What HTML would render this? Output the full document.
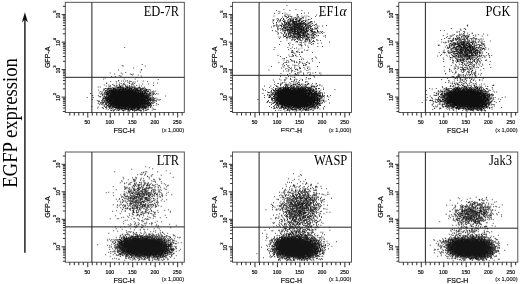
<!DOCTYPE html>
<html lang="en"><head><meta charset="utf-8"><title>EGFP expression</title>
<style>
html,body{margin:0;padding:0;background:#fff}
body{width:520px;height:284px;overflow:hidden}
svg{display:block}
text{font-family:"Liberation Sans",Arial,Helvetica,sans-serif;fill:#111}
.d{stroke:#000;stroke-width:.86;fill:none}
.f{fill:none;stroke:#444;stroke-width:.9}
.g{fill:none;stroke:#222;stroke-width:1}
.k{fill:none;stroke:#222;stroke-width:.95}
.n{font-size:5.1px;text-anchor:middle;stroke:#111;stroke-width:.22}
.y{font-size:4.8px;stroke:#111;stroke-width:.22}
.s{font-size:4.1px}
.m{font-size:5.7px;text-anchor:end;stroke:#111;stroke-width:.12}
.a{font-size:7px;text-anchor:middle;stroke:#111;stroke-width:.22}
.t{font-family:"Liberation Serif","Times New Roman",Times,serif;font-size:12.5px;fill:#000}
.big{font-family:"Liberation Serif","Times New Roman",Times,serif;font-size:18.6px;fill:#000}
</style></head><body>
<svg width="520" height="284" viewBox="0 0 520 284">
<defs><filter id="soft" x="0" y="0" width="520" height="284" filterUnits="userSpaceOnUse"><feGaussianBlur stdDeviation="0.3"/></filter></defs>
<rect width="520" height="284" fill="#fff"/>
<g filter="url(#soft)">
<text class="big" transform="translate(16.5 187.8) rotate(-90) scale(1 1.14)" textLength="129.7" lengthAdjust="spacingAndGlyphs">EGFP expression</text>
<path d="M24.9 252.8V18" stroke="#222" stroke-width="1.5" fill="none"/>
<path d="M24.9 12.2L27.9 22.4L24.9 19.6L21.9 22.4Z" fill="#111"/>
<g>
<path class="d" d="M124.3 47.55h.83M141.8 64.55h.83M121.8 65.55h.83M122.8 66.05h.83M144.8 66.05h.83M133.3 68.05h.83M141.3 69.55h.83M118.3 70.05h.83M140.8 70.05h.83M139.8 72.05h.83M125.3 72.55h.83M109.8 73.05h.83M120.8 73.05h.83M114.3 74.05h.83M122.3 74.05h.83M129.8 74.05h.83M132.8 74.05h.83M131.3 74.55h.83M132.3 75.05h.83M137.8 75.05h.83M118.8 75.55h.83M119.8 76.05h.83M120.8 76.05h.83M140.8 76.05h.83M111.3 76.55h.83M114.8 76.55h.83M136.3 77.55h.83M104.8 78.05h.83M103.3 79.05h.83M123.8 79.05h.83M134.8 79.05h.83M157.8 79.55h.83M118.3 80.55h.83M126.8 80.55h.83M118.3 81.05h.83M121.3 81.05h.83M123.3 81.05h.83M125.3 81.05h.83M129.3 81.05h.83M137.3 81.05h.83M142.8 81.05h.83M110.3 81.55h.83M115.8 81.55h.83M130.3 81.55h1.33M147.3 81.55h.83M127.3 82.05h.83M128.8 82.05h.83M132.8 82.05h.83M134.8 82.05h.83M106.3 83.05h.83M116.3 83.05h.83M119.3 83.05h.83M123.8 83.05h.83M128.8 83.05h.83M132.3 83.05h.83M153.3 83.05h.83M157.3 83.05h.83M106.3 83.55h.83M120.8 83.55h.83M123.3 83.55h.83M129.3 83.55h.83M134.3 83.55h.83M131.3 84.05h.83M132.3 84.05h1.33M142.3 84.05h.83M148.3 84.05h.83M112.3 84.55h.83M118.8 84.55h.83M123.3 84.55h.83M124.3 84.55h.83M103.8 85.05h.83M108.3 85.05h.83M113.3 85.05h.83M116.3 85.05h.83M118.8 85.05h.83M121.8 85.05h.83M124.8 85.05h.83M126.8 85.05h.83M131.3 85.05h.83M132.8 85.05h.83M138.8 85.05h.83M109.8 85.55h.83M114.3 85.55h.83M119.3 85.55h.83M125.3 85.55h.83M128.8 85.55h.83M136.3 85.55h.83M153.3 85.55h.83M105.8 86.05h.83M109.8 86.05h.83M115.8 86.05h1.83M119.8 86.05h.83M121.3 86.05h.83M122.3 86.05h1.33M129.3 86.05h.83M134.3 86.05h.83M141.3 86.05h.83M108.8 86.55h.83M118.8 86.55h.83M119.8 86.55h1.33M125.3 86.55h.83M126.3 86.55h.83M127.3 86.55h.83M128.8 86.55h.83M130.8 86.55h.83M131.8 86.55h.83M97.8 87.05h.83M99.8 87.05h.83M110.3 87.05h.83M113.8 87.05h.83M114.8 87.05h.83M115.8 87.05h.83M118.3 87.05h.83M119.8 87.05h1.33M121.8 87.05h.83M125.8 87.05h.83M126.8 87.05h1.33M129.3 87.05h1.33M131.3 87.05h.83M132.8 87.05h.83M133.8 87.05h.83M134.8 87.05h.83M138.8 87.05h1.33M144.3 87.05h.83M111.8 87.55h.83M116.8 87.55h2.33M119.3 87.55h.83M120.3 87.55h1.83M122.3 87.55h.83M123.3 87.55h.83M125.8 87.55h.83M126.8 87.55h1.83M128.8 87.55h.83M132.3 87.55h.83M134.3 87.55h.83M138.3 87.55h.83M139.3 87.55h.83M107.8 88.05h1.83M112.8 88.05h1.33M115.8 88.05h.83M117.3 88.05h2.83M120.3 88.05h.83M121.8 88.05h.83M122.8 88.05h.83M123.8 88.05h1.33M125.3 88.05h.83M126.8 88.05h.83M127.8 88.05h4.83M133.3 88.05h.83M134.3 88.05h1.33M136.3 88.05h.83M137.3 88.05h1.33M139.3 88.05h.83M140.3 88.05h.83M142.3 88.05h.83M143.3 88.05h.83M144.3 88.05h.83M104.8 88.55h1.83M107.3 88.55h.83M108.3 88.55h.83M109.3 88.55h2.33M112.8 88.55h2.33M115.3 88.55h.83M117.3 88.55h.83M119.8 88.55h.83M120.8 88.55h.83M122.3 88.55h1.83M124.8 88.55h1.33M126.3 88.55h.83M127.3 88.55h.83M128.8 88.55h1.33M130.3 88.55h1.83M133.8 88.55h1.33M135.3 88.55h.83M136.3 88.55h1.33M139.8 88.55h.83M141.3 88.55h1.33M143.3 88.55h.83M145.3 88.55h.83M103.3 89.05h1.33M107.8 89.05h.83M108.8 89.05h.83M109.8 89.05h1.33M111.3 89.05h.83M112.3 89.05h1.83M114.3 89.05h1.33M116.3 89.05h.83M117.8 89.05h.83M118.8 89.05h2.83M121.8 89.05h2.83M124.8 89.05h.83M125.8 89.05h1.33M127.3 89.05h.83M128.8 89.05h1.83M130.8 89.05h1.83M134.8 89.05h2.83M137.8 89.05h1.33M139.8 89.05h1.33M141.3 89.05h1.33M103.8 89.55h.83M107.3 89.55h1.33M110.8 89.55h.83M112.8 89.55h4.83M117.8 89.55h.83M118.8 89.55h3.83M122.8 89.55h3.33M126.3 89.55h.83M127.3 89.55h3.33M130.8 89.55h1.83M132.8 89.55h1.33M134.3 89.55h1.33M135.8 89.55h1.33M137.3 89.55h.83M139.8 89.55h.83M140.8 89.55h.83M141.8 89.55h.83M143.8 89.55h.83M145.3 89.55h2.33M149.3 89.55h.83M98.3 90.05h.83M106.3 90.05h2.33M109.3 90.05h.83M110.8 90.05h.83M111.8 90.05h2.33M114.8 90.05h1.33M116.3 90.05h1.33M117.8 90.05h3.33M121.3 90.05h2.33M123.8 90.05h6.83M130.8 90.05h1.33M132.8 90.05h1.33M134.8 90.05h3.33M139.3 90.05h1.83M142.8 90.05h.83M143.8 90.05h.83M145.3 90.05h1.83M147.8 90.05h1.33M150.3 90.05h.83M103.3 90.55h.83M105.3 90.55h1.33M108.8 90.55h7.33M116.3 90.55h4.33M121.3 90.55h2.83M124.3 90.55h1.33M125.8 90.55h5.83M131.8 90.55h1.33M133.3 90.55h2.83M136.3 90.55h4.33M140.8 90.55h.83M143.3 90.55h1.33M145.3 90.55h1.33M104.8 91.05h.83M105.8 91.05h.83M107.3 91.05h4.33M111.8 91.05h23.33M135.3 91.05h.83M136.3 91.05h2.83M139.8 91.05h.83M140.8 91.05h1.33M142.3 91.05h.83M144.3 91.05h1.33M145.8 91.05h1.33M147.3 91.05h.83M149.8 91.05h.83M153.3 91.05h.83M155.3 91.05h.83M99.8 91.55h.83M104.8 91.55h.83M106.8 91.55h1.33M108.3 91.55h1.33M109.8 91.55h.83M110.8 91.55h23.83M134.8 91.55h1.83M137.3 91.55h.83M138.3 91.55h.83M139.3 91.55h1.33M141.3 91.55h2.33M143.8 91.55h.83M144.8 91.55h.83M146.8 91.55h2.33M152.3 91.55h.83M101.3 92.05h.83M102.3 92.05h.83M106.8 92.05h.83M108.3 92.05h28.83M137.3 92.05h3.83M142.3 92.05h.83M143.8 92.05h1.33M145.3 92.05h.83M146.8 92.05h.83M151.3 92.05h.83M153.8 92.05h.83M104.3 92.55h1.33M105.8 92.55h1.33M107.3 92.55h.83M108.3 92.55h1.33M109.8 92.55h.83M110.8 92.55h26.33M137.3 92.55h1.83M139.8 92.55h1.83M141.8 92.55h1.33M143.8 92.55h.83M144.8 92.55h1.33M148.8 92.55h.83M149.8 92.55h.83M152.8 92.55h.83M98.8 93.05h.83M104.3 93.05h.83M106.3 93.05h.83M107.3 93.05h.83M108.3 93.05h.83M109.3 93.05h.83M110.3 93.05h12.33M122.8 93.05h15.33M138.3 93.05h4.83M143.3 93.05h1.33M144.8 93.05h.83M145.8 93.05h1.33M151.8 93.05h.83M90.3 93.55h.83M101.3 93.55h.83M104.8 93.55h.83M105.8 93.55h.83M106.8 93.55h2.83M109.8 93.55h35.33M145.3 93.55h1.83M147.3 93.55h.83M148.8 93.55h2.33M152.8 93.55h.83M153.8 93.55h.83M156.3 93.55h.83M100.3 94.05h.83M102.3 94.05h1.33M103.8 94.05h.83M106.3 94.05h1.33M107.8 94.05h2.33M110.3 94.05h33.33M144.3 94.05h.83M145.3 94.05h.83M146.3 94.05h1.33M148.3 94.05h1.33M150.3 94.05h.83M152.8 94.05h.83M157.8 94.05h.83M101.8 94.55h.83M104.8 94.55h.83M105.8 94.55h2.33M108.3 94.55h.83M109.8 94.55h.83M110.8 94.55h28.33M139.3 94.55h4.83M144.3 94.55h.83M145.8 94.55h.83M146.8 94.55h.83M148.3 94.55h1.33M152.8 94.55h.83M154.8 94.55h.83M102.3 95.05h.83M104.3 95.05h.83M106.8 95.05h38.83M146.3 95.05h.83M148.3 95.05h.83M149.3 95.05h.83M150.8 95.05h.83M151.8 95.05h1.33M92.3 95.55h.83M97.8 95.55h.83M102.3 95.55h.83M106.3 95.55h.83M108.3 95.55h35.83M144.3 95.55h3.83M148.3 95.55h.83M149.3 95.55h1.33M103.8 96.05h.83M105.8 96.05h.83M106.8 96.05h4.83M111.8 96.05h27.33M139.3 96.05h7.33M146.8 96.05h.83M148.3 96.05h.83M149.8 96.05h.83M165.3 96.05h.83M98.8 96.55h.83M100.3 96.55h.83M104.3 96.55h.83M105.8 96.55h.83M107.8 96.55h37.33M145.3 96.55h3.33M148.8 96.55h.83M151.8 96.55h.83M99.8 97.05h.83M102.8 97.05h1.33M104.3 97.05h1.83M106.3 97.05h.83M107.3 97.05h37.33M144.8 97.05h4.33M86.8 97.55h.83M92.8 97.55h.83M104.8 97.55h1.33M106.3 97.55h2.83M109.3 97.55h34.33M143.8 97.55h3.33M147.3 97.55h.83M148.3 97.55h.83M149.3 97.55h.83M150.3 97.55h.83M151.8 97.55h.83M153.3 97.55h.83M102.8 98.05h.83M104.8 98.05h3.83M109.3 98.05h39.83M150.3 98.05h.83M151.3 98.05h.83M153.3 98.05h.83M155.3 98.05h.83M102.8 98.55h1.33M104.3 98.55h.83M105.3 98.55h35.33M140.8 98.55h3.33M144.3 98.55h4.33M149.3 98.55h.83M150.3 98.55h.83M152.3 98.55h.83M153.8 98.55h.83M102.3 99.05h1.33M104.3 99.05h1.33M105.8 99.05h1.33M107.8 99.05h2.33M110.3 99.05h26.33M136.8 99.05h12.33M149.3 99.05h.83M150.3 99.05h1.33M152.8 99.05h.83M155.8 99.05h.83M157.3 99.05h.83M91.8 99.55h.83M102.3 99.55h.83M105.3 99.55h1.33M106.8 99.55h5.33M112.3 99.55h32.83M145.3 99.55h.83M146.8 99.55h1.33M148.3 99.55h2.83M151.3 99.55h.83M152.3 99.55h.83M153.3 99.55h1.33M159.8 99.55h.83M103.3 100.05h.83M105.8 100.05h1.83M107.8 100.05h.83M108.8 100.05h39.33M148.3 100.05h1.83M153.3 100.05h.83M157.8 100.05h.83M159.3 100.05h.83M96.8 100.55h.83M101.3 100.55h.83M102.3 100.55h.83M104.3 100.55h1.33M105.8 100.55h2.83M108.8 100.55h37.33M146.3 100.55h2.83M149.8 100.55h1.33M151.3 100.55h.83M152.3 100.55h1.33M154.3 100.55h1.33M155.8 100.55h.83M97.8 101.05h.83M98.8 101.05h.83M103.8 101.05h1.33M106.8 101.05h1.33M108.3 101.05h36.83M145.3 101.05h2.33M147.8 101.05h.83M148.8 101.05h.83M149.8 101.05h1.33M151.8 101.05h.83M153.8 101.05h.83M98.8 101.55h.83M102.3 101.55h.83M104.8 101.55h.83M106.3 101.55h1.33M107.8 101.55h31.83M139.8 101.55h3.83M143.8 101.55h3.33M147.3 101.55h1.83M152.8 101.55h.83M155.8 101.55h.83M98.3 102.05h.83M101.3 102.05h.83M103.3 102.05h1.83M105.8 102.05h.83M107.3 102.05h.83M108.3 102.05h1.33M109.8 102.05h37.33M147.3 102.05h.83M148.3 102.05h.83M149.8 102.05h.83M152.3 102.05h.83M100.3 102.55h.83M101.8 102.55h.83M103.3 102.55h.83M105.3 102.55h1.33M107.3 102.55h2.33M109.8 102.55h1.83M111.8 102.55h34.33M146.8 102.55h1.33M148.3 102.55h1.83M151.3 102.55h.83M154.3 102.55h.83M100.8 103.05h.83M101.8 103.05h2.33M105.8 103.05h.83M106.8 103.05h1.33M108.8 103.05h40.83M149.8 103.05h.83M150.8 103.05h1.33M152.8 103.05h1.33M97.8 103.55h.83M99.8 103.55h.83M105.3 103.55h1.33M107.8 103.55h.83M108.8 103.55h40.83M149.8 103.55h1.33M152.3 103.55h.83M156.3 103.55h.83M102.3 104.05h.83M105.3 104.05h.83M106.3 104.05h.83M109.3 104.05h30.83M140.3 104.05h3.83M144.3 104.05h2.33M147.3 104.05h.83M148.3 104.05h1.83M150.3 104.05h.83M99.3 104.55h.83M101.3 104.55h.83M104.8 104.55h.83M106.3 104.55h.83M107.8 104.55h1.33M109.8 104.55h2.33M112.3 104.55h29.33M141.8 104.55h1.83M143.8 104.55h2.83M146.8 104.55h1.83M149.3 104.55h1.83M157.8 104.55h.83M102.8 105.05h.83M104.3 105.05h.83M106.3 105.05h.83M108.8 105.05h.83M109.8 105.05h1.33M111.3 105.05h2.33M113.8 105.05h2.83M116.8 105.05h19.83M136.8 105.05h2.83M139.8 105.05h3.33M143.3 105.05h.83M144.8 105.05h.83M146.3 105.05h2.33M149.3 105.05h1.33M151.3 105.05h.83M155.8 105.05h.83M106.8 105.55h1.33M108.3 105.55h.83M109.8 105.55h1.33M111.3 105.55h1.33M112.8 105.55h1.83M114.8 105.55h15.83M130.8 105.55h10.83M141.8 105.55h3.33M146.3 105.55h1.33M147.8 105.55h2.33M150.8 105.55h.83M153.3 105.55h.83M104.3 106.05h.83M107.8 106.05h1.33M109.3 106.05h.83M110.3 106.05h.83M111.3 106.05h9.33M120.8 106.05h14.33M135.3 106.05h5.33M141.3 106.05h1.33M142.8 106.05h3.33M146.8 106.05h.83M148.3 106.05h.83M150.3 106.05h.83M151.3 106.05h.83M91.3 106.55h.83M103.8 106.55h.83M106.3 106.55h.83M108.8 106.55h1.33M110.3 106.55h.83M112.3 106.55h2.33M115.3 106.55h1.83M117.3 106.55h5.33M122.8 106.55h15.83M138.8 106.55h2.33M141.3 106.55h2.33M143.8 106.55h2.33M146.3 106.55h.83M147.8 106.55h.83M149.8 106.55h.83M97.8 107.05h.83M105.3 107.05h1.33M107.8 107.05h2.33M110.3 107.05h1.33M111.8 107.05h1.83M113.8 107.05h6.83M120.8 107.05h2.83M123.8 107.05h2.33M126.3 107.05h3.83M130.3 107.05h10.33M140.8 107.05h2.33M143.3 107.05h.83M144.8 107.05h2.33M147.3 107.05h.83M150.3 107.05h.83M101.8 107.55h.83M105.3 107.55h1.33M109.3 107.55h.83M112.3 107.55h.83M113.8 107.55h3.33M117.3 107.55h3.83M121.3 107.55h1.83M123.3 107.55h3.33M127.3 107.55h1.33M128.8 107.55h1.33M130.3 107.55h6.33M136.8 107.55h3.83M140.8 107.55h.83M141.8 107.55h1.33M143.3 107.55h2.83M146.3 107.55h.83M147.8 107.55h.83M149.8 107.55h.83M97.3 108.05h.83M102.8 108.05h.83M106.3 108.05h.83M110.3 108.05h.83M111.3 108.05h.83M112.8 108.05h.83M115.8 108.05h1.83M118.3 108.05h1.83M120.3 108.05h3.33M123.8 108.05h.83M124.8 108.05h1.33M126.3 108.05h4.33M130.8 108.05h3.83M135.3 108.05h.83M136.8 108.05h2.83M139.8 108.05h.83M141.3 108.05h2.83M145.3 108.05h.83M151.8 108.05h.83M102.8 108.55h.83M109.3 108.55h.83M110.8 108.55h.83M115.3 108.55h.83M116.8 108.55h.83M117.8 108.55h1.83M120.3 108.55h6.83M127.8 108.55h1.33M129.8 108.55h.83M130.8 108.55h1.83M132.8 108.55h.83M133.8 108.55h1.83M135.8 108.55h.83M136.8 108.55h.83M137.8 108.55h1.83M140.8 108.55h.83M142.8 108.55h.83M144.3 108.55h1.83M105.8 109.05h.83M111.8 109.05h.83M112.8 109.05h.83M116.8 109.05h1.33M118.8 109.05h1.83M120.8 109.05h.83M121.8 109.05h1.33M123.8 109.05h.83M124.8 109.05h.83M126.3 109.05h1.83M128.3 109.05h1.83M131.3 109.05h2.33M134.3 109.05h.83M136.8 109.05h.83M137.8 109.05h1.33M139.3 109.05h1.33M143.3 109.05h.83M146.3 109.05h1.33M147.8 109.05h.83M153.3 109.05h.83M107.8 109.55h.83M114.3 109.55h1.33M118.8 109.55h.83M120.8 109.55h.83M125.3 109.55h.83M126.3 109.55h1.33M127.8 109.55h1.33M129.8 109.55h3.33M133.8 109.55h.83M135.8 109.55h.83M136.8 109.55h1.33M138.3 109.55h.83M141.8 109.55h.83M142.8 109.55h.83M147.3 109.55h1.33M153.8 109.55h.83M154.8 109.55h.83M110.3 110.05h.83M116.3 110.05h1.33M117.8 110.05h.83M118.8 110.05h.83M121.8 110.05h.83M122.8 110.05h.83M123.8 110.05h1.83M127.8 110.05h1.33M130.3 110.05h.83M132.3 110.05h1.83M134.3 110.05h.83M135.3 110.05h.83M137.3 110.05h.83M138.3 110.05h1.33M139.8 110.05h.83M143.3 110.05h.83M145.3 110.05h.83M151.8 110.05h.83M110.8 110.55h1.33M112.8 110.55h.83M113.8 110.55h.83M118.3 110.55h.83M122.3 110.55h.83M123.3 110.55h.83M128.8 110.55h.83M132.3 110.55h.83M134.8 110.55h.83M135.8 110.55h1.33M138.8 110.55h.83M140.3 110.55h1.33M144.8 110.55h.83M146.3 110.55h.83M112.8 111.05h.83M123.3 111.05h.83M127.3 111.05h.83M128.3 111.05h.83M129.3 111.05h.83M133.8 111.05h1.33M140.3 111.05h1.33M143.3 111.05h.83"/>
<rect class="f" x="65.30" y="2.30" width="119.00" height="110.20"/>
<path class="g" d="M91.90 2.30V112.50M65.30 77.30H184.30"/>
<path class="k" d="M69.80 112.50v3.0M74.29 112.50v3.0M78.78 112.50v3.0M83.28 112.50v3.0M87.78 112.50v5.0M92.27 112.50v3.0M96.77 112.50v3.0M101.26 112.50v3.0M105.75 112.50v3.0M110.25 112.50v5.0M114.75 112.50v3.0M119.24 112.50v3.0M123.73 112.50v3.0M128.23 112.50v3.0M132.72 112.50v5.0M137.22 112.50v3.0M141.72 112.50v3.0M146.21 112.50v3.0M150.70 112.50v3.0M155.20 112.50v5.0M159.69 112.50v3.0M164.19 112.50v3.0M168.69 112.50v3.0M173.18 112.50v3.0M177.68 112.50v5.0M182.17 112.50v3.0M65.30 111.48h-2.4M65.30 108.04h-2.4M65.30 105.38h-2.4M65.30 103.20h-2.4M65.30 101.36h-2.4M65.30 99.77h-2.4M65.30 98.36h-2.4M65.30 97.10h-3.7M65.30 88.82h-2.4M65.30 83.98h-2.4M65.30 80.54h-2.4M65.30 77.88h-2.4M65.30 75.70h-2.4M65.30 73.86h-2.4M65.30 72.27h-2.4M65.30 70.86h-2.4M65.30 69.60h-3.7M65.30 61.32h-2.4M65.30 56.48h-2.4M65.30 53.04h-2.4M65.30 50.38h-2.4M65.30 48.20h-2.4M65.30 46.36h-2.4M65.30 44.77h-2.4M65.30 43.36h-2.4M65.30 42.10h-3.7M65.30 33.82h-2.4M65.30 28.98h-2.4M65.30 25.54h-2.4M65.30 22.88h-2.4M65.30 20.70h-2.4M65.30 18.86h-2.4M65.30 17.27h-2.4M65.30 15.86h-2.4M65.30 14.60h-3.7M65.30 6.32h-2.4"/>
<text class="n" x="87.38" y="124.10">50</text>
<text class="n" x="109.85" y="124.10">100</text>
<text class="n" x="132.32" y="124.10">150</text>
<text class="n" x="154.80" y="124.10">200</text>
<text class="n" x="177.28" y="124.10">250</text>
<text class="a" x="124.20" y="132.90">FSC-H</text>
<text class="m" x="184.20" y="131.70">(x 1,000)</text>
<text class="y" transform="translate(59.70 100.70) rotate(-90)">10<tspan class="s" dx=".2" dy="-3.7">2</tspan></text>
<text class="y" transform="translate(59.70 73.20) rotate(-90)">10<tspan class="s" dx=".2" dy="-3.7">3</tspan></text>
<text class="y" transform="translate(59.70 45.70) rotate(-90)">10<tspan class="s" dx=".2" dy="-3.7">4</tspan></text>
<text class="y" transform="translate(59.70 18.20) rotate(-90)">10<tspan class="s" dx=".2" dy="-3.7">5</tspan></text>
<text class="a" transform="translate(49.60 57.40) rotate(-90)">GFP-A</text>
<text class="t" transform="translate(143.70 15.95) scale(1 1.14)">ED-7R</text>
</g>
<g>
<path class="d" d="M286.5 5.55h.83M283.5 9.55h.83M295.5 9.55h.83M276 10.55h.83M289.5 10.55h.83M301.5 10.55h.83M278.5 11.55h.83M279.5 12.05h.83M284.5 13.05h.83M304 13.05h.83M308 13.05h.83M274 13.55h.83M278.5 13.55h.83M282 13.55h.83M301 13.55h.83M286.5 14.05h.83M297 14.55h.83M284.5 15.05h1.33M287.5 15.05h.83M289.5 15.05h.83M296.5 15.05h.83M297.5 15.05h.83M316 15.05h.83M273.5 16.05h.83M284 16.05h.83M288 16.05h.83M301.5 16.05h.83M304.5 16.05h.83M306.5 16.05h.83M285 16.55h.83M286 16.55h.83M288.5 16.55h.83M290 16.55h.83M291.5 16.55h.83M298 16.55h.83M308.5 16.55h.83M315 16.55h.83M319.5 16.55h.83M282 17.05h.83M288 17.05h.83M291 17.05h.83M296.5 17.05h1.33M303 17.05h.83M287 17.55h1.33M294.5 17.55h1.33M298.5 17.55h.83M302 17.55h.83M286 18.05h.83M291.5 18.05h.83M293.5 18.05h.83M297.5 18.05h.83M301.5 18.05h.83M303 18.05h.83M305.5 18.05h.83M277.5 18.55h.83M281 18.55h.83M283 18.55h.83M289.5 18.55h.83M291.5 18.55h.83M296 18.55h.83M300 18.55h.83M301 18.55h.83M311 18.55h.83M276.5 19.05h.83M283 19.05h.83M289.5 19.05h1.33M293 19.05h1.33M295 19.05h.83M296 19.05h1.83M299 19.05h1.33M273.5 19.55h.83M278 19.55h.83M280 19.55h.83M283 19.55h.83M288 19.55h.83M290 19.55h.83M292.5 19.55h1.33M295 19.55h1.33M299.5 19.55h1.33M308 19.55h.83M309.5 19.55h.83M272.5 20.05h.83M280 20.05h.83M284 20.05h.83M287.5 20.05h.83M289.5 20.05h.83M290.5 20.05h2.33M296 20.05h.83M298.5 20.05h1.83M301.5 20.05h.83M305.5 20.05h.83M307.5 20.05h.83M273 20.55h.83M277.5 20.55h.83M279.5 20.55h1.33M282 20.55h.83M290 20.55h.83M291.5 20.55h1.33M293 20.55h.83M297.5 20.55h2.83M303 20.55h.83M304.5 20.55h.83M305.5 20.55h.83M277 21.05h.83M284 21.05h.83M285 21.05h.83M287 21.05h.83M288.5 21.05h.83M290 21.05h1.33M292.5 21.05h.83M295 21.05h.83M296 21.05h1.33M299.5 21.05h.83M302 21.05h.83M279.5 21.55h.83M283 21.55h1.83M289.5 21.55h1.33M291.5 21.55h1.33M293 21.55h4.33M298 21.55h1.83M301 21.55h1.83M305 21.55h1.33M310 21.55h.83M311 21.55h1.33M272.5 22.05h.83M278.5 22.05h.83M287 22.05h.83M288 22.05h1.83M292 22.05h1.83M294 22.05h.83M296 22.05h1.33M298.5 22.05h.83M301 22.05h.83M303 22.05h.83M307.5 22.05h.83M314 22.05h.83M276 22.55h.83M284 22.55h1.33M285.5 22.55h.83M286.5 22.55h.83M288 22.55h.83M289.5 22.55h.83M292.5 22.55h1.33M294.5 22.55h.83M295.5 22.55h1.33M299.5 22.55h.83M300.5 22.55h.83M303.5 22.55h1.33M308.5 22.55h.83M309.5 22.55h1.33M276 23.05h.83M281 23.05h.83M286 23.05h1.33M288 23.05h.83M289.5 23.05h1.33M291.5 23.05h1.33M293 23.05h2.33M295.5 23.05h.83M297 23.05h.83M298 23.05h.83M299 23.05h3.83M303.5 23.05h.83M305.5 23.05h.83M309 23.05h.83M310.5 23.05h.83M311.5 23.05h.83M273 23.55h.83M282 23.55h.83M284 23.55h.83M286 23.55h1.33M288 23.55h1.83M293 23.55h.83M294 23.55h1.33M295.5 23.55h1.33M297 23.55h.83M298 23.55h1.83M300 23.55h1.33M301.5 23.55h1.33M303 23.55h1.33M304.5 23.55h1.33M307.5 23.55h1.33M312 23.55h.83M285 24.05h1.33M287.5 24.05h.83M288.5 24.05h.83M289.5 24.05h.83M291 24.05h4.33M296 24.05h1.33M297.5 24.05h1.33M300 24.05h1.33M301.5 24.05h2.33M304.5 24.05h.83M306.5 24.05h.83M307.5 24.05h1.33M316 24.05h.83M276.5 24.55h.83M282 24.55h.83M284.5 24.55h.83M285.5 24.55h.83M286.5 24.55h.83M287.5 24.55h.83M289 24.55h1.83M291.5 24.55h1.33M294 24.55h2.83M297 24.55h1.83M299 24.55h.83M300 24.55h1.83M304 24.55h.83M305 24.55h.83M306.5 24.55h.83M310.5 24.55h.83M315 24.55h.83M276 25.05h.83M279.5 25.05h.83M281 25.05h.83M283 25.05h1.33M284.5 25.05h2.33M288 25.05h1.33M290.5 25.05h.83M293 25.05h2.33M295.5 25.05h.83M296.5 25.05h1.83M299 25.05h1.33M301.5 25.05h1.33M303 25.05h.83M305 25.05h1.33M306.5 25.05h1.33M309 25.05h.83M313.5 25.05h.83M316 25.05h.83M273.5 25.55h.83M274.5 25.55h.83M280 25.55h.83M281 25.55h.83M283.5 25.55h1.33M288 25.55h1.33M289.5 25.55h1.33M291.5 25.55h.83M292.5 25.55h.83M293.5 25.55h.83M294.5 25.55h.83M295.5 25.55h1.33M297 25.55h1.33M298.5 25.55h1.83M300.5 25.55h.83M302.5 25.55h.83M305 25.55h1.33M306.5 25.55h.83M308.5 25.55h.83M309.5 25.55h1.33M312 25.55h.83M314 25.55h.83M326 25.55h.83M276 26.05h.83M277 26.05h.83M278 26.05h1.33M281.5 26.05h.83M283 26.05h.83M285.5 26.05h.83M286.5 26.05h1.33M290 26.05h.83M292.5 26.05h1.33M294.5 26.05h1.33M296 26.05h.83M297 26.05h4.33M301.5 26.05h1.33M305 26.05h.83M306.5 26.05h.83M308 26.05h.83M309 26.05h.83M317 26.05h.83M318.5 26.05h.83M322 26.05h.83M273.5 26.55h.83M281.5 26.55h.83M283.5 26.55h1.33M286.5 26.55h.83M287.5 26.55h.83M289.5 26.55h.83M291.5 26.55h.83M292.5 26.55h1.33M294 26.55h2.33M296.5 26.55h.83M298 26.55h.83M299 26.55h.83M300 26.55h.83M301 26.55h.83M302 26.55h1.33M304.5 26.55h1.33M307.5 26.55h.83M310 26.55h.83M311 26.55h.83M271 27.05h.83M281 27.05h.83M285 27.05h.83M287 27.05h2.83M290.5 27.05h1.83M292.5 27.05h1.33M294 27.05h.83M295.5 27.05h1.33M297 27.05h2.33M301 27.05h1.33M303.5 27.05h1.33M306.5 27.05h1.83M308.5 27.05h.83M310 27.05h1.33M315.5 27.05h.83M277.5 27.55h.83M283 27.55h.83M284 27.55h.83M285 27.55h1.33M286.5 27.55h.83M289 27.55h3.83M294 27.55h.83M295 27.55h2.33M297.5 27.55h2.83M300.5 27.55h.83M301.5 27.55h.83M303 27.55h1.33M306 27.55h.83M308 27.55h.83M309.5 27.55h.83M317 27.55h.83M277 28.05h.83M283 28.05h1.83M286 28.05h1.83M288.5 28.05h.83M290.5 28.05h.83M291.5 28.05h.83M293 28.05h3.33M297 28.05h2.33M299.5 28.05h1.83M302 28.05h2.83M305 28.05h1.83M307 28.05h1.83M314 28.05h1.33M317.5 28.05h.83M279.5 28.55h.83M280.5 28.55h.83M282 28.55h.83M285 28.55h1.33M289.5 28.55h.83M290.5 28.55h.83M291.5 28.55h1.83M293.5 28.55h1.33M295.5 28.55h.83M296.5 28.55h1.83M298.5 28.55h.83M299.5 28.55h.83M300.5 28.55h1.83M303 28.55h.83M306 28.55h1.33M308 28.55h.83M310 28.55h1.33M312 28.55h.83M315.5 28.55h1.33M277 29.05h.83M278 29.05h.83M282 29.05h1.33M284 29.05h.83M285 29.05h.83M287.5 29.05h1.33M289.5 29.05h1.83M291.5 29.05h4.33M296 29.05h.83M298 29.05h4.33M302.5 29.05h.83M303.5 29.05h2.33M310 29.05h.83M311 29.05h.83M315 29.05h.83M316 29.05h.83M281.5 29.55h.83M286.5 29.55h2.83M289.5 29.55h1.33M291 29.55h1.33M292.5 29.55h.83M293.5 29.55h1.33M295 29.55h1.33M296.5 29.55h1.33M298.5 29.55h4.33M303 29.55h.83M305.5 29.55h1.83M309 29.55h.83M312 29.55h.83M313.5 29.55h.83M277.5 30.05h.83M280 30.05h.83M282 30.05h.83M283 30.05h.83M285.5 30.05h1.33M287 30.05h.83M288.5 30.05h.83M292 30.05h1.33M294 30.05h2.33M296.5 30.05h1.33M298 30.05h1.83M301 30.05h1.33M302.5 30.05h1.83M304.5 30.05h2.33M307.5 30.05h1.33M311 30.05h.83M312 30.05h.83M317 30.05h.83M272 30.55h.83M284 30.55h.83M285 30.55h1.33M287 30.55h1.33M289 30.55h.83M290 30.55h2.33M293.5 30.55h2.33M297 30.55h1.33M299.5 30.55h.83M300.5 30.55h1.33M302 30.55h2.83M306 30.55h1.33M307.5 30.55h.83M310 30.55h1.83M317 30.55h.83M275 31.05h.83M282.5 31.05h.83M283.5 31.05h.83M285 31.05h.83M287 31.05h.83M288 31.05h.83M289 31.05h.83M290.5 31.05h3.33M294.5 31.05h.83M296.5 31.05h.83M297.5 31.05h1.33M299 31.05h1.33M300.5 31.05h.83M303 31.05h1.33M306 31.05h.83M307.5 31.05h1.33M311 31.05h.83M312 31.05h.83M317 31.05h.83M276.5 31.55h.83M289.5 31.55h.83M290.5 31.55h.83M292 31.55h1.33M293.5 31.55h3.33M297 31.55h.83M298 31.55h.83M300 31.55h2.83M304 31.55h.83M305 31.55h1.33M306.5 31.55h1.33M311 31.55h.83M312 31.55h1.33M314 31.55h1.33M317 31.55h1.33M320.5 31.55h.83M322 31.55h.83M284.5 32.05h.83M287 32.05h.83M288 32.05h.83M289 32.05h.83M291.5 32.05h1.83M293.5 32.05h1.33M295 32.05h1.83M297 32.05h.83M298.5 32.05h1.33M300 32.05h.83M301 32.05h.83M303 32.05h1.33M304.5 32.05h2.33M307 32.05h.83M309.5 32.05h.83M310.5 32.05h.83M311.5 32.05h.83M313 32.05h.83M317.5 32.05h1.33M319.5 32.05h.83M277.5 32.55h.83M280.5 32.55h.83M284 32.55h1.33M289 32.55h.83M290 32.55h1.33M291.5 32.55h.83M294 32.55h1.33M297 32.55h2.83M300 32.55h1.33M301.5 32.55h1.83M303.5 32.55h.83M304.5 32.55h1.83M313.5 32.55h1.33M315 32.55h.83M321 32.55h.83M323.5 32.55h.83M284 33.05h.83M288.5 33.05h.83M289.5 33.05h.83M291.5 33.05h.83M293.5 33.05h.83M295 33.05h.83M298 33.05h2.33M302.5 33.05h1.83M304.5 33.05h1.83M311.5 33.05h1.33M313 33.05h.83M314.5 33.05h.83M316 33.05h.83M317.5 33.05h.83M278 33.55h.83M281.5 33.55h.83M284.5 33.55h.83M286.5 33.55h.83M288 33.55h1.33M290 33.55h.83M292 33.55h.83M293 33.55h2.83M296 33.55h3.33M300.5 33.55h.83M301.5 33.55h.83M302.5 33.55h1.83M305.5 33.55h.83M307 33.55h1.33M312 33.55h1.33M319.5 33.55h.83M322 33.55h.83M277.5 34.05h.83M286 34.05h.83M288 34.05h.83M289 34.05h.83M291 34.05h.83M294 34.05h.83M295 34.05h.83M296 34.05h1.83M298.5 34.05h2.33M301.5 34.05h2.33M304 34.05h1.33M308 34.05h.83M309.5 34.05h.83M313.5 34.05h.83M283 34.55h.83M286 34.55h.83M288 34.55h.83M290 34.55h.83M293 34.55h1.33M295.5 34.55h.83M297 34.55h.83M298 34.55h1.33M299.5 34.55h1.33M303 34.55h1.33M305.5 34.55h.83M307 34.55h.83M308 34.55h.83M311.5 34.55h.83M314 34.55h.83M315 34.55h.83M285 35.05h1.33M292.5 35.05h1.33M294 35.05h1.83M296.5 35.05h.83M298 35.05h.83M299 35.05h.83M302 35.05h1.83M304 35.05h.83M305.5 35.05h1.33M308.5 35.05h.83M309.5 35.05h.83M310.5 35.05h1.33M312 35.05h.83M313 35.05h.83M314.5 35.05h.83M283 35.55h.83M286.5 35.55h.83M288 35.55h.83M290 35.55h.83M291 35.55h.83M292.5 35.55h.83M296.5 35.55h.83M297.5 35.55h.83M299 35.55h3.83M303.5 35.55h.83M304.5 35.55h.83M305.5 35.55h1.83M313 35.55h.83M316.5 35.55h.83M318 35.55h.83M325 35.55h.83M285.5 36.05h.83M289.5 36.05h.83M290.5 36.05h.83M293.5 36.05h1.33M297 36.05h.83M298 36.05h1.33M300 36.05h.83M302 36.05h.83M303 36.05h2.33M305.5 36.05h.83M307 36.05h.83M311 36.05h.83M312 36.05h.83M313 36.05h.83M316.5 36.05h.83M323.5 36.05h.83M284 36.55h1.83M287.5 36.55h.83M289 36.55h.83M290 36.55h1.33M292 36.55h.83M293.5 36.55h2.83M298 36.55h.83M299 36.55h.83M300 36.55h.83M302.5 36.55h.83M304 36.55h.83M306 36.55h1.33M278.5 37.05h.83M280 37.05h.83M283 37.05h.83M287.5 37.05h.83M288.5 37.05h.83M292.5 37.05h.83M296 37.05h2.83M299 37.05h.83M300 37.05h.83M305 37.05h.83M306.5 37.05h.83M307.5 37.05h2.83M313.5 37.05h1.33M325 37.05h.83M286 37.55h1.33M289.5 37.55h.83M291.5 37.55h.83M292.5 37.55h.83M293.5 37.55h.83M294.5 37.55h1.33M296.5 37.55h.83M298 37.55h1.33M299.5 37.55h.83M300.5 37.55h1.83M302.5 37.55h.83M303.5 37.55h.83M307.5 37.55h1.33M311 37.55h.83M312 37.55h.83M314.5 37.55h.83M286 38.05h.83M287 38.05h.83M292 38.05h.83M293.5 38.05h.83M294.5 38.05h.83M296.5 38.05h.83M302.5 38.05h.83M303.5 38.05h.83M304.5 38.05h.83M306.5 38.05h1.33M309.5 38.05h.83M312 38.05h.83M313.5 38.05h.83M279 38.55h.83M289.5 38.55h.83M296.5 38.55h1.83M298.5 38.55h.83M299.5 38.55h.83M302 38.55h.83M305.5 38.55h.83M306.5 38.55h.83M308 38.55h.83M313 38.55h.83M292 39.05h.83M300 39.05h.83M306.5 39.05h.83M311 39.05h.83M291.5 39.55h.83M293.5 39.55h.83M294.5 39.55h1.33M297 39.55h.83M298.5 39.55h1.33M302.5 39.55h.83M305 39.55h.83M306 39.55h.83M307 39.55h.83M308.5 39.55h1.33M316.5 39.55h.83M286.5 40.05h.83M300 40.05h.83M305 40.05h.83M306.5 40.05h1.33M310.5 40.05h.83M316.5 40.05h.83M291.5 40.55h.83M294 40.55h.83M298.5 40.55h.83M300.5 40.55h.83M301.5 40.55h.83M309 40.55h.83M313 40.55h.83M317.5 40.55h.83M320 40.55h.83M304 41.05h.83M305 41.05h.83M307.5 41.05h.83M309 41.05h1.33M280.5 41.55h.83M296 41.55h.83M297 41.55h.83M305.5 41.55h.83M309.5 41.55h.83M312 41.55h.83M313 41.55h.83M314 41.55h.83M295.5 42.05h.83M297 42.05h.83M301 42.05h.83M305.5 42.05h.83M329 42.05h.83M299.5 42.55h.83M300.5 42.55h.83M303.5 42.55h.83M311 42.55h.83M289.5 43.05h.83M308.5 43.05h.83M309.5 43.05h1.33M321 43.05h.83M288 43.55h.83M313 43.55h.83M317.5 43.55h.83M301 44.05h.83M304.5 44.05h.83M312.5 44.05h.83M279 44.55h.83M292.5 44.55h.83M298.5 44.55h.83M300 44.55h.83M311 44.55h.83M289 45.05h.83M299.5 45.05h.83M305 45.05h.83M301 45.55h1.33M301 46.05h.83M307.5 46.05h.83M317.5 46.55h.83M322 46.55h.83M292 47.05h.83M274.5 47.55h.83M287.5 47.55h.83M308 47.55h.83M296 48.05h.83M301.5 48.05h.83M290.5 48.55h.83M294 48.55h.83M298.5 49.05h.83M273.5 49.55h.83M288 49.55h.83M304 50.05h.83M307.5 50.05h.83M292 50.55h.83M306.5 50.55h.83M291 51.05h.83M292 51.05h.83M297.5 51.05h.83M296 51.55h.83M293 52.05h.83M296.5 52.05h.83M297.5 52.05h.83M301 52.05h.83M302 52.05h.83M291 52.55h.83M292 52.55h.83M299 52.55h.83M301.5 52.55h.83M312 52.55h.83M293.5 53.05h.83M294.5 53.55h.83M292 54.55h.83M299 54.55h.83M288.5 55.05h.83M295.5 55.05h.83M277.5 55.55h.83M293 55.55h.83M295 55.55h.83M292 56.05h.83M293 56.05h.83M280 56.55h.83M289.5 56.55h.83M291.5 56.55h.83M296.5 56.55h.83M300 56.55h.83M315 57.05h.83M286 57.55h.83M301.5 58.05h.83M316 58.05h.83M282.5 58.55h.83M284 58.55h.83M312 58.55h.83M303 59.05h.83M311.5 59.05h.83M290 59.55h1.33M299 59.55h.83M301 59.55h.83M283.5 60.05h.83M287.5 60.55h.83M291.5 60.55h.83M286 61.05h.83M291.5 61.05h.83M292.5 61.05h.83M294 61.05h.83M312 61.05h.83M294 61.55h.83M299 61.55h.83M288 62.05h1.33M296 62.05h.83M299.5 62.05h.83M300.5 62.05h.83M307 62.05h.83M278.5 62.55h.83M284.5 62.55h.83M285.5 62.55h.83M286.5 62.55h.83M294 62.55h.83M296.5 62.55h.83M306 62.55h.83M319 62.55h.83M299 63.05h.83M302 63.05h.83M308.5 63.05h.83M283 63.55h.83M302.5 63.55h.83M304.5 63.55h.83M309 63.55h.83M298 64.05h.83M282.5 64.55h.83M286 64.55h.83M305.5 64.55h1.33M292.5 65.05h.83M294.5 65.05h.83M303 65.05h.83M305.5 65.05h.83M284 65.55h.83M288.5 65.55h.83M294.5 65.55h.83M296.5 65.55h.83M303 65.55h.83M304.5 65.55h.83M282.5 66.05h.83M287 66.05h.83M298.5 66.05h.83M271 66.55h.83M317 66.55h.83M283.5 67.05h.83M288 67.05h.83M294.5 67.05h.83M307 67.05h.83M308.5 67.05h.83M289 67.55h.83M299 67.55h.83M303.5 67.55h.83M281 68.05h.83M291 68.05h.83M294 68.05h.83M300 68.05h.83M286.5 68.55h.83M290 68.55h.83M299 68.55h.83M300 68.55h.83M307 68.55h.83M285 69.05h.83M296.5 69.05h.83M304.5 69.05h.83M309.5 69.05h.83M288.5 69.55h.83M295 69.55h1.33M297 69.55h.83M268.5 70.05h.83M288.5 70.05h.83M291 70.05h.83M308.5 70.05h.83M292 70.55h.83M297.5 70.55h.83M306.5 70.55h.83M283 71.05h.83M286.5 71.05h.83M288 71.05h.83M291.5 71.05h.83M300.5 71.05h.83M294.5 71.55h.83M291 72.05h.83M299.5 72.05h.83M300.5 72.05h.83M297.5 72.55h.83M308.5 72.55h.83M315 72.55h.83M297 73.05h.83M298.5 73.05h.83M303 73.05h.83M307 73.05h.83M310 73.05h.83M312.5 73.05h.83M319 73.05h.83M320.5 73.05h.83M280.5 73.55h.83M289.5 73.55h.83M295 73.55h.83M294.5 74.05h.83M303 74.05h.83M287 74.55h.83M295.5 74.55h.83M296.5 74.55h.83M309.5 74.55h.83M298 75.05h.83M303.5 75.05h.83M309.5 75.05h.83M320.5 75.05h.83M283.5 75.55h.83M294 75.55h.83M301.5 75.55h.83M310.5 75.55h.83M313.5 75.55h.83M313.5 76.05h.83M280 76.55h.83M288 76.55h.83M290.5 76.55h.83M292.5 77.05h.83M294.5 77.05h.83M314 77.05h.83M285.5 77.55h.83M294 77.55h.83M306 77.55h.83M286.5 78.05h.83M290 78.55h.83M308.5 78.55h.83M310 78.55h.83M279 79.05h.83M285.5 79.05h.83M290 79.05h.83M295.5 79.05h.83M300.5 79.05h.83M305.5 79.05h.83M308.5 79.05h.83M284.5 79.55h.83M290.5 79.55h.83M294 79.55h.83M296.5 79.55h.83M302 79.55h.83M273 80.05h.83M280.5 80.05h.83M284.5 80.05h.83M284.5 80.55h.83M294 80.55h.83M299 80.55h.83M302 80.55h.83M293.5 81.05h.83M296 81.05h.83M291 81.55h.83M292.5 81.55h.83M305.5 81.55h.83M306.5 81.55h.83M274 82.05h.83M284 82.05h.83M295.5 82.05h.83M298 82.05h1.33M282.5 82.55h.83M289.5 82.55h.83M297.5 82.55h.83M305 82.55h.83M280.5 83.05h.83M282 83.05h.83M285.5 83.05h.83M293 83.05h.83M294.5 83.05h.83M299 83.05h.83M307.5 83.05h.83M277.5 83.55h1.33M290.5 83.55h.83M297 83.55h.83M308 83.55h.83M312 83.55h.83M316 83.55h.83M280.5 84.05h1.33M285.5 84.05h.83M288.5 84.05h.83M295.5 84.05h1.33M297.5 84.05h.83M301 84.05h.83M302.5 84.05h.83M307.5 84.05h.83M308.5 84.05h.83M315.5 84.05h.83M274 84.55h.83M280 84.55h.83M285.5 84.55h.83M286.5 84.55h.83M292.5 84.55h1.83M294.5 84.55h1.33M298 84.55h.83M299 84.55h.83M300.5 84.55h.83M305 84.55h.83M307 84.55h.83M319.5 84.55h.83M284 85.05h.83M285.5 85.05h1.33M287 85.05h.83M288 85.05h.83M289.5 85.05h.83M290.5 85.05h.83M295 85.05h.83M298.5 85.05h1.33M302.5 85.05h.83M304 85.05h.83M305.5 85.05h.83M306.5 85.05h.83M311 85.05h.83M275.5 85.55h.83M280 85.55h.83M286 85.55h.83M291 85.55h.83M293.5 85.55h.83M296.5 85.55h.83M300 85.55h.83M317 85.55h.83M319.5 85.55h.83M264 86.05h.83M270.5 86.05h.83M276.5 86.05h.83M285 86.05h.83M287 86.05h.83M290.5 86.05h2.33M293.5 86.05h.83M297.5 86.05h.83M302 86.05h.83M305 86.05h.83M306 86.05h.83M310.5 86.05h.83M312 86.05h.83M313 86.05h1.33M316.5 86.05h.83M321.5 86.05h.83M276 86.55h.83M277.5 86.55h.83M283 86.55h.83M285 86.55h1.33M287 86.55h.83M290 86.55h1.33M293.5 86.55h.83M296 86.55h.83M297.5 86.55h.83M298.5 86.55h.83M299.5 86.55h.83M301 86.55h.83M303.5 86.55h.83M305 86.55h.83M311 86.55h.83M312.5 86.55h.83M314 86.55h1.33M316 86.55h.83M280.5 87.05h.83M286 87.05h.83M288.5 87.05h.83M292.5 87.05h2.33M296.5 87.05h1.83M302 87.05h.83M303.5 87.05h.83M304.5 87.05h.83M306.5 87.05h.83M308.5 87.05h.83M311 87.05h1.33M313.5 87.05h.83M269 87.55h.83M273 87.55h.83M277.5 87.55h.83M280.5 87.55h.83M282 87.55h.83M283 87.55h.83M284 87.55h.83M285 87.55h.83M286.5 87.55h1.33M288 87.55h2.33M291 87.55h1.33M292.5 87.55h1.83M295.5 87.55h.83M296.5 87.55h.83M298 87.55h.83M299.5 87.55h1.33M301 87.55h1.33M302.5 87.55h.83M303.5 87.55h.83M304.5 87.55h.83M305.5 87.55h2.83M309 87.55h.83M310 87.55h.83M314.5 87.55h.83M278.5 88.05h1.83M280.5 88.05h.83M281.5 88.05h.83M283.5 88.05h.83M284.5 88.05h4.33M290 88.05h1.33M291.5 88.05h.83M293 88.05h1.83M295.5 88.05h.83M296.5 88.05h.83M297.5 88.05h1.83M300 88.05h.83M301.5 88.05h.83M302.5 88.05h.83M304.5 88.05h.83M307 88.05h1.33M308.5 88.05h1.33M311 88.05h.83M323 88.05h.83M271.5 88.55h.83M275 88.55h.83M276.5 88.55h.83M278.5 88.55h.83M279.5 88.55h1.83M283 88.55h1.83M285 88.55h1.33M286.5 88.55h2.83M290 88.55h1.33M291.5 88.55h1.83M293.5 88.55h2.83M296.5 88.55h1.33M298 88.55h3.33M301.5 88.55h3.33M305 88.55h1.33M308 88.55h.83M309 88.55h.83M310 88.55h1.33M312.5 88.55h.83M315 88.55h.83M316 88.55h.83M318 88.55h1.83M262 89.05h.83M275 89.05h.83M276.5 89.05h.83M277.5 89.05h.83M279 89.05h1.33M280.5 89.05h1.33M282 89.05h6.83M289 89.05h1.83M291 89.05h1.83M293 89.05h1.83M295.5 89.05h1.83M298 89.05h1.33M299.5 89.05h1.33M301 89.05h1.83M303 89.05h2.83M306.5 89.05h1.83M308.5 89.05h.83M309.5 89.05h.83M310.5 89.05h.83M312.5 89.05h.83M315.5 89.05h1.33M272.5 89.55h.83M275 89.55h.83M278 89.55h.83M279.5 89.55h1.33M281.5 89.55h2.33M284 89.55h7.33M292.5 89.55h3.83M296.5 89.55h8.33M305 89.55h1.83M307.5 89.55h1.83M309.5 89.55h1.33M311 89.55h.83M313 89.55h1.33M315.5 89.55h.83M323 89.55h.83M334.5 89.55h.83M263 90.05h.83M273 90.05h1.33M275 90.05h.83M276.5 90.05h2.33M279.5 90.05h.83M280.5 90.05h1.83M282.5 90.05h3.33M286 90.05h7.33M293.5 90.05h3.33M297 90.05h1.83M299 90.05h1.83M301 90.05h6.33M307.5 90.05h1.83M309.5 90.05h1.33M311 90.05h2.33M313.5 90.05h.83M320.5 90.05h.83M265 90.55h.83M271 90.55h.83M273 90.55h.83M274 90.55h.83M276 90.55h.83M277 90.55h2.83M280 90.55h1.83M282 90.55h22.83M305 90.55h1.83M307 90.55h.83M308 90.55h3.33M312 90.55h.83M313 90.55h1.33M314.5 90.55h.83M316.5 90.55h.83M271 91.05h.83M273.5 91.05h.83M274.5 91.05h2.33M277.5 91.05h.83M278.5 91.05h10.83M289.5 91.05h18.33M308.5 91.05h3.33M312.5 91.05h.83M315.5 91.05h.83M318.5 91.05h.83M319.5 91.05h.83M270.5 91.55h.83M274.5 91.55h.83M277 91.55h30.83M308.5 91.55h2.83M312 91.55h.83M313 91.55h1.33M314.5 91.55h.83M315.5 91.55h1.83M319 91.55h.83M267 92.05h.83M275.5 92.05h32.33M308 92.05h.83M309 92.05h2.33M311.5 92.05h1.83M314.5 92.05h2.33M268 92.55h1.83M271.5 92.55h.83M273.5 92.55h.83M275 92.55h1.33M276.5 92.55h1.33M278 92.55h1.33M279.5 92.55h4.83M284.5 92.55h19.83M304.5 92.55h2.33M307.5 92.55h1.83M309.5 92.55h2.83M314 92.55h1.83M316.5 92.55h.83M318.5 92.55h.83M319.5 92.55h.83M320.5 92.55h.83M270.5 93.05h.83M271.5 93.05h1.33M273 93.05h1.83M275 93.05h1.33M276.5 93.05h29.83M306.5 93.05h5.83M312.5 93.05h2.33M315 93.05h.83M316 93.05h.83M317.5 93.05h1.33M320 93.05h.83M321.5 93.05h1.33M324 93.05h.83M262.5 93.55h.83M272 93.55h.83M275 93.55h1.83M277 93.55h9.83M287 93.55h25.83M313 93.55h1.83M315 93.55h2.33M317.5 93.55h.83M318.5 93.55h1.33M272.5 94.05h.83M274.5 94.05h.83M275.5 94.05h2.83M278.5 94.05h31.83M310.5 94.05h2.33M313 94.05h3.33M316.5 94.05h.83M317.5 94.05h2.33M320 94.05h.83M322 94.05h.83M267.5 94.55h.83M271 94.55h.83M272.5 94.55h.83M273.5 94.55h1.33M275 94.55h.83M276 94.55h1.33M277.5 94.55h29.83M308 94.55h2.33M310.5 94.55h6.33M317 94.55h.83M322 94.55h.83M267 95.05h.83M269 95.05h.83M270 95.05h1.33M272.5 95.05h.83M274 95.05h4.83M279 95.05h31.33M310.5 95.05h.83M311.5 95.05h.83M312.5 95.05h.83M313.5 95.05h2.33M316 95.05h3.33M319.5 95.05h1.33M264 95.55h.83M269 95.55h.83M271.5 95.55h.83M274 95.55h1.33M276.5 95.55h33.33M310.5 95.55h3.33M314 95.55h1.33M315.5 95.55h1.33M317 95.55h1.83M319 95.55h1.33M320.5 95.55h.83M322 95.55h1.33M324 95.55h.83M327 95.55h.83M330 95.55h.83M268.5 96.05h1.33M275 96.05h.83M276.5 96.05h32.83M309.5 96.05h4.83M315 96.05h2.33M317.5 96.05h1.33M319 96.05h.83M320 96.05h1.33M322.5 96.05h.83M270 96.55h.83M273 96.55h2.33M276.5 96.55h.83M277.5 96.55h32.83M310.5 96.55h3.33M314 96.55h1.83M316 96.55h1.33M318.5 96.55h1.33M320.5 96.55h1.33M322.5 96.55h1.33M327 96.55h.83M269 97.05h.83M270.5 97.05h.83M273.5 97.05h1.83M275.5 97.05h33.33M309 97.05h3.83M313 97.05h2.33M315.5 97.05h2.33M318.5 97.05h2.33M321 97.05h.83M322 97.05h.83M324 97.05h.83M328.5 97.05h.83M264 97.55h.83M268.5 97.55h1.83M272.5 97.55h.83M275 97.55h1.83M277 97.55h39.33M316.5 97.55h1.83M320.5 97.55h.83M271 98.05h1.33M274 98.05h1.33M276 98.05h2.33M278.5 98.05h36.33M315 98.05h.83M316.5 98.05h2.33M321 98.05h1.33M271.5 98.55h1.33M273 98.55h2.33M275.5 98.55h.83M277 98.55h2.83M280 98.55h35.83M316 98.55h.83M317 98.55h1.83M319 98.55h1.83M271 99.05h.83M272 99.05h.83M275 99.05h41.33M316.5 99.05h1.33M318 99.05h1.33M319.5 99.05h.83M321.5 99.05h.83M323.5 99.05h.83M257.5 99.55h.83M271.5 99.55h1.33M274 99.55h.83M275.5 99.55h2.83M278.5 99.55h1.33M280 99.55h33.83M314 99.55h1.83M316 99.55h2.33M319 99.55h1.33M328 99.55h.83M271 100.05h.83M274.5 100.05h1.83M276.5 100.05h1.33M278 100.05h33.83M312 100.05h5.83M318 100.05h1.33M319.5 100.05h.83M322.5 100.05h.83M268 100.55h.83M272.5 100.55h.83M273.5 100.55h.83M275.5 100.55h43.33M319 100.55h.83M320.5 100.55h.83M321.5 100.55h.83M323 100.55h1.33M268 101.05h.83M272 101.05h.83M275 101.05h.83M276 101.05h2.83M279.5 101.05h.83M280.5 101.05h35.83M317 101.05h1.33M319 101.05h.83M325.5 101.05h.83M267 101.55h.83M274.5 101.55h1.33M277.5 101.55h37.83M316.5 101.55h1.83M319 101.55h1.33M323 101.55h.83M267 102.05h.83M273.5 102.05h.83M274.5 102.05h1.33M276.5 102.05h1.33M278 102.05h36.83M316 102.05h.83M317 102.05h.83M318 102.05h1.33M320 102.05h.83M321.5 102.05h.83M324 102.05h.83M266.5 102.55h.83M269 102.55h.83M270.5 102.55h.83M274 102.55h1.33M276 102.55h1.83M279 102.55h33.33M312.5 102.55h4.83M317.5 102.55h1.33M322 102.55h.83M271.5 103.05h.83M273 103.05h1.33M276 103.05h.83M277 103.05h1.33M278.5 103.05h2.83M281.5 103.05h34.83M316.5 103.05h.83M317.5 103.05h.83M318.5 103.05h1.33M329 103.05h.83M272.5 103.55h.83M276 103.55h.83M277 103.55h1.33M279 103.55h29.33M308.5 103.55h4.33M313 103.55h1.33M315 103.55h1.33M316.5 103.55h1.83M318.5 103.55h1.83M320.5 103.55h.83M321.5 103.55h.83M275.5 104.05h.83M276.5 104.05h3.33M280 104.05h.83M281 104.05h31.33M312.5 104.05h1.33M314.5 104.05h.83M315.5 104.05h2.83M318.5 104.05h.83M319.5 104.05h.83M271 104.55h.83M275 104.55h.83M277.5 104.55h.83M279.5 104.55h1.33M281 104.55h2.83M284 104.55h1.33M285.5 104.55h23.83M309.5 104.55h3.33M313 104.55h2.33M316 104.55h.83M317 104.55h.83M318.5 104.55h.83M275.5 105.05h.83M276.5 105.05h.83M278 105.05h1.33M279.5 105.05h.83M280.5 105.05h1.33M282 105.05h.83M283 105.05h22.33M305.5 105.05h4.83M310.5 105.05h3.83M315 105.05h.83M316.5 105.05h1.33M319 105.05h.83M320 105.05h.83M274 105.55h.83M277 105.55h.83M278 105.55h.83M281.5 105.55h1.83M283.5 105.55h3.83M287.5 105.55h1.33M289 105.55h10.33M299.5 105.55h3.33M303 105.55h7.83M311.5 105.55h2.33M314 105.55h.83M316 105.55h.83M318.5 105.55h.83M319.5 105.55h1.33M276.5 106.05h.83M281 106.05h1.83M283.5 106.05h7.33M291 106.05h.83M292 106.05h2.83M295 106.05h5.33M300.5 106.05h6.83M308 106.05h.83M309 106.05h.83M310 106.05h1.83M312 106.05h.83M313.5 106.05h1.83M315.5 106.05h.83M316.5 106.05h.83M269 106.55h.83M273 106.55h.83M278 106.55h.83M280.5 106.55h2.83M284.5 106.55h.83M285.5 106.55h.83M286.5 106.55h2.83M289.5 106.55h1.33M291 106.55h.83M293 106.55h10.83M304 106.55h1.83M306 106.55h2.33M308.5 106.55h.83M310 106.55h.83M311 106.55h.83M312 106.55h1.83M314.5 106.55h1.33M317 106.55h.83M324 106.55h.83M274 107.05h.83M276 107.05h.83M278 107.05h.83M279 107.05h.83M281.5 107.05h1.33M283.5 107.05h.83M285.5 107.05h2.33M288 107.05h2.33M291 107.05h.83M292 107.05h.83M293 107.05h.83M294 107.05h7.33M302 107.05h3.33M305.5 107.05h.83M306.5 107.05h1.83M308.5 107.05h3.33M312.5 107.05h1.83M314.5 107.05h1.83M317 107.05h.83M318 107.05h.83M271 107.55h.83M276 107.55h1.33M280.5 107.55h2.33M283 107.55h1.33M285 107.55h1.33M288 107.55h.83M289 107.55h.83M290 107.55h1.33M292 107.55h2.33M294.5 107.55h.83M295.5 107.55h1.33M297 107.55h4.33M302 107.55h.83M304 107.55h1.33M306 107.55h.83M308.5 107.55h1.83M310.5 107.55h.83M311.5 107.55h.83M313.5 107.55h1.33M318 107.55h.83M273.5 108.05h.83M274.5 108.05h.83M277 108.05h.83M280.5 108.05h1.33M283.5 108.05h1.33M285.5 108.05h.83M287 108.05h.83M288.5 108.05h.83M290.5 108.05h.83M291.5 108.05h1.33M295.5 108.05h.83M297 108.05h1.83M299 108.05h1.33M300.5 108.05h1.33M302.5 108.05h.83M303.5 108.05h1.33M305 108.05h.83M307.5 108.05h1.83M310.5 108.05h.83M312 108.05h.83M315.5 108.05h.83M317.5 108.05h.83M323 108.05h.83M273.5 108.55h.83M274.5 108.55h.83M279 108.55h.83M280.5 108.55h.83M283.5 108.55h.83M285 108.55h.83M286 108.55h.83M288 108.55h.83M289.5 108.55h.83M290.5 108.55h.83M291.5 108.55h.83M294.5 108.55h.83M295.5 108.55h1.33M297.5 108.55h.83M298.5 108.55h.83M300.5 108.55h1.33M303 108.55h1.33M306 108.55h1.33M308 108.55h1.33M313.5 108.55h.83M314.5 108.55h.83M317 108.55h.83M283.5 109.05h1.33M287.5 109.05h.83M290.5 109.05h.83M291.5 109.05h.83M292.5 109.05h1.33M294 109.05h.83M295.5 109.05h.83M298.5 109.05h.83M300 109.05h.83M301.5 109.05h.83M303 109.05h.83M305.5 109.05h.83M306.5 109.05h1.33M308 109.05h1.33M311 109.05h.83M314.5 109.05h.83M319.5 109.05h.83M323 109.05h.83M283.5 109.55h.83M287 109.55h.83M288.5 109.55h.83M289.5 109.55h.83M291 109.55h.83M292 109.55h1.83M294 109.55h.83M295 109.55h1.33M296.5 109.55h.83M299 109.55h.83M300 109.55h.83M304 109.55h2.83M310 109.55h.83M311.5 109.55h.83M278.5 110.05h.83M287 110.05h1.33M295.5 110.05h.83M298.5 110.05h.83M299.5 110.05h1.33M302 110.05h1.33M303.5 110.05h.83M306 110.05h.83M307 110.05h.83M309.5 110.05h.83M313 110.05h.83M275 110.55h.83M280.5 110.55h.83M286.5 110.55h.83M287.5 110.55h.83M289.5 110.55h.83M292.5 110.55h.83M296.5 110.55h.83M305 110.55h.83M306.5 110.55h.83M308 110.55h.83M312.5 110.55h.83M284.5 111.05h.83M289 111.05h.83M294.5 111.05h.83M296 111.05h.83M301 111.05h.83"/>
<rect class="f" x="232.50" y="2.30" width="119.00" height="110.20"/>
<path class="g" d="M259.10 2.30V112.50M232.50 75.30H351.50"/>
<path class="k" d="M237.00 112.50v3.0M241.49 112.50v3.0M245.99 112.50v3.0M250.48 112.50v3.0M254.97 112.50v5.0M259.47 112.50v3.0M263.96 112.50v3.0M268.46 112.50v3.0M272.95 112.50v3.0M277.45 112.50v5.0M281.94 112.50v3.0M286.44 112.50v3.0M290.94 112.50v3.0M295.43 112.50v3.0M299.93 112.50v5.0M304.42 112.50v3.0M308.92 112.50v3.0M313.41 112.50v3.0M317.90 112.50v3.0M322.40 112.50v5.0M326.89 112.50v3.0M331.39 112.50v3.0M335.88 112.50v3.0M340.38 112.50v3.0M344.88 112.50v5.0M349.37 112.50v3.0M232.50 111.48h-2.4M232.50 108.04h-2.4M232.50 105.38h-2.4M232.50 103.20h-2.4M232.50 101.36h-2.4M232.50 99.77h-2.4M232.50 98.36h-2.4M232.50 97.10h-3.7M232.50 88.82h-2.4M232.50 83.98h-2.4M232.50 80.54h-2.4M232.50 77.88h-2.4M232.50 75.70h-2.4M232.50 73.86h-2.4M232.50 72.27h-2.4M232.50 70.86h-2.4M232.50 69.60h-3.7M232.50 61.32h-2.4M232.50 56.48h-2.4M232.50 53.04h-2.4M232.50 50.38h-2.4M232.50 48.20h-2.4M232.50 46.36h-2.4M232.50 44.77h-2.4M232.50 43.36h-2.4M232.50 42.10h-3.7M232.50 33.82h-2.4M232.50 28.98h-2.4M232.50 25.54h-2.4M232.50 22.88h-2.4M232.50 20.70h-2.4M232.50 18.86h-2.4M232.50 17.27h-2.4M232.50 15.86h-2.4M232.50 14.60h-3.7M232.50 6.32h-2.4"/>
<text class="n" x="254.57" y="124.10">50</text>
<text class="n" x="277.05" y="124.10">100</text>
<text class="n" x="299.53" y="124.10">150</text>
<text class="n" x="322.00" y="124.10">200</text>
<text class="n" x="344.48" y="124.10">250</text>
<text class="a" x="291.40" y="132.90">FSC-H</text>
<text class="m" x="351.40" y="131.70">(x 1,000)</text>
<text class="y" transform="translate(226.90 100.70) rotate(-90)">10<tspan class="s" dx=".2" dy="-3.7">2</tspan></text>
<text class="y" transform="translate(226.90 73.20) rotate(-90)">10<tspan class="s" dx=".2" dy="-3.7">3</tspan></text>
<text class="y" transform="translate(226.90 45.70) rotate(-90)">10<tspan class="s" dx=".2" dy="-3.7">4</tspan></text>
<text class="y" transform="translate(226.90 18.20) rotate(-90)">10<tspan class="s" dx=".2" dy="-3.7">5</tspan></text>
<text class="a" transform="translate(216.80 57.40) rotate(-90)">GFP-A</text>
<text class="t" transform="translate(318.80 15.95) scale(1 1.14)">EF1<tspan font-style="italic" font-size="13.5">α</tspan></text>
<rect x="279.5" y="131.7" width="16.6" height="4" fill="#fff"/>
</g>
<g>
<path class="d" d="M467.3 25.05h.83M466.8 25.55h.83M467.3 26.05h.83M450.8 28.55h.83M463.8 28.55h.83M459.8 29.05h.83M464.8 29.05h.83M465.3 29.55h.83M460.3 30.05h1.33M440.3 30.55h.83M443.8 30.55h.83M458.8 31.55h.83M463.3 31.55h.83M464.3 31.55h.83M456.3 32.05h.83M457.3 32.05h.83M464.3 32.55h.83M459.3 33.05h.83M467.3 33.05h.83M471.8 33.05h.83M463.3 33.55h.83M471.8 33.55h.83M446.8 34.05h.83M461.3 34.05h.83M463.3 34.05h1.33M483.3 34.05h.83M453.8 34.55h.83M459.3 34.55h.83M468.8 34.55h.83M477.8 34.55h.83M452.3 35.05h1.33M459.8 35.05h1.33M462.3 35.05h.83M467.3 35.05h.83M475.3 35.05h.83M487.3 35.05h.83M442.8 35.55h.83M456.8 35.55h.83M458.8 35.55h.83M462.8 35.55h.83M463.8 35.55h1.33M466.3 35.55h.83M472.8 35.55h.83M449.8 36.05h2.33M456.3 36.05h.83M461.8 36.05h.83M463.8 36.05h.83M465.3 36.05h.83M467.3 36.05h1.33M468.8 36.05h.83M475.3 36.05h.83M481.8 36.05h.83M446.8 36.55h.83M456.3 36.55h.83M461.3 36.55h.83M465.3 36.55h.83M467.8 36.55h.83M458.3 37.05h.83M462.8 37.05h1.33M464.8 37.05h1.33M466.3 37.05h.83M467.3 37.05h.83M468.3 37.05h.83M446.3 37.55h.83M457.3 37.55h.83M458.8 37.55h1.33M461.3 37.55h.83M467.3 37.55h.83M473.3 37.55h.83M449.8 38.05h.83M453.3 38.05h.83M456.3 38.05h.83M464.3 38.05h.83M465.8 38.05h.83M472.8 38.05h.83M473.8 38.05h.83M444.3 38.55h.83M448.3 38.55h.83M449.3 38.55h.83M452.8 38.55h.83M454.8 38.55h1.33M457.3 38.55h.83M458.3 38.55h.83M459.3 38.55h.83M463.8 38.55h.83M466.3 38.55h.83M467.3 38.55h.83M469.8 38.55h.83M470.8 38.55h.83M471.8 38.55h.83M474.8 38.55h.83M476.3 38.55h.83M453.3 39.05h.83M457.3 39.05h.83M459.8 39.05h1.33M461.3 39.05h1.33M462.8 39.05h.83M463.8 39.05h.83M466.8 39.05h.83M474.8 39.05h.83M476.3 39.05h.83M479.8 39.05h.83M481.3 39.05h.83M482.8 39.05h.83M441.3 39.55h.83M452.3 39.55h.83M455.3 39.55h1.33M456.8 39.55h.83M458.8 39.55h.83M462.3 39.55h1.33M464.3 39.55h1.33M466.8 39.55h.83M471.3 39.55h.83M477.8 39.55h.83M453.3 40.05h.83M455.3 40.05h1.83M458.3 40.05h.83M459.3 40.05h1.83M467.3 40.05h1.33M468.8 40.05h.83M472.8 40.05h.83M474.8 40.05h1.33M479.3 40.05h.83M447.8 40.55h.83M449.8 40.55h.83M451.3 40.55h1.33M452.8 40.55h.83M460.8 40.55h.83M464.3 40.55h1.33M468.8 40.55h.83M449.8 41.05h.83M452.3 41.05h.83M458.3 41.05h1.33M459.8 41.05h.83M463.3 41.05h1.33M466.8 41.05h.83M470.8 41.05h.83M471.8 41.05h.83M473.3 41.05h.83M478.8 41.05h.83M481.3 41.05h1.33M489.8 41.05h.83M448.3 41.55h.83M450.8 41.55h1.33M456.8 41.55h.83M460.8 41.55h.83M461.8 41.55h.83M463.3 41.55h1.33M465.3 41.55h.83M466.8 41.55h.83M468.3 41.55h.83M469.3 41.55h.83M471.8 41.55h.83M473.3 41.55h1.33M475.3 41.55h.83M477.8 41.55h.83M483.8 41.55h.83M441.3 42.05h.83M444.8 42.05h.83M447.8 42.05h.83M456.8 42.05h1.83M458.8 42.05h.83M460.3 42.05h.83M461.3 42.05h2.83M464.8 42.05h.83M465.8 42.05h.83M479.8 42.05h.83M443.3 42.55h.83M445.8 42.55h.83M453.3 42.55h.83M454.3 42.55h.83M457.3 42.55h.83M460.3 42.55h.83M461.3 42.55h1.33M462.8 42.55h2.33M466.8 42.55h.83M467.8 42.55h1.33M469.8 42.55h.83M470.8 42.55h1.83M473.3 42.55h.83M475.3 42.55h.83M477.8 42.55h.83M481.3 42.55h.83M444.8 43.05h.83M450.8 43.05h.83M452.3 43.05h.83M454.8 43.05h1.83M458.8 43.05h1.33M460.3 43.05h1.33M464.3 43.05h.83M466.3 43.05h.83M467.3 43.05h.83M469.3 43.05h.83M472.3 43.05h.83M474.3 43.05h.83M475.8 43.05h.83M481.8 43.05h.83M449.8 43.55h1.33M453.3 43.55h.83M454.3 43.55h1.83M456.8 43.55h.83M457.8 43.55h1.33M459.3 43.55h.83M461.3 43.55h.83M462.3 43.55h2.33M464.8 43.55h.83M466.3 43.55h1.83M468.3 43.55h.83M469.3 43.55h.83M471.8 43.55h1.33M481.3 43.55h.83M482.8 43.55h.83M448.8 44.05h.83M451.8 44.05h.83M452.8 44.05h1.83M455.3 44.05h.83M456.8 44.05h1.83M460.3 44.05h1.83M462.3 44.05h.83M463.3 44.05h.83M464.3 44.05h.83M465.8 44.05h1.33M467.8 44.05h.83M469.3 44.05h.83M472.3 44.05h1.33M474.3 44.05h.83M476.3 44.05h.83M481.8 44.05h.83M484.3 44.05h.83M451.3 44.55h.83M452.3 44.55h.83M454.3 44.55h1.83M456.3 44.55h.83M457.3 44.55h.83M458.3 44.55h.83M459.3 44.55h.83M460.8 44.55h3.33M464.3 44.55h1.33M465.8 44.55h.83M468.3 44.55h.83M469.3 44.55h.83M470.3 44.55h.83M472.3 44.55h.83M477.8 44.55h.83M478.8 44.55h.83M482.8 44.55h1.33M437.8 45.05h.83M439.3 45.05h.83M448.8 45.05h.83M449.8 45.05h.83M451.3 45.05h1.33M453.8 45.05h.83M454.8 45.05h.83M457.8 45.05h.83M458.8 45.05h.83M459.8 45.05h.83M461.8 45.05h2.83M465.8 45.05h.83M467.3 45.05h.83M468.3 45.05h.83M469.3 45.05h.83M470.8 45.05h.83M473.8 45.05h1.33M476.8 45.05h.83M479.8 45.05h.83M480.8 45.05h.83M438.3 45.55h.83M446.3 45.55h.83M449.3 45.55h.83M450.8 45.55h.83M452.8 45.55h.83M453.8 45.55h.83M457.8 45.55h2.33M460.3 45.55h.83M462.8 45.55h2.83M465.8 45.55h1.33M467.3 45.55h.83M468.8 45.55h2.83M475.3 45.55h1.33M479.3 45.55h.83M480.3 45.55h1.33M484.3 45.55h.83M451.3 46.05h.83M452.8 46.05h.83M456.8 46.05h.83M458.8 46.05h1.33M460.3 46.05h1.33M462.3 46.05h1.33M464.3 46.05h.83M465.3 46.05h1.33M466.8 46.05h.83M468.8 46.05h1.33M470.8 46.05h1.33M472.8 46.05h.83M473.8 46.05h1.33M475.8 46.05h.83M479.3 46.05h.83M482.3 46.05h.83M449.3 46.55h.83M453.8 46.55h.83M455.8 46.55h.83M456.8 46.55h2.83M459.8 46.55h1.83M463.3 46.55h1.83M465.3 46.55h.83M467.8 46.55h3.33M471.8 46.55h1.33M473.8 46.55h.83M478.8 46.55h.83M484.3 46.55h.83M444.8 47.05h.83M447.3 47.05h.83M448.8 47.05h1.33M450.3 47.05h.83M453.8 47.05h1.33M456.3 47.05h1.33M458.3 47.05h.83M459.3 47.05h2.83M462.8 47.05h1.33M464.3 47.05h.83M465.8 47.05h.83M466.8 47.05h4.33M471.3 47.05h1.83M473.3 47.05h.83M474.3 47.05h.83M447.3 47.55h.83M448.8 47.55h.83M452.8 47.55h1.33M454.3 47.55h.83M455.3 47.55h.83M456.3 47.55h.83M459.3 47.55h.83M460.8 47.55h3.33M464.3 47.55h2.33M466.8 47.55h1.33M468.8 47.55h2.33M471.8 47.55h1.33M473.8 47.55h.83M475.8 47.55h1.83M478.3 47.55h.83M479.3 47.55h.83M480.3 47.55h.83M481.3 47.55h.83M485.3 47.55h.83M448.3 48.05h.83M452.3 48.05h.83M454.8 48.05h.83M455.8 48.05h.83M457.3 48.05h.83M458.3 48.05h.83M460.3 48.05h1.83M462.8 48.05h.83M463.8 48.05h1.33M465.3 48.05h1.83M468.3 48.05h1.33M470.3 48.05h2.33M473.3 48.05h1.33M475.3 48.05h.83M477.8 48.05h.83M482.8 48.05h.83M446.8 48.55h.83M448.3 48.55h.83M450.8 48.55h.83M451.8 48.55h.83M452.8 48.55h.83M455.3 48.55h1.33M459.8 48.55h.83M461.3 48.55h1.33M463.3 48.55h.83M464.3 48.55h1.33M465.8 48.55h1.83M469.3 48.55h1.83M471.8 48.55h.83M472.8 48.55h1.83M474.8 48.55h.83M477.8 48.55h.83M480.8 48.55h.83M482.3 48.55h2.33M450.3 49.05h.83M451.8 49.05h.83M453.8 49.05h1.33M455.3 49.05h.83M456.3 49.05h1.33M457.8 49.05h3.33M461.3 49.05h1.83M463.3 49.05h.83M464.3 49.05h1.83M466.8 49.05h1.33M468.3 49.05h1.33M471.8 49.05h1.33M475.3 49.05h1.33M479.3 49.05h1.33M482.3 49.05h.83M483.8 49.05h.83M485.3 49.05h.83M488.3 49.05h.83M450.8 49.55h.83M455.3 49.55h1.33M456.8 49.55h1.33M458.3 49.55h.83M459.8 49.55h2.83M463.3 49.55h.83M464.8 49.55h1.83M466.8 49.55h2.33M469.8 49.55h1.83M471.8 49.55h1.83M473.8 49.55h1.33M475.8 49.55h.83M477.3 49.55h.83M480.3 49.55h.83M481.8 49.55h.83M443.8 50.05h.83M450.8 50.05h.83M453.3 50.05h.83M455.8 50.05h.83M459.3 50.05h.83M460.8 50.05h.83M462.8 50.05h1.83M464.8 50.05h1.83M466.8 50.05h1.33M468.3 50.05h1.33M469.8 50.05h1.83M472.3 50.05h2.33M475.3 50.05h.83M479.8 50.05h.83M484.3 50.05h.83M448.3 50.55h.83M450.8 50.55h.83M455.8 50.55h.83M456.8 50.55h.83M459.3 50.55h2.33M461.8 50.55h1.83M464.8 50.55h1.83M466.8 50.55h2.33M469.3 50.55h.83M470.3 50.55h1.83M472.8 50.55h.83M475.3 50.55h2.83M478.3 50.55h.83M480.8 50.55h.83M442.8 51.05h.83M447.3 51.05h.83M451.8 51.05h.83M454.8 51.05h.83M455.8 51.05h1.33M457.3 51.05h.83M458.3 51.05h.83M459.8 51.05h1.33M461.3 51.05h.83M462.3 51.05h1.33M463.8 51.05h.83M465.3 51.05h.83M466.3 51.05h.83M467.8 51.05h.83M468.8 51.05h.83M469.8 51.05h2.83M474.3 51.05h2.33M476.8 51.05h.83M479.3 51.05h1.33M452.3 51.55h.83M453.3 51.55h2.33M456.3 51.55h.83M457.3 51.55h1.33M459.8 51.55h.83M460.8 51.55h1.83M463.8 51.55h1.83M465.8 51.55h1.83M468.8 51.55h1.33M470.3 51.55h1.33M472.8 51.55h.83M473.8 51.55h2.33M477.3 51.55h.83M478.8 51.55h.83M443.8 52.05h.83M447.8 52.05h.83M448.8 52.05h.83M450.3 52.05h.83M451.3 52.05h.83M452.8 52.05h.83M454.3 52.05h.83M456.8 52.05h.83M458.3 52.05h3.83M464.3 52.05h1.83M467.8 52.05h.83M468.8 52.05h.83M469.8 52.05h.83M470.8 52.05h1.33M473.3 52.05h.83M477.8 52.05h.83M478.8 52.05h1.33M481.3 52.05h.83M482.3 52.05h.83M438.8 52.55h.83M442.8 52.55h.83M443.8 52.55h.83M444.8 52.55h.83M448.3 52.55h.83M450.8 52.55h.83M452.3 52.55h.83M457.8 52.55h.83M459.3 52.55h.83M460.3 52.55h1.33M461.8 52.55h1.33M463.8 52.55h1.83M465.8 52.55h.83M467.3 52.55h1.33M469.3 52.55h2.83M472.3 52.55h1.83M474.3 52.55h1.33M476.3 52.55h1.83M478.8 52.55h.83M479.8 52.55h.83M486.3 52.55h.83M443.8 53.05h.83M447.8 53.05h.83M448.8 53.05h1.33M450.3 53.05h.83M453.3 53.05h.83M454.3 53.05h.83M455.8 53.05h.83M457.3 53.05h1.83M459.3 53.05h1.33M460.8 53.05h2.83M464.8 53.05h.83M465.8 53.05h2.83M468.8 53.05h1.33M471.3 53.05h.83M473.3 53.05h.83M474.3 53.05h2.33M476.8 53.05h1.33M479.3 53.05h1.33M453.3 53.55h1.33M455.3 53.55h2.83M459.3 53.55h.83M460.3 53.55h1.33M461.8 53.55h.83M464.3 53.55h.83M465.3 53.55h1.33M467.3 53.55h.83M469.3 53.55h1.33M470.8 53.55h2.33M474.3 53.55h1.83M476.8 53.55h.83M479.3 53.55h1.33M481.8 53.55h.83M488.3 53.55h.83M452.8 54.05h.83M455.3 54.05h.83M458.8 54.05h.83M459.8 54.05h1.33M461.3 54.05h1.33M463.3 54.05h.83M465.3 54.05h2.33M467.8 54.05h1.33M475.3 54.05h1.83M441.3 54.55h.83M451.3 54.55h.83M454.3 54.55h.83M457.3 54.55h1.33M462.3 54.55h2.33M464.8 54.55h.83M465.8 54.55h2.33M470.8 54.55h1.83M473.3 54.55h.83M474.8 54.55h.83M477.3 54.55h.83M487.8 54.55h.83M445.8 55.05h.83M455.8 55.05h.83M458.3 55.05h.83M459.3 55.05h.83M460.3 55.05h1.33M462.8 55.05h.83M464.3 55.05h.83M466.3 55.05h1.83M469.3 55.05h.83M471.3 55.05h2.33M475.3 55.05h.83M476.3 55.05h.83M478.8 55.05h1.33M481.3 55.05h.83M440.3 55.55h.83M451.8 55.55h1.33M454.8 55.55h.83M455.8 55.55h1.33M458.3 55.55h.83M460.3 55.55h1.33M461.8 55.55h.83M462.8 55.55h.83M463.8 55.55h.83M464.8 55.55h2.33M467.3 55.55h1.33M468.8 55.55h1.33M470.3 55.55h1.33M471.8 55.55h1.33M473.3 55.55h.83M474.3 55.55h.83M475.3 55.55h.83M476.3 55.55h.83M478.8 55.55h1.33M480.8 55.55h.83M482.8 55.55h.83M485.8 55.55h.83M488.8 55.55h.83M491.3 55.55h.83M437.3 56.05h.83M446.8 56.05h.83M449.3 56.05h.83M452.8 56.05h.83M453.8 56.05h.83M455.8 56.05h.83M457.3 56.05h.83M458.3 56.05h.83M459.3 56.05h1.83M463.8 56.05h2.33M466.8 56.05h2.33M469.8 56.05h.83M470.8 56.05h1.33M472.3 56.05h1.33M474.3 56.05h.83M476.8 56.05h.83M480.8 56.05h.83M483.8 56.05h.83M488.8 56.05h.83M452.8 56.55h1.83M455.3 56.55h.83M458.3 56.55h.83M460.3 56.55h.83M461.3 56.55h1.33M463.3 56.55h.83M464.8 56.55h.83M465.8 56.55h.83M466.8 56.55h.83M467.8 56.55h.83M468.8 56.55h1.83M477.3 56.55h1.33M478.8 56.55h.83M479.8 56.55h.83M453.8 57.05h.83M456.3 57.05h.83M457.3 57.05h1.83M460.3 57.05h1.33M462.3 57.05h.83M463.8 57.05h1.33M465.3 57.05h.83M466.3 57.05h1.33M467.8 57.05h.83M468.8 57.05h1.33M470.8 57.05h1.83M473.3 57.05h.83M475.3 57.05h.83M476.8 57.05h.83M483.8 57.05h.83M484.8 57.05h.83M449.8 57.55h1.83M452.3 57.55h.83M454.8 57.55h.83M458.3 57.55h.83M459.3 57.55h.83M461.3 57.55h.83M462.3 57.55h.83M468.3 57.55h1.83M471.8 57.55h.83M474.3 57.55h.83M476.8 57.55h.83M481.8 57.55h.83M489.3 57.55h.83M442.8 58.05h.83M449.8 58.05h.83M459.8 58.05h.83M463.8 58.05h.83M465.3 58.05h1.33M466.8 58.05h1.33M469.3 58.05h1.83M471.8 58.05h.83M472.8 58.05h.83M476.3 58.05h.83M479.3 58.05h.83M455.3 58.55h.83M456.3 58.55h.83M462.3 58.55h1.33M466.8 58.55h.83M467.8 58.55h.83M468.8 58.55h1.33M471.3 58.55h.83M475.8 58.55h.83M478.3 58.55h.83M452.3 59.05h.83M457.3 59.05h1.33M460.3 59.05h.83M461.3 59.05h.83M462.8 59.05h.83M463.8 59.05h.83M466.3 59.05h1.33M468.3 59.05h.83M469.8 59.05h.83M472.3 59.05h.83M475.3 59.05h.83M480.3 59.05h.83M443.3 59.55h.83M449.8 59.55h.83M456.3 59.55h.83M457.3 59.55h.83M458.8 59.55h.83M459.8 59.55h.83M461.8 59.55h.83M463.3 59.55h.83M464.3 59.55h.83M466.3 59.55h1.83M469.8 59.55h1.33M471.8 59.55h.83M473.8 59.55h1.33M476.8 59.55h.83M477.8 59.55h.83M457.8 60.05h.83M459.8 60.05h1.83M462.3 60.05h1.33M464.8 60.05h.83M470.3 60.05h.83M473.8 60.05h.83M476.8 60.05h.83M477.8 60.05h1.33M485.8 60.05h1.33M452.3 60.55h1.33M456.8 60.55h1.33M459.8 60.55h1.83M462.3 60.55h.83M463.3 60.55h.83M472.8 60.55h.83M473.8 60.55h.83M481.3 60.55h.83M485.3 60.55h.83M452.8 61.05h.83M455.3 61.05h.83M456.8 61.05h.83M458.8 61.05h.83M462.8 61.05h1.33M466.3 61.05h.83M468.3 61.05h.83M476.3 61.05h1.33M479.3 61.05h.83M443.3 61.55h.83M456.8 61.55h1.33M458.3 61.55h.83M460.3 61.55h.83M464.3 61.55h.83M465.8 61.55h.83M469.8 61.55h.83M472.3 61.55h.83M473.8 61.55h1.33M477.3 61.55h.83M479.3 61.55h.83M489.8 61.55h.83M461.3 62.05h.83M462.8 62.05h.83M468.3 62.05h1.33M472.3 62.05h.83M479.8 62.05h.83M452.3 62.55h.83M456.3 62.55h.83M461.3 62.55h1.83M466.8 62.55h.83M468.8 62.55h.83M469.8 62.55h.83M470.8 62.55h1.33M475.3 62.55h.83M476.8 62.55h.83M452.8 63.05h.83M458.8 63.05h.83M462.3 63.05h.83M470.3 63.05h.83M476.3 63.05h.83M479.8 63.05h.83M462.3 63.55h.83M464.3 63.55h.83M466.8 63.55h.83M471.8 63.55h.83M475.8 63.55h.83M465.8 64.05h.83M467.8 64.05h.83M469.8 64.05h1.33M478.3 64.05h.83M482.3 64.05h.83M455.3 64.55h.83M459.3 64.55h.83M461.3 64.55h1.33M464.3 64.55h.83M469.3 64.55h.83M470.8 64.55h.83M472.8 64.55h.83M474.3 64.55h.83M489.3 64.55h.83M464.8 65.05h.83M476.3 65.05h.83M479.3 65.05h.83M482.3 65.05h.83M450.8 65.55h.83M462.8 65.55h.83M465.3 65.55h.83M466.3 65.55h.83M467.8 65.55h1.33M471.8 65.55h.83M473.8 65.55h.83M455.3 66.05h.83M456.3 66.05h.83M462.3 66.05h.83M473.3 66.05h.83M443.8 66.55h.83M469.3 66.55h1.33M473.3 66.55h.83M480.8 66.55h.83M453.8 67.05h.83M457.3 67.05h.83M458.3 67.05h.83M459.8 67.05h.83M465.8 67.05h.83M467.3 67.05h.83M469.3 67.05h.83M471.3 67.05h1.33M473.3 67.05h1.33M477.3 67.05h.83M460.8 67.55h.83M461.8 67.55h1.33M464.3 67.55h.83M465.3 67.55h.83M475.8 67.55h.83M478.3 67.55h.83M490.3 67.55h.83M454.8 68.05h.83M466.8 68.05h.83M469.3 68.05h.83M473.8 68.05h.83M454.8 68.55h.83M458.3 68.55h.83M462.3 68.55h1.33M467.3 68.55h.83M470.3 68.55h.83M471.8 68.55h.83M483.3 68.55h.83M449.3 69.05h.83M453.8 69.05h.83M456.8 69.05h.83M463.3 69.05h.83M465.8 69.05h.83M467.3 69.05h.83M469.8 69.05h1.83M449.3 69.55h.83M460.3 69.55h.83M461.8 69.55h.83M462.8 69.55h1.33M464.3 69.55h.83M465.3 69.55h.83M468.3 69.55h.83M449.3 70.05h.83M460.8 70.05h1.33M462.8 70.05h.83M464.8 70.05h.83M469.3 70.05h.83M472.3 70.05h.83M475.3 70.05h.83M480.3 70.05h.83M463.3 70.55h.83M471.8 70.55h1.33M444.3 71.05h.83M451.3 71.05h.83M455.3 71.05h.83M464.3 71.05h.83M468.3 71.05h.83M449.3 71.55h.83M460.8 71.55h.83M463.3 71.55h.83M467.3 71.55h.83M470.8 71.55h1.33M475.3 71.55h.83M455.8 72.05h.83M467.8 72.05h.83M468.8 72.05h.83M452.3 72.55h.83M455.3 72.55h.83M461.8 72.55h.83M462.8 72.55h.83M468.3 72.55h1.33M471.3 72.55h.83M473.8 72.55h.83M475.3 72.55h.83M455.3 73.05h.83M466.3 73.05h.83M472.8 73.05h.83M445.3 73.55h.83M471.3 73.55h.83M474.3 73.55h.83M475.3 73.55h.83M480.8 73.55h.83M445.3 74.05h.83M453.8 74.05h.83M458.3 74.05h.83M468.3 74.05h.83M478.3 74.05h.83M457.8 74.55h.83M459.3 74.55h.83M462.8 74.55h.83M465.8 74.55h.83M469.8 74.55h1.33M472.3 74.55h.83M474.3 74.55h.83M460.3 75.05h1.33M462.8 75.05h.83M467.3 75.05h.83M469.3 75.05h1.33M474.3 75.05h.83M475.3 75.05h.83M480.3 75.05h.83M457.8 75.55h.83M458.8 75.55h.83M464.8 75.55h.83M475.3 75.55h.83M457.8 76.05h.83M462.8 76.05h.83M465.3 76.05h.83M468.8 76.05h.83M471.8 76.05h.83M475.3 76.05h.83M452.3 76.55h.83M453.3 76.55h.83M456.3 76.55h1.33M458.3 76.55h.83M459.3 76.55h.83M451.3 77.05h.83M460.8 77.05h.83M462.8 77.05h.83M464.8 77.05h.83M474.8 77.05h.83M475.8 77.05h.83M453.3 77.55h.83M456.3 77.55h.83M457.3 77.55h.83M459.8 77.55h.83M464.3 77.55h.83M469.8 77.55h.83M470.8 77.55h.83M475.3 77.55h.83M478.8 77.55h.83M454.8 78.05h.83M459.3 78.05h1.33M465.3 78.05h.83M466.3 78.05h.83M467.3 78.05h.83M471.8 78.05h.83M447.3 78.55h.83M455.3 78.55h.83M456.8 78.55h.83M460.3 78.55h.83M469.3 78.55h.83M482.8 78.55h.83M453.8 79.05h.83M456.8 79.05h.83M463.8 79.05h.83M465.3 79.05h.83M470.8 79.05h1.33M473.8 79.05h.83M441.3 79.55h.83M460.3 79.55h.83M462.3 79.55h.83M465.3 79.55h.83M471.3 79.55h.83M479.3 79.55h.83M459.8 80.05h.83M461.3 80.05h.83M473.3 80.05h.83M481.8 80.05h.83M448.3 80.55h.83M457.3 80.55h.83M462.3 80.55h.83M466.3 80.55h.83M469.8 80.55h.83M472.8 80.55h.83M479.3 80.55h.83M448.8 81.05h.83M454.3 81.05h.83M459.8 81.05h.83M464.3 81.05h.83M475.3 81.05h.83M463.3 81.55h.83M470.3 81.55h.83M452.3 82.05h.83M459.8 82.05h.83M465.8 82.05h.83M445.3 82.55h.83M448.3 82.55h.83M459.3 82.55h.83M461.3 82.55h.83M464.8 82.55h.83M469.8 82.55h.83M471.3 82.55h.83M450.3 83.05h.83M454.3 83.05h.83M455.8 83.05h.83M457.8 83.05h.83M461.8 83.05h.83M475.8 83.05h.83M452.3 83.55h.83M454.3 83.55h.83M456.8 83.55h.83M463.3 83.55h1.33M465.8 83.55h.83M468.8 83.55h.83M472.8 83.55h.83M474.8 83.55h.83M451.8 84.05h.83M456.8 84.05h.83M481.3 84.05h.83M483.8 84.05h.83M455.3 84.55h.83M457.3 84.55h.83M458.3 84.55h.83M461.3 84.55h.83M466.8 84.55h.83M475.8 84.55h.83M454.8 85.05h.83M457.8 85.05h.83M458.8 85.05h.83M462.3 85.05h.83M463.3 85.05h.83M468.8 85.05h.83M471.3 85.05h.83M473.3 85.05h.83M474.3 85.05h.83M479.3 85.05h.83M493.3 85.05h.83M450.3 85.55h.83M453.3 85.55h.83M459.8 85.55h.83M462.3 85.55h.83M467.3 85.55h.83M469.8 85.55h.83M474.3 85.55h.83M492.3 85.55h.83M493.3 85.55h.83M449.8 86.05h.83M461.8 86.05h.83M463.3 86.05h.83M464.8 86.05h.83M467.3 86.05h1.33M474.3 86.05h.83M476.3 86.05h.83M480.8 86.05h.83M485.3 86.05h.83M441.8 86.55h.83M450.3 86.55h.83M451.8 86.55h.83M452.8 86.55h.83M458.3 86.55h.83M463.8 86.55h1.33M465.3 86.55h1.33M470.8 86.55h.83M474.3 86.55h.83M475.8 86.55h.83M487.3 86.55h.83M454.3 87.05h1.33M457.3 87.05h1.33M463.8 87.05h.83M464.8 87.05h.83M466.3 87.05h.83M470.8 87.05h.83M474.8 87.05h.83M476.3 87.05h.83M477.3 87.05h.83M478.3 87.05h1.33M479.8 87.05h.83M480.8 87.05h.83M442.3 87.55h.83M446.3 87.55h.83M455.3 87.55h1.33M456.8 87.55h1.33M458.8 87.55h.83M461.3 87.55h.83M462.3 87.55h.83M463.8 87.55h.83M465.8 87.55h1.33M468.3 87.55h.83M469.3 87.55h1.83M471.8 87.55h.83M474.8 87.55h1.33M476.8 87.55h1.33M480.3 87.55h.83M481.8 87.55h.83M491.8 87.55h.83M444.8 88.05h.83M452.8 88.05h.83M455.8 88.05h.83M456.8 88.05h.83M457.8 88.05h.83M458.8 88.05h.83M459.8 88.05h.83M461.3 88.05h.83M462.8 88.05h.83M463.8 88.05h.83M465.3 88.05h1.33M467.3 88.05h.83M468.8 88.05h.83M472.8 88.05h2.83M476.3 88.05h.83M479.3 88.05h.83M481.3 88.05h.83M429.3 88.55h.83M435.8 88.55h.83M444.3 88.55h.83M446.3 88.55h.83M447.8 88.55h.83M449.3 88.55h.83M450.3 88.55h.83M451.3 88.55h.83M453.8 88.55h1.83M455.8 88.55h2.33M458.3 88.55h1.83M460.3 88.55h1.33M462.8 88.55h.83M463.8 88.55h.83M465.3 88.55h1.33M466.8 88.55h.83M469.3 88.55h1.33M470.8 88.55h1.33M476.3 88.55h1.83M478.8 88.55h1.33M480.8 88.55h.83M483.3 88.55h.83M485.8 88.55h1.33M431.8 89.05h.83M442.8 89.05h.83M445.8 89.05h1.83M447.8 89.05h.83M452.8 89.05h.83M453.8 89.05h.83M455.3 89.05h2.33M458.3 89.05h2.33M460.8 89.05h.83M462.3 89.05h1.83M464.3 89.05h1.33M465.8 89.05h1.83M467.8 89.05h1.33M469.3 89.05h4.33M473.8 89.05h.83M474.8 89.05h1.33M476.3 89.05h.83M477.3 89.05h1.33M478.8 89.05h1.33M486.8 89.05h1.33M492.3 89.05h.83M445.8 89.55h1.83M447.8 89.55h.83M451.8 89.55h.83M452.8 89.55h1.83M454.8 89.55h4.33M459.3 89.55h1.83M462.3 89.55h1.83M464.3 89.55h.83M465.3 89.55h1.83M467.3 89.55h2.33M469.8 89.55h.83M470.8 89.55h1.83M472.8 89.55h.83M473.8 89.55h1.33M475.3 89.55h.83M476.3 89.55h.83M477.3 89.55h.83M478.3 89.55h1.33M480.8 89.55h.83M482.8 89.55h.83M483.8 89.55h.83M440.3 90.05h.83M443.8 90.05h.83M445.3 90.05h1.33M449.3 90.05h.83M451.8 90.05h4.83M457.3 90.05h2.33M460.3 90.05h1.33M461.8 90.05h.83M462.8 90.05h1.83M464.8 90.05h.83M465.8 90.05h.83M466.8 90.05h1.33M468.8 90.05h2.33M471.3 90.05h1.33M472.8 90.05h.83M474.3 90.05h.83M478.3 90.05h.83M480.3 90.05h1.33M481.8 90.05h.83M484.3 90.05h.83M488.8 90.05h.83M425.8 90.55h.83M437.8 90.55h.83M447.3 90.55h2.33M450.8 90.55h.83M453.3 90.55h.83M454.3 90.55h2.33M456.8 90.55h3.33M460.3 90.55h.83M461.3 90.55h3.83M465.3 90.55h1.33M466.8 90.55h5.83M472.8 90.55h1.83M474.8 90.55h1.83M476.8 90.55h1.33M478.3 90.55h.83M479.3 90.55h1.83M481.3 90.55h1.33M482.8 90.55h.83M485.3 90.55h.83M489.8 90.55h.83M440.3 91.05h1.33M442.3 91.05h.83M444.3 91.05h.83M445.3 91.05h.83M446.3 91.05h.83M447.3 91.05h.83M449.3 91.05h2.83M452.3 91.05h10.83M463.3 91.05h11.33M474.8 91.05h2.33M477.8 91.05h.83M478.8 91.05h3.83M484.3 91.05h1.33M487.8 91.05h1.33M492.8 91.05h.83M438.3 91.55h.83M441.3 91.55h.83M442.3 91.55h.83M444.3 91.55h.83M448.3 91.55h1.33M449.8 91.55h1.33M451.3 91.55h.83M452.3 91.55h5.33M457.8 91.55h18.83M476.8 91.55h2.33M480.3 91.55h.83M481.3 91.55h.83M482.8 91.55h.83M484.3 91.55h.83M485.3 91.55h1.33M486.8 91.55h.83M437.8 92.05h.83M439.3 92.05h1.33M441.8 92.05h.83M443.3 92.05h1.33M445.8 92.05h.83M446.8 92.05h.83M447.8 92.05h.83M448.8 92.05h4.83M453.8 92.05h22.83M476.8 92.05h1.33M478.3 92.05h.83M479.3 92.05h3.83M483.3 92.05h.83M484.8 92.05h1.33M486.3 92.05h.83M488.3 92.05h.83M494.3 92.05h.83M496.3 92.05h.83M433.8 92.55h.83M441.8 92.55h.83M446.3 92.55h1.33M448.3 92.55h32.83M481.3 92.55h1.83M486.8 92.55h.83M435.8 93.05h1.33M444.3 93.05h.83M445.3 93.05h1.33M446.8 93.05h2.33M449.3 93.05h32.33M482.3 93.05h2.83M485.3 93.05h1.33M436.3 93.55h.83M438.3 93.55h.83M441.3 93.55h.83M442.3 93.55h.83M443.8 93.55h1.33M445.8 93.55h.83M446.8 93.55h3.33M450.3 93.55h31.33M481.8 93.55h.83M482.8 93.55h1.33M484.3 93.55h1.83M486.3 93.55h1.33M488.8 93.55h.83M437.8 94.05h.83M440.8 94.05h.83M441.8 94.05h1.33M443.8 94.05h.83M444.8 94.05h24.33M469.3 94.05h11.33M480.8 94.05h2.33M483.3 94.05h1.33M484.8 94.05h.83M485.8 94.05h.83M486.8 94.05h.83M488.3 94.05h.83M490.8 94.05h.83M491.8 94.05h.83M426.3 94.55h.83M437.8 94.55h.83M440.3 94.55h1.83M444.3 94.55h1.33M445.8 94.55h39.33M485.3 94.55h.83M487.3 94.55h1.33M488.8 94.55h1.33M491.3 94.55h.83M492.8 94.55h.83M433.8 95.05h.83M435.8 95.05h.83M437.8 95.05h.83M440.3 95.05h1.33M441.8 95.05h.83M442.8 95.05h.83M443.8 95.05h.83M444.8 95.05h4.33M449.3 95.05h3.33M452.8 95.05h26.83M479.8 95.05h5.33M485.8 95.05h2.33M488.3 95.05h.83M489.8 95.05h1.33M491.3 95.05h.83M492.3 95.05h.83M433.8 95.55h.83M435.3 95.55h.83M436.3 95.55h.83M442.3 95.55h.83M443.3 95.55h.83M444.3 95.55h.83M445.3 95.55h.83M446.3 95.55h.83M447.3 95.55h33.33M481.3 95.55h5.33M486.8 95.55h1.33M488.8 95.55h1.33M492.8 95.55h.83M429.8 96.05h.83M441.3 96.05h.83M442.8 96.05h1.33M444.3 96.05h1.83M446.8 96.05h1.33M448.3 96.05h29.83M478.3 96.05h8.33M487.3 96.05h.83M488.3 96.05h.83M489.3 96.05h.83M491.8 96.05h.83M438.8 96.55h1.33M442.3 96.55h.83M443.3 96.55h1.83M446.3 96.55h.83M447.3 96.55h34.83M482.3 96.55h3.83M486.8 96.55h.83M488.3 96.55h1.83M440.3 97.05h.83M441.3 97.05h.83M442.8 97.05h.83M443.8 97.05h2.83M446.8 97.05h.83M447.8 97.05h.83M448.8 97.05h38.33M487.3 97.05h1.83M490.8 97.05h.83M504.8 97.05h.83M426.8 97.55h.83M431.3 97.55h.83M438.3 97.55h.83M440.8 97.55h.83M441.8 97.55h.83M443.3 97.55h.83M444.3 97.55h.83M446.3 97.55h36.33M482.8 97.55h3.33M486.3 97.55h1.33M487.8 97.55h.83M488.8 97.55h.83M492.8 97.55h.83M494.8 97.55h.83M501.8 97.55h.83M437.8 98.05h1.33M440.3 98.05h1.33M442.3 98.05h.83M443.3 98.05h1.33M445.3 98.05h3.33M448.8 98.05h2.33M451.3 98.05h32.33M483.8 98.05h4.33M488.8 98.05h.83M489.8 98.05h1.33M491.3 98.05h.83M431.8 98.55h.83M438.3 98.55h.83M444.3 98.55h.83M445.3 98.55h3.33M448.8 98.55h33.83M482.8 98.55h2.33M485.3 98.55h1.33M486.8 98.55h1.83M489.8 98.55h.83M491.3 98.55h.83M492.8 98.55h.83M435.3 99.05h.83M441.8 99.05h1.33M443.3 99.05h3.33M446.8 99.05h2.33M449.3 99.05h40.33M498.3 99.05h.83M436.3 99.55h1.33M437.8 99.55h1.33M439.3 99.55h1.33M442.3 99.55h.83M443.3 99.55h.83M445.3 99.55h1.83M447.3 99.55h36.83M484.3 99.55h.83M485.3 99.55h3.33M488.8 99.55h.83M490.3 99.55h.83M493.3 99.55h.83M500.3 99.55h.83M426.3 100.05h.83M430.3 100.05h.83M432.3 100.05h.83M434.8 100.05h.83M438.8 100.05h.83M442.3 100.05h.83M443.3 100.05h.83M444.3 100.05h1.83M446.8 100.05h38.33M485.3 100.05h3.83M491.8 100.05h.83M429.3 100.55h.83M430.3 100.55h1.33M431.8 100.55h.83M437.3 100.55h.83M439.3 100.55h.83M440.3 100.55h1.33M443.8 100.55h2.33M446.3 100.55h.83M447.3 100.55h36.83M484.3 100.55h3.33M487.8 100.55h1.83M437.3 101.05h1.33M439.8 101.05h1.33M441.8 101.05h1.33M443.3 101.05h.83M444.8 101.05h38.33M483.8 101.05h2.83M486.8 101.05h2.83M490.8 101.05h1.33M492.3 101.05h.83M432.8 101.55h.83M434.8 101.55h.83M438.3 101.55h.83M440.3 101.55h1.83M443.3 101.55h1.33M445.3 101.55h3.83M449.3 101.55h37.33M487.8 101.55h.83M490.8 101.55h.83M494.3 101.55h.83M499.3 101.55h.83M432.8 102.05h.83M435.3 102.05h.83M436.8 102.05h.83M438.8 102.05h.83M440.3 102.05h.83M442.3 102.05h1.33M443.8 102.05h.83M446.3 102.05h39.33M485.8 102.05h1.33M487.3 102.05h.83M488.8 102.05h2.83M421.8 102.55h.83M435.8 102.55h.83M444.3 102.55h1.33M445.8 102.55h.83M446.8 102.55h39.33M487.3 102.55h1.33M488.8 102.55h.83M490.3 102.55h.83M495.8 102.55h.83M438.8 103.05h1.33M444.8 103.05h1.33M447.3 103.05h.83M448.3 103.05h3.33M451.8 103.05h29.33M481.3 103.05h2.33M484.3 103.05h5.33M490.3 103.05h.83M432.8 103.55h.83M444.3 103.55h.83M445.8 103.55h3.83M449.8 103.55h.83M450.8 103.55h.83M451.8 103.55h33.83M485.8 103.55h1.83M487.8 103.55h.83M488.8 103.55h.83M440.3 104.05h.83M441.8 104.05h1.83M444.3 104.05h.83M446.3 104.05h1.83M448.3 104.05h2.83M451.8 104.05h29.83M481.8 104.05h2.33M484.3 104.05h.83M485.3 104.05h1.83M487.3 104.05h1.33M488.8 104.05h.83M490.8 104.05h.83M431.8 104.55h.83M438.8 104.55h.83M441.8 104.55h.83M442.8 104.55h.83M444.3 104.55h.83M446.3 104.55h1.33M449.8 104.55h1.33M451.3 104.55h9.33M460.8 104.55h19.83M480.8 104.55h6.33M487.8 104.55h1.83M491.8 104.55h.83M493.3 104.55h1.33M431.8 105.05h.83M437.3 105.05h.83M445.3 105.05h.83M446.8 105.05h.83M448.3 105.05h33.33M481.8 105.05h2.33M484.8 105.05h1.33M486.3 105.05h.83M489.3 105.05h.83M490.8 105.05h.83M441.8 105.55h.83M446.3 105.55h.83M447.3 105.55h1.83M449.8 105.55h.83M450.8 105.55h1.83M453.3 105.55h5.33M458.8 105.55h7.33M466.3 105.55h13.33M479.8 105.55h3.33M483.8 105.55h2.33M486.3 105.55h.83M487.8 105.55h.83M435.3 106.05h.83M441.8 106.05h.83M444.8 106.05h1.83M448.3 106.05h1.83M450.3 106.05h.83M451.3 106.05h.83M452.3 106.05h2.83M455.3 106.05h1.33M456.8 106.05h5.33M462.3 106.05h1.83M464.3 106.05h15.83M480.3 106.05h1.33M481.8 106.05h.83M483.3 106.05h.83M484.8 106.05h1.33M486.3 106.05h.83M488.3 106.05h.83M493.8 106.05h.83M433.3 106.55h.83M436.8 106.55h.83M442.3 106.55h.83M443.3 106.55h.83M444.8 106.55h1.33M446.3 106.55h.83M447.3 106.55h.83M448.3 106.55h.83M449.8 106.55h.83M451.3 106.55h.83M452.3 106.55h2.33M456.8 106.55h1.33M458.3 106.55h.83M459.3 106.55h3.83M463.3 106.55h21.83M485.8 106.55h1.33M487.3 106.55h.83M435.8 107.05h.83M447.3 107.05h1.33M449.3 107.05h.83M451.3 107.05h.83M452.3 107.05h.83M453.3 107.05h1.83M456.3 107.05h2.33M458.8 107.05h2.33M461.8 107.05h.83M462.8 107.05h2.33M466.8 107.05h1.83M468.8 107.05h2.83M471.8 107.05h3.83M475.8 107.05h1.83M477.8 107.05h1.33M479.3 107.05h.83M480.3 107.05h2.33M482.8 107.05h.83M486.3 107.05h1.33M487.8 107.05h.83M491.8 107.05h.83M442.8 107.55h.83M446.8 107.55h.83M451.8 107.55h.83M452.8 107.55h1.33M455.3 107.55h3.33M458.8 107.55h.83M459.8 107.55h.83M461.3 107.55h.83M462.8 107.55h.83M463.8 107.55h.83M464.8 107.55h.83M466.3 107.55h1.83M468.3 107.55h.83M469.3 107.55h3.33M472.8 107.55h1.83M474.8 107.55h.83M476.3 107.55h2.33M478.8 107.55h1.83M481.3 107.55h2.33M483.8 107.55h.83M484.8 107.55h.83M485.8 107.55h1.33M489.3 107.55h.83M490.8 107.55h.83M501.3 107.55h.83M433.8 108.05h.83M439.3 108.05h.83M440.3 108.05h.83M445.8 108.05h.83M448.3 108.05h.83M449.3 108.05h.83M450.8 108.05h.83M452.3 108.05h.83M454.8 108.05h1.33M456.3 108.05h1.33M458.3 108.05h1.33M459.8 108.05h.83M461.8 108.05h1.33M463.3 108.05h1.33M465.3 108.05h.83M466.3 108.05h.83M467.3 108.05h.83M468.3 108.05h.83M469.3 108.05h2.33M472.8 108.05h2.33M475.3 108.05h.83M476.3 108.05h.83M477.3 108.05h2.83M480.3 108.05h1.33M483.8 108.05h.83M485.3 108.05h.83M487.3 108.05h.83M489.3 108.05h.83M434.3 108.55h.83M440.3 108.55h.83M450.8 108.55h.83M455.8 108.55h1.83M457.8 108.55h2.83M461.3 108.55h1.33M462.8 108.55h1.33M464.8 108.55h1.33M466.8 108.55h.83M467.8 108.55h1.83M470.3 108.55h.83M471.3 108.55h.83M472.3 108.55h.83M473.3 108.55h1.33M474.8 108.55h1.83M476.8 108.55h.83M477.8 108.55h.83M479.3 108.55h1.83M481.3 108.55h.83M482.8 108.55h1.33M489.3 108.55h.83M439.3 109.05h.83M446.8 109.05h.83M448.8 109.05h.83M452.3 109.05h.83M453.3 109.05h.83M456.3 109.05h.83M457.8 109.05h.83M459.3 109.05h.83M462.8 109.05h.83M463.8 109.05h.83M464.8 109.05h.83M465.8 109.05h.83M468.3 109.05h3.33M471.8 109.05h2.83M475.8 109.05h2.33M479.3 109.05h.83M480.3 109.05h1.83M482.3 109.05h.83M483.8 109.05h.83M491.8 109.05h.83M432.3 109.55h.83M458.3 109.55h.83M466.3 109.55h.83M467.3 109.55h.83M468.3 109.55h.83M469.3 109.55h.83M470.3 109.55h2.33M473.3 109.55h.83M474.8 109.55h.83M476.3 109.55h1.33M478.8 109.55h.83M479.8 109.55h.83M480.8 109.55h1.33M449.3 110.05h.83M452.8 110.05h.83M465.3 110.05h.83M466.3 110.05h.83M467.8 110.05h.83M470.8 110.05h1.33M472.3 110.05h.83M476.8 110.05h.83M477.8 110.05h1.33M480.8 110.05h.83M481.8 110.05h.83M483.8 110.05h.83M453.3 110.55h.83M462.3 110.55h.83M469.8 110.55h.83M471.8 110.55h.83M472.8 110.55h.83M476.8 110.55h.83M477.8 110.55h.83M479.8 110.55h.83M481.3 110.55h.83M483.8 110.55h.83M485.3 110.55h.83M455.8 111.05h.83M465.8 111.05h.83M466.8 111.05h.83M473.3 111.05h.83M481.3 111.05h.83M484.8 111.05h.83"/>
<rect class="f" x="398.80" y="2.30" width="119.00" height="110.20"/>
<path class="g" d="M425.40 2.30V112.50M398.80 77.40H517.80"/>
<path class="k" d="M403.30 112.50v3.0M407.79 112.50v3.0M412.29 112.50v3.0M416.78 112.50v3.0M421.28 112.50v5.0M425.77 112.50v3.0M430.26 112.50v3.0M434.76 112.50v3.0M439.25 112.50v3.0M443.75 112.50v5.0M448.25 112.50v3.0M452.74 112.50v3.0M457.24 112.50v3.0M461.73 112.50v3.0M466.23 112.50v5.0M470.72 112.50v3.0M475.22 112.50v3.0M479.71 112.50v3.0M484.21 112.50v3.0M488.70 112.50v5.0M493.19 112.50v3.0M497.69 112.50v3.0M502.19 112.50v3.0M506.68 112.50v3.0M511.18 112.50v5.0M515.67 112.50v3.0M398.80 111.48h-2.4M398.80 108.04h-2.4M398.80 105.38h-2.4M398.80 103.20h-2.4M398.80 101.36h-2.4M398.80 99.77h-2.4M398.80 98.36h-2.4M398.80 97.10h-3.7M398.80 88.82h-2.4M398.80 83.98h-2.4M398.80 80.54h-2.4M398.80 77.88h-2.4M398.80 75.70h-2.4M398.80 73.86h-2.4M398.80 72.27h-2.4M398.80 70.86h-2.4M398.80 69.60h-3.7M398.80 61.32h-2.4M398.80 56.48h-2.4M398.80 53.04h-2.4M398.80 50.38h-2.4M398.80 48.20h-2.4M398.80 46.36h-2.4M398.80 44.77h-2.4M398.80 43.36h-2.4M398.80 42.10h-3.7M398.80 33.82h-2.4M398.80 28.98h-2.4M398.80 25.54h-2.4M398.80 22.88h-2.4M398.80 20.70h-2.4M398.80 18.86h-2.4M398.80 17.27h-2.4M398.80 15.86h-2.4M398.80 14.60h-3.7M398.80 6.32h-2.4"/>
<text class="n" x="420.88" y="124.10">50</text>
<text class="n" x="443.35" y="124.10">100</text>
<text class="n" x="465.83" y="124.10">150</text>
<text class="n" x="488.30" y="124.10">200</text>
<text class="n" x="510.78" y="124.10">250</text>
<text class="a" x="457.70" y="132.90">FSC-H</text>
<text class="m" x="517.70" y="131.70">(x 1,000)</text>
<text class="y" transform="translate(393.20 100.70) rotate(-90)">10<tspan class="s" dx=".2" dy="-3.7">2</tspan></text>
<text class="y" transform="translate(393.20 73.20) rotate(-90)">10<tspan class="s" dx=".2" dy="-3.7">3</tspan></text>
<text class="y" transform="translate(393.20 45.70) rotate(-90)">10<tspan class="s" dx=".2" dy="-3.7">4</tspan></text>
<text class="y" transform="translate(393.20 18.20) rotate(-90)">10<tspan class="s" dx=".2" dy="-3.7">5</tspan></text>
<text class="a" transform="translate(383.10 57.40) rotate(-90)">GFP-A</text>
<text class="t" transform="translate(485.60 15.95) scale(1 1.14)">PGK</text>
</g>
<g>
<path class="d" d="M145.3 166.75h.83M148.8 167.75h.83M152.3 168.75h.83M131.3 169.25h.83M165.8 170.75h.83M114.3 171.75h.83M144.8 171.75h.83M146.3 171.75h.83M157.3 171.75h.83M143.3 172.25h.83M141.3 172.75h.83M142.8 172.75h.83M145.3 173.25h.83M169.8 173.25h.83M139.8 174.25h.83M141.8 174.25h.83M144.8 174.25h.83M137.3 174.75h.83M140.8 174.75h.83M152.3 174.75h.83M144.3 175.25h.83M150.8 175.25h.83M160.8 175.25h.83M147.3 176.25h.83M151.3 176.25h.83M147.3 176.75h.83M122.8 177.25h.83M135.3 177.25h.83M148.8 177.25h.83M172.8 177.25h.83M132.3 177.75h.83M136.3 177.75h.83M140.8 178.25h.83M143.3 178.25h.83M158.8 178.25h.83M123.3 178.75h.83M135.8 178.75h.83M148.8 178.75h.83M132.8 179.25h.83M134.8 179.25h.83M140.3 179.25h.83M153.3 179.25h.83M159.8 179.25h.83M127.8 179.75h.83M133.3 179.75h1.33M154.3 179.75h.83M159.3 179.75h.83M134.3 180.25h.83M140.3 180.25h.83M142.8 180.25h.83M121.3 180.75h.83M133.3 180.75h.83M135.3 180.75h.83M144.3 180.75h.83M151.3 180.75h.83M134.3 181.25h.83M152.8 181.25h.83M154.3 181.25h1.33M121.8 181.75h.83M133.8 181.75h.83M143.3 181.75h.83M160.8 181.75h.83M131.3 182.25h.83M139.3 182.25h.83M140.8 182.25h.83M155.3 182.25h.83M119.8 182.75h.83M126.3 182.75h.83M130.3 182.75h.83M135.8 182.75h.83M139.3 182.75h.83M143.8 182.75h.83M144.8 182.75h.83M147.8 182.75h.83M124.3 183.25h.83M128.8 183.25h.83M134.3 183.25h.83M140.8 183.25h.83M144.3 183.25h.83M147.8 183.25h.83M150.8 183.25h.83M161.3 183.25h.83M124.3 183.75h.83M134.3 183.75h.83M135.8 183.75h.83M145.3 183.75h.83M146.8 183.75h.83M163.8 183.75h.83M128.8 184.25h.83M130.3 184.25h.83M134.3 184.25h.83M147.3 184.25h.83M149.8 184.25h.83M156.8 184.25h.83M128.3 184.75h.83M134.8 184.75h.83M137.3 184.75h.83M138.3 184.75h.83M139.3 184.75h.83M140.3 184.75h.83M141.3 184.75h.83M143.8 184.75h1.33M147.3 184.75h.83M148.8 184.75h.83M152.3 184.75h.83M155.3 184.75h.83M165.3 184.75h.83M133.3 185.25h.83M134.8 185.25h1.33M137.8 185.25h1.83M142.8 185.25h1.33M146.3 185.25h.83M148.8 185.25h.83M151.8 185.25h.83M153.8 185.25h.83M167.8 185.25h.83M132.8 185.75h1.33M138.3 185.75h.83M146.3 185.75h1.83M148.3 185.75h.83M153.3 185.75h.83M157.8 185.75h.83M158.8 185.75h1.33M167.3 185.75h.83M124.3 186.25h.83M134.3 186.25h.83M136.3 186.25h.83M141.3 186.25h.83M142.8 186.25h.83M149.3 186.25h.83M112.8 186.75h.83M131.8 186.75h.83M133.8 186.75h.83M138.3 186.75h.83M141.3 186.75h.83M155.3 186.75h.83M166.3 186.75h.83M124.8 187.25h.83M125.8 187.25h.83M126.8 187.25h.83M137.8 187.25h.83M138.8 187.25h.83M142.8 187.25h.83M145.8 187.25h1.33M149.3 187.25h.83M154.3 187.25h.83M157.8 187.25h.83M160.3 187.25h.83M124.3 187.75h.83M129.3 187.75h.83M131.8 187.75h.83M138.8 187.75h.83M140.3 187.75h.83M141.8 187.75h.83M147.8 187.75h.83M148.8 187.75h.83M149.8 187.75h.83M151.3 187.75h1.33M157.8 187.75h.83M127.8 188.25h.83M133.3 188.25h.83M134.3 188.25h.83M137.3 188.25h1.33M139.3 188.25h1.33M141.8 188.25h.83M145.3 188.25h.83M146.8 188.25h.83M147.8 188.25h.83M148.8 188.25h.83M150.8 188.25h.83M163.8 188.25h.83M124.8 188.75h1.33M126.3 188.75h.83M128.8 188.75h.83M132.8 188.75h.83M136.8 188.75h.83M137.8 188.75h.83M144.3 188.75h.83M146.3 188.75h.83M148.3 188.75h.83M124.3 189.25h.83M130.8 189.25h.83M134.8 189.25h.83M137.8 189.25h1.83M142.3 189.25h4.33M152.3 189.25h.83M153.8 189.25h.83M154.8 189.25h.83M159.8 189.25h.83M164.8 189.25h.83M166.3 189.25h.83M115.8 189.75h.83M128.8 189.75h1.33M133.3 189.75h1.83M136.3 189.75h.83M138.8 189.75h.83M141.8 189.75h1.33M144.3 189.75h.83M153.3 189.75h.83M157.8 189.75h.83M130.8 190.25h.83M132.8 190.25h.83M134.3 190.25h.83M137.3 190.25h.83M138.3 190.25h.83M143.8 190.25h.83M145.3 190.25h.83M147.3 190.25h1.33M151.3 190.25h.83M158.8 190.25h.83M160.8 190.25h.83M127.8 190.75h.83M130.3 190.75h.83M134.3 190.75h1.33M137.3 190.75h.83M139.8 190.75h.83M140.8 190.75h.83M141.8 190.75h.83M145.3 190.75h.83M146.3 190.75h.83M151.3 190.75h.83M152.8 190.75h.83M154.3 190.75h.83M155.3 190.75h.83M128.3 191.25h.83M129.3 191.25h.83M130.3 191.25h.83M132.8 191.25h.83M137.8 191.25h.83M141.3 191.25h.83M142.8 191.25h.83M144.3 191.25h1.33M151.3 191.25h.83M158.8 191.25h.83M123.8 191.75h.83M128.3 191.75h.83M129.3 191.75h.83M131.3 191.75h.83M135.3 191.75h.83M136.3 191.75h.83M139.3 191.75h.83M140.3 191.75h.83M141.3 191.75h.83M142.3 191.75h.83M144.8 191.75h.83M145.8 191.75h1.83M153.3 191.75h.83M154.3 191.75h.83M158.3 191.75h.83M108.3 192.25h.83M125.8 192.25h.83M129.3 192.25h.83M132.8 192.25h.83M136.3 192.25h.83M137.3 192.25h1.33M141.8 192.25h1.33M144.3 192.25h1.33M145.8 192.25h.83M146.8 192.25h.83M147.8 192.25h.83M149.8 192.25h.83M152.8 192.25h.83M158.8 192.25h.83M160.3 192.25h.83M167.8 192.25h.83M105.8 192.75h.83M112.8 192.75h.83M127.8 192.75h.83M128.8 192.75h.83M130.8 192.75h.83M131.8 192.75h.83M133.3 192.75h1.33M135.3 192.75h.83M138.3 192.75h.83M139.3 192.75h.83M142.3 192.75h.83M144.8 192.75h.83M148.3 192.75h.83M149.3 192.75h.83M150.8 192.75h.83M155.3 192.75h.83M130.8 193.25h.83M132.3 193.25h.83M137.3 193.25h.83M138.3 193.25h1.33M140.3 193.25h1.33M143.3 193.25h1.33M144.8 193.25h.83M145.8 193.25h.83M147.8 193.25h1.33M149.3 193.25h.83M153.8 193.25h.83M154.8 193.25h.83M156.8 193.25h.83M161.3 193.25h.83M166.3 193.25h.83M123.8 193.75h.83M126.8 193.75h.83M129.8 193.75h.83M131.8 193.75h1.33M133.8 193.75h.83M134.8 193.75h.83M135.8 193.75h.83M137.8 193.75h1.33M140.3 193.75h1.33M141.8 193.75h2.33M145.8 193.75h.83M147.3 193.75h.83M150.3 193.75h.83M151.3 193.75h.83M154.3 193.75h.83M123.3 194.25h.83M124.3 194.25h1.33M129.8 194.25h.83M136.3 194.25h2.33M138.8 194.25h1.33M143.3 194.25h1.83M145.8 194.25h1.33M147.3 194.25h.83M148.3 194.25h.83M151.8 194.25h.83M153.8 194.25h.83M155.8 194.25h1.33M157.3 194.25h.83M159.3 194.25h.83M161.8 194.25h.83M120.3 194.75h.83M132.8 194.75h.83M135.3 194.75h1.33M136.8 194.75h1.33M138.3 194.75h.83M139.3 194.75h.83M141.3 194.75h1.33M142.8 194.75h.83M144.8 194.75h.83M146.3 194.75h.83M148.8 194.75h2.33M151.8 194.75h.83M156.3 194.75h.83M171.3 194.75h.83M129.8 195.25h.83M133.8 195.25h.83M139.3 195.25h.83M140.3 195.25h.83M141.3 195.25h.83M142.8 195.25h.83M144.3 195.25h.83M146.3 195.25h.83M148.3 195.25h.83M152.8 195.25h.83M153.8 195.25h.83M157.3 195.25h.83M161.3 195.25h1.33M165.8 195.25h.83M113.3 195.75h.83M123.8 195.75h1.33M126.8 195.75h.83M130.3 195.75h.83M131.3 195.75h.83M132.3 195.75h1.33M133.8 195.75h.83M137.3 195.75h.83M138.8 195.75h1.33M144.3 195.75h.83M147.8 195.75h1.83M149.8 195.75h.83M162.3 195.75h.83M121.3 196.25h.83M125.3 196.25h.83M126.8 196.25h.83M133.8 196.25h.83M134.8 196.25h1.33M137.3 196.25h.83M139.8 196.25h1.33M141.8 196.25h2.33M148.8 196.25h1.33M151.3 196.25h1.33M154.3 196.25h.83M158.8 196.25h.83M122.3 196.75h.83M124.8 196.75h.83M125.8 196.75h1.83M128.3 196.75h1.33M131.3 196.75h1.33M133.3 196.75h.83M135.8 196.75h1.83M137.8 196.75h.83M139.3 196.75h1.33M140.8 196.75h.83M141.8 196.75h.83M148.3 196.75h.83M152.3 196.75h.83M156.8 196.75h.83M159.8 196.75h.83M161.8 196.75h.83M121.3 197.25h.83M128.3 197.25h.83M129.8 197.25h.83M130.8 197.25h1.33M132.3 197.25h.83M133.8 197.25h1.83M136.3 197.25h1.33M137.8 197.25h.83M138.8 197.25h.83M142.3 197.25h.83M145.3 197.25h1.83M147.3 197.25h.83M148.8 197.25h.83M159.8 197.25h.83M123.3 197.75h.83M129.8 197.75h.83M134.3 197.75h.83M135.8 197.75h1.33M138.3 197.75h.83M141.3 197.75h.83M143.3 197.75h1.33M144.8 197.75h1.33M146.3 197.75h.83M150.3 197.75h.83M124.8 198.25h.83M127.8 198.25h.83M129.3 198.25h.83M130.3 198.25h.83M131.8 198.25h.83M133.3 198.25h3.33M138.8 198.25h.83M139.8 198.25h2.33M144.3 198.25h1.33M146.3 198.25h.83M148.8 198.25h.83M152.8 198.25h.83M157.3 198.25h.83M119.3 198.75h.83M124.3 198.75h.83M125.8 198.75h.83M127.8 198.75h.83M129.8 198.75h1.33M131.3 198.75h.83M132.3 198.75h1.33M133.8 198.75h.83M137.8 198.75h.83M141.3 198.75h.83M142.3 198.75h.83M145.3 198.75h.83M146.3 198.75h1.33M147.8 198.75h1.33M150.8 198.75h.83M153.3 198.75h1.33M156.8 198.75h.83M115.8 199.25h.83M118.8 199.25h.83M126.8 199.25h.83M133.3 199.25h.83M135.8 199.25h.83M137.8 199.25h.83M139.3 199.25h.83M140.3 199.25h1.33M141.8 199.25h.83M144.8 199.25h1.33M146.3 199.25h.83M148.8 199.25h.83M161.8 199.25h.83M121.8 199.75h1.33M127.8 199.75h.83M130.3 199.75h.83M132.3 199.75h1.33M133.8 199.75h.83M136.8 199.75h.83M139.8 199.75h1.33M141.8 199.75h.83M145.8 199.75h1.33M147.3 199.75h.83M149.8 199.75h.83M154.8 199.75h.83M166.3 199.75h.83M129.3 200.25h.83M131.8 200.25h.83M134.8 200.25h.83M135.8 200.25h.83M140.3 200.25h.83M143.8 200.25h1.33M146.8 200.25h.83M147.8 200.25h1.33M153.3 200.25h.83M156.8 200.25h.83M123.3 200.75h.83M124.8 200.75h.83M128.3 200.75h.83M130.3 200.75h.83M131.3 200.75h.83M133.3 200.75h.83M135.8 200.75h2.33M138.3 200.75h1.33M139.8 200.75h.83M146.8 200.75h.83M147.8 200.75h.83M148.8 200.75h1.33M154.3 200.75h.83M160.8 200.75h.83M117.3 201.25h.83M119.8 201.25h.83M122.8 201.25h.83M126.8 201.25h.83M128.8 201.25h.83M130.3 201.25h.83M132.3 201.25h.83M134.8 201.25h1.33M138.3 201.25h.83M141.8 201.25h1.33M143.3 201.25h.83M144.8 201.25h.83M145.8 201.25h.83M150.8 201.25h.83M151.8 201.25h1.33M157.3 201.25h.83M163.8 201.25h.83M124.8 201.75h.83M130.8 201.75h.83M131.8 201.75h.83M132.8 201.75h.83M134.3 201.75h.83M135.8 201.75h1.33M139.3 201.75h.83M141.3 201.75h2.33M143.8 201.75h.83M121.8 202.25h1.33M126.3 202.25h.83M130.3 202.25h.83M131.8 202.25h.83M133.3 202.25h1.33M135.3 202.25h.83M137.3 202.25h.83M138.3 202.25h.83M139.8 202.25h1.33M141.3 202.25h.83M143.3 202.25h1.33M146.8 202.25h.83M148.8 202.25h.83M149.8 202.25h.83M150.8 202.25h.83M155.8 202.25h1.33M157.3 202.25h1.33M120.3 202.75h.83M129.8 202.75h.83M133.8 202.75h.83M135.3 202.75h2.33M138.3 202.75h.83M139.3 202.75h.83M140.8 202.75h.83M142.8 202.75h.83M129.8 203.25h.83M131.8 203.25h.83M135.3 203.25h.83M138.3 203.25h.83M140.3 203.25h.83M154.3 203.25h.83M157.3 203.25h.83M126.8 203.75h1.33M129.3 203.75h1.33M130.8 203.75h1.33M132.8 203.75h.83M137.3 203.75h.83M140.3 203.75h.83M141.3 203.75h.83M145.3 203.75h.83M148.3 203.75h.83M153.8 203.75h.83M121.3 204.25h.83M129.8 204.25h.83M130.8 204.25h.83M133.3 204.25h1.33M135.8 204.25h1.33M137.8 204.25h.83M140.3 204.25h1.33M142.8 204.25h1.33M144.8 204.25h1.33M146.8 204.25h.83M150.3 204.25h.83M151.8 204.25h1.33M155.3 204.25h.83M112.8 204.75h.83M117.3 204.75h.83M119.8 204.75h.83M123.3 204.75h.83M134.8 204.75h.83M139.8 204.75h.83M141.3 204.75h.83M142.3 204.75h.83M144.3 204.75h.83M148.8 204.75h.83M150.3 204.75h1.33M152.8 204.75h.83M157.3 204.75h.83M123.8 205.25h.83M124.8 205.25h.83M126.8 205.25h.83M128.8 205.25h.83M129.8 205.25h.83M132.3 205.25h.83M134.8 205.25h.83M137.3 205.25h1.33M139.3 205.25h.83M142.3 205.25h1.33M144.3 205.25h1.33M146.8 205.25h.83M147.8 205.25h.83M150.8 205.25h.83M155.3 205.25h.83M116.8 205.75h.83M118.8 205.75h.83M122.3 205.75h.83M124.8 205.75h.83M132.8 205.75h.83M133.8 205.75h.83M134.8 205.75h1.33M136.3 205.75h1.33M139.3 205.75h.83M141.8 205.75h1.33M143.8 205.75h1.83M148.3 205.75h.83M152.8 205.75h1.33M155.3 205.75h.83M158.3 205.75h.83M124.3 206.25h.83M128.3 206.25h.83M130.3 206.25h.83M131.8 206.25h.83M133.8 206.25h.83M140.3 206.25h.83M141.8 206.25h.83M143.8 206.25h.83M144.8 206.25h.83M146.8 206.25h1.33M148.3 206.25h.83M149.8 206.25h.83M156.3 206.25h.83M160.8 206.25h.83M125.3 206.75h.83M135.3 206.75h1.33M136.8 206.75h1.33M140.8 206.75h.83M141.8 206.75h.83M143.3 206.75h1.33M151.8 206.75h.83M155.3 206.75h1.33M116.8 207.25h.83M122.8 207.25h.83M131.8 207.25h.83M133.3 207.25h1.33M136.3 207.25h1.33M137.8 207.25h.83M139.8 207.25h.83M141.8 207.25h.83M145.3 207.25h.83M146.3 207.25h.83M147.8 207.25h.83M148.8 207.25h.83M151.3 207.25h.83M154.8 207.25h.83M120.3 207.75h.83M123.3 207.75h.83M127.3 207.75h.83M131.8 207.75h.83M136.3 207.75h1.33M138.8 207.75h.83M141.8 207.75h.83M146.8 207.75h.83M125.3 208.25h.83M127.3 208.25h.83M129.8 208.25h.83M131.8 208.25h1.33M134.8 208.25h.83M135.8 208.25h.83M136.8 208.25h.83M139.3 208.25h.83M140.8 208.25h.83M143.8 208.25h.83M146.8 208.25h.83M150.3 208.25h.83M124.8 208.75h.83M126.3 208.75h1.33M128.8 208.75h.83M130.3 208.75h.83M132.8 208.75h1.33M134.3 208.75h.83M136.8 208.75h.83M139.3 208.75h.83M143.3 208.75h.83M146.3 208.75h.83M121.8 209.25h.83M129.3 209.25h.83M133.3 209.25h.83M137.3 209.25h.83M140.3 209.25h.83M144.8 209.25h.83M149.8 209.25h.83M122.3 209.75h.83M129.8 209.75h.83M138.8 209.75h1.33M145.8 209.75h.83M147.8 209.75h.83M168.3 209.75h.83M130.3 210.25h.83M132.3 210.25h.83M133.3 210.25h.83M136.3 210.25h.83M137.8 210.25h.83M145.3 210.25h.83M146.8 210.25h.83M151.3 210.25h.83M164.3 210.25h.83M116.3 210.75h.83M124.8 210.75h.83M132.8 210.75h.83M135.8 210.75h.83M140.3 210.75h.83M150.8 210.75h.83M157.3 210.75h.83M112.3 211.25h.83M124.8 211.25h.83M133.3 211.25h.83M138.3 211.25h.83M145.3 211.25h1.33M151.3 211.25h.83M170.3 211.25h.83M121.3 211.75h.83M132.8 211.75h1.33M136.3 211.75h.83M142.3 211.75h.83M144.8 211.75h1.33M148.8 211.75h.83M152.8 211.75h.83M132.3 212.25h.83M133.3 212.25h.83M136.3 212.25h.83M137.8 212.25h.83M140.8 212.25h.83M142.3 212.25h.83M154.3 212.25h1.33M157.8 212.25h.83M169.8 212.25h.83M133.3 212.75h1.33M136.3 212.75h.83M137.3 212.75h.83M140.8 212.75h.83M144.8 212.75h.83M146.3 212.75h1.33M147.8 212.75h.83M153.8 212.75h.83M142.3 213.25h.83M143.3 213.25h.83M144.3 213.25h.83M148.3 213.25h.83M150.3 213.25h.83M119.8 213.75h.83M128.8 213.75h.83M131.8 213.75h.83M148.3 213.75h.83M151.3 213.75h.83M154.3 213.75h.83M132.3 214.25h.83M137.8 214.25h.83M140.3 214.25h.83M141.3 214.25h.83M154.8 214.25h.83M133.3 214.75h.83M136.8 214.75h1.33M140.8 214.75h.83M142.8 214.75h.83M152.8 214.75h.83M129.3 215.25h.83M137.3 215.25h.83M138.8 215.25h1.33M152.8 215.25h.83M164.8 215.25h.83M115.3 215.75h.83M135.8 215.75h.83M143.3 215.75h.83M127.3 216.25h.83M131.8 216.25h.83M147.3 216.25h.83M153.3 216.25h1.33M139.3 216.75h.83M154.8 216.75h.83M123.3 217.25h.83M128.3 217.25h.83M148.8 217.25h.83M121.3 217.75h.83M142.3 217.75h.83M150.3 217.75h.83M159.8 217.75h.83M166.3 217.75h.83M133.3 218.25h.83M134.3 218.25h.83M152.8 218.25h.83M109.8 218.75h.83M116.8 218.75h.83M118.3 218.75h.83M137.3 218.75h.83M145.3 218.75h.83M146.8 218.75h.83M130.8 219.25h.83M138.3 219.25h.83M144.3 219.25h.83M147.3 219.25h.83M148.3 219.25h.83M146.3 219.75h.83M124.8 220.25h.83M126.8 220.25h.83M138.8 220.25h.83M142.3 220.25h.83M141.3 220.75h.83M143.3 221.25h.83M156.8 221.25h.83M123.3 221.75h.83M133.8 221.75h.83M141.8 221.75h.83M161.3 221.75h.83M146.3 222.25h.83M154.8 222.25h.83M135.3 222.75h.83M137.8 222.75h.83M151.3 222.75h.83M144.8 223.25h.83M151.8 223.25h.83M123.3 223.75h.83M130.3 223.75h.83M134.8 223.75h.83M138.8 223.75h.83M143.8 223.75h.83M145.8 223.75h.83M149.3 223.75h.83M151.3 223.75h.83M134.3 224.25h.83M156.3 224.25h.83M169.3 224.25h.83M127.8 224.75h.83M130.8 224.75h.83M137.8 224.75h1.33M141.3 224.75h.83M151.3 224.75h.83M129.8 225.25h.83M136.3 225.25h.83M141.8 225.25h.83M144.8 225.25h.83M175.8 225.25h.83M142.8 225.75h.83M155.8 225.75h.83M157.8 225.75h.83M128.8 226.25h.83M133.8 226.25h.83M134.8 226.25h.83M136.3 226.25h1.33M157.8 226.25h.83M115.3 226.75h.83M124.3 226.75h.83M120.3 227.25h.83M135.8 227.25h.83M141.3 227.25h.83M142.3 227.25h.83M134.8 227.75h.83M141.3 227.75h.83M157.3 227.75h.83M170.3 227.75h.83M115.8 228.75h.83M129.8 228.75h.83M153.8 228.75h.83M158.8 228.75h.83M121.8 229.25h.83M139.8 229.25h.83M143.3 229.25h.83M147.3 229.25h.83M133.8 229.75h.83M144.3 229.75h.83M139.8 230.25h.83M113.3 230.75h.83M125.8 230.75h.83M155.3 230.75h.83M159.8 230.75h.83M117.3 231.25h.83M153.3 231.25h.83M127.8 231.75h.83M129.3 231.75h.83M130.8 231.75h.83M144.3 231.75h.83M150.3 231.75h.83M126.3 232.25h.83M129.8 232.25h.83M132.8 232.25h1.33M155.3 232.25h.83M161.8 232.25h1.33M135.8 232.75h1.33M139.8 232.75h.83M145.3 232.75h.83M159.8 232.75h.83M108.3 233.25h.83M127.3 233.25h.83M140.8 233.25h.83M143.8 233.25h.83M151.8 233.25h.83M162.8 233.25h.83M167.3 233.25h.83M132.8 233.75h.83M134.3 233.75h.83M148.8 233.75h.83M157.8 233.75h.83M160.3 233.75h.83M121.8 234.25h1.33M126.3 234.25h.83M127.8 234.25h.83M133.3 234.25h.83M135.3 234.25h.83M136.3 234.25h.83M143.3 234.25h.83M145.8 234.25h.83M148.3 234.25h.83M149.3 234.25h.83M150.3 234.25h.83M153.3 234.25h.83M164.3 234.25h.83M124.8 234.75h.83M127.3 234.75h.83M128.8 234.75h.83M135.3 234.75h.83M136.8 234.75h.83M139.3 234.75h.83M152.3 234.75h.83M156.3 234.75h.83M157.8 234.75h.83M160.8 234.75h.83M172.8 234.75h.83M120.3 235.25h.83M124.8 235.25h1.33M136.3 235.25h.83M137.3 235.25h.83M139.3 235.25h.83M148.3 235.25h.83M149.3 235.25h.83M151.3 235.25h.83M152.3 235.25h.83M153.8 235.25h.83M155.8 235.25h.83M158.3 235.25h.83M159.3 235.25h.83M160.8 235.25h.83M174.3 235.25h.83M119.8 235.75h.83M122.8 235.75h.83M128.8 235.75h.83M130.8 235.75h.83M132.8 235.75h.83M137.3 235.75h1.33M139.8 235.75h.83M140.8 235.75h.83M141.8 235.75h1.83M145.3 235.75h1.33M146.8 235.75h.83M150.8 235.75h.83M152.8 235.75h.83M154.3 235.75h.83M162.3 235.75h.83M165.8 235.75h.83M166.8 235.75h.83M173.3 235.75h.83M123.3 236.25h.83M129.8 236.25h.83M131.3 236.25h1.83M134.8 236.25h1.33M136.3 236.25h2.33M139.3 236.25h1.33M141.3 236.25h.83M144.3 236.25h.83M145.3 236.25h.83M146.3 236.25h1.33M149.3 236.25h1.33M151.8 236.25h.83M152.8 236.25h.83M155.3 236.25h1.33M158.3 236.25h.83M161.3 236.25h1.33M166.3 236.25h.83M120.3 236.75h.83M123.8 236.75h.83M125.8 236.75h1.33M131.3 236.75h1.83M133.3 236.75h.83M134.3 236.75h1.83M136.3 236.75h1.33M137.8 236.75h1.33M139.8 236.75h1.33M141.3 236.75h1.33M142.8 236.75h.83M144.3 236.75h.83M145.8 236.75h1.33M147.3 236.75h2.83M150.3 236.75h1.33M152.3 236.75h.83M154.3 236.75h1.33M156.3 236.75h1.83M159.3 236.75h.83M160.8 236.75h.83M162.3 236.75h.83M163.8 236.75h1.83M168.3 236.75h.83M169.3 236.75h.83M174.8 236.75h.83M115.8 237.25h.83M119.3 237.25h.83M121.8 237.25h.83M123.3 237.25h.83M124.3 237.25h.83M128.3 237.25h.83M129.3 237.25h1.33M130.8 237.25h.83M132.8 237.25h.83M134.3 237.25h.83M135.8 237.25h.83M136.8 237.25h1.33M140.3 237.25h.83M141.8 237.25h1.83M144.3 237.25h.83M145.3 237.25h.83M147.3 237.25h1.33M149.8 237.25h.83M151.8 237.25h.83M156.8 237.25h.83M159.3 237.25h.83M160.3 237.25h.83M163.3 237.25h.83M166.3 237.25h.83M169.8 237.25h1.33M177.3 237.25h.83M179.8 237.25h.83M121.3 237.75h.83M122.8 237.75h.83M123.8 237.75h.83M125.8 237.75h1.33M127.8 237.75h.83M129.8 237.75h4.83M134.8 237.75h1.33M136.8 237.75h.83M137.8 237.75h1.33M140.3 237.75h3.33M143.8 237.75h.83M145.3 237.75h.83M146.3 237.75h4.33M150.8 237.75h2.83M154.3 237.75h2.33M158.3 237.75h.83M161.3 237.75h.83M163.8 237.75h.83M169.8 237.75h.83M178.8 237.75h.83M121.3 238.25h.83M122.8 238.25h.83M123.8 238.25h.83M124.8 238.25h4.33M129.3 238.25h.83M130.3 238.25h1.33M132.3 238.25h4.33M136.8 238.25h1.83M138.8 238.25h2.33M141.3 238.25h2.33M144.3 238.25h3.83M149.3 238.25h.83M150.8 238.25h1.83M153.3 238.25h1.83M155.8 238.25h1.33M158.3 238.25h1.33M159.8 238.25h.83M161.3 238.25h.83M162.8 238.25h.83M164.8 238.25h.83M120.8 238.75h.83M123.3 238.75h.83M124.3 238.75h.83M125.8 238.75h1.33M127.3 238.75h.83M128.3 238.75h2.83M132.3 238.75h4.83M137.3 238.75h3.33M141.3 238.75h7.33M148.8 238.75h.83M150.8 238.75h.83M152.3 238.75h1.33M153.8 238.75h1.33M156.8 238.75h.83M157.8 238.75h1.33M160.3 238.75h1.33M162.3 238.75h.83M163.3 238.75h.83M164.8 238.75h.83M167.3 238.75h.83M168.8 238.75h.83M171.3 238.75h.83M174.3 238.75h.83M107.3 239.25h.83M109.3 239.25h.83M116.3 239.25h.83M118.8 239.25h1.33M121.8 239.25h.83M123.8 239.25h2.83M126.8 239.25h.83M128.3 239.25h.83M129.3 239.25h1.83M131.3 239.25h3.33M134.8 239.25h5.83M140.8 239.25h.83M141.8 239.25h5.33M147.3 239.25h1.83M149.3 239.25h2.33M151.8 239.25h.83M152.8 239.25h2.83M155.8 239.25h.83M156.8 239.25h3.33M160.3 239.25h.83M161.3 239.25h.83M163.8 239.25h.83M167.8 239.25h.83M170.3 239.25h.83M111.3 239.75h.83M112.8 239.75h.83M114.8 239.75h.83M117.3 239.75h1.33M118.8 239.75h2.33M122.8 239.75h.83M123.8 239.75h4.33M128.3 239.75h2.83M131.3 239.75h12.33M143.8 239.75h9.83M153.8 239.75h.83M154.8 239.75h1.83M156.8 239.75h.83M157.8 239.75h3.83M161.8 239.75h1.33M163.8 239.75h1.83M165.8 239.75h.83M171.8 239.75h.83M114.3 240.25h.83M115.8 240.25h.83M119.8 240.25h1.83M123.8 240.25h4.83M128.8 240.25h31.83M160.8 240.25h1.33M163.3 240.25h1.83M166.3 240.25h.83M167.8 240.25h2.83M172.3 240.25h1.33M107.3 240.75h.83M110.3 240.75h.83M117.3 240.75h.83M120.3 240.75h1.83M122.3 240.75h2.33M124.8 240.75h32.33M157.3 240.75h1.33M159.3 240.75h.83M160.3 240.75h1.33M161.8 240.75h.83M162.8 240.75h.83M163.8 240.75h.83M164.8 240.75h.83M166.8 240.75h.83M168.3 240.75h.83M172.8 240.75h.83M174.3 240.75h.83M118.3 241.25h1.33M120.8 241.25h1.83M122.8 241.25h37.33M160.3 241.25h2.83M163.8 241.25h1.33M169.8 241.25h.83M175.8 241.25h.83M111.8 241.75h.83M113.3 241.75h.83M114.8 241.75h.83M117.3 241.75h.83M118.3 241.75h1.33M119.8 241.75h.83M120.8 241.75h1.33M122.3 241.75h34.33M156.8 241.75h4.33M161.3 241.75h2.33M164.8 241.75h.83M165.8 241.75h1.33M167.3 241.75h1.33M171.8 241.75h.83M112.3 242.25h.83M115.3 242.25h.83M117.8 242.25h.83M118.8 242.25h1.83M120.8 242.25h2.33M123.8 242.25h37.83M161.8 242.25h2.33M164.3 242.25h1.33M167.8 242.25h.83M168.8 242.25h.83M172.8 242.25h.83M115.3 242.75h.83M118.8 242.75h3.83M123.3 242.75h37.33M160.8 242.75h1.33M162.3 242.75h1.33M163.8 242.75h3.33M170.3 242.75h1.33M171.8 242.75h.83M173.3 242.75h.83M177.8 242.75h.83M180.8 242.75h.83M114.3 243.25h.83M118.3 243.25h1.33M119.8 243.25h2.33M122.3 243.25h39.83M162.3 243.25h1.33M163.8 243.25h1.83M167.8 243.25h.83M169.8 243.25h1.33M173.3 243.25h.83M113.3 243.75h1.33M116.8 243.75h.83M118.8 243.75h1.83M120.8 243.75h42.83M163.8 243.75h.83M164.8 243.75h1.83M167.3 243.75h.83M170.8 243.75h.83M174.8 243.75h1.33M176.3 243.75h.83M111.3 244.25h.83M117.3 244.25h1.33M118.8 244.25h.83M119.8 244.25h3.83M123.8 244.25h39.83M163.8 244.25h1.33M165.3 244.25h.83M166.3 244.25h.83M167.8 244.25h.83M169.3 244.25h2.83M97.3 244.75h.83M115.3 244.75h1.33M117.3 244.75h.83M119.3 244.75h1.33M120.8 244.75h1.83M122.8 244.75h44.83M167.8 244.75h1.33M169.3 244.75h1.83M171.3 244.75h1.33M107.3 245.25h.83M114.8 245.25h.83M117.8 245.25h1.33M119.3 245.25h44.33M163.8 245.25h3.33M167.8 245.25h.83M168.8 245.25h1.33M170.3 245.25h.83M109.3 245.75h.83M114.3 245.75h.83M116.8 245.75h.83M118.3 245.75h.83M119.3 245.75h.83M120.8 245.75h41.83M162.8 245.75h1.83M164.8 245.75h1.83M167.8 245.75h1.83M169.8 245.75h.83M171.3 245.75h.83M110.8 246.25h.83M116.8 246.25h.83M118.3 246.25h1.33M119.8 246.25h1.33M121.3 246.25h41.33M162.8 246.25h7.33M170.3 246.25h.83M171.3 246.25h.83M173.8 246.25h.83M114.8 246.75h.83M116.3 246.75h.83M117.3 246.75h1.33M118.8 246.75h1.83M121.8 246.75h47.33M170.3 246.75h.83M171.8 246.75h.83M175.3 246.75h1.33M108.8 247.25h.83M110.8 247.25h.83M113.8 247.25h.83M114.8 247.25h.83M115.8 247.25h.83M117.8 247.25h.83M118.8 247.25h1.83M120.8 247.25h1.33M122.3 247.25h1.33M123.8 247.25h36.33M160.3 247.25h1.83M162.3 247.25h2.83M165.8 247.25h1.33M167.3 247.25h1.33M170.3 247.25h1.33M175.3 247.25h.83M115.8 247.75h.83M116.8 247.75h1.33M118.3 247.75h47.83M166.3 247.75h.83M168.3 247.75h.83M169.8 247.75h.83M114.8 248.25h1.33M116.3 248.25h1.33M119.3 248.25h2.33M121.8 248.25h2.33M124.3 248.25h1.83M126.3 248.25h37.33M163.8 248.25h3.33M167.8 248.25h1.33M169.8 248.25h.83M171.3 248.25h.83M172.8 248.25h.83M175.8 248.25h.83M112.3 248.75h.83M117.8 248.75h.83M119.3 248.75h2.33M121.8 248.75h1.83M123.8 248.75h40.33M164.3 248.75h3.83M168.3 248.75h.83M169.8 248.75h.83M170.8 248.75h.83M171.8 248.75h.83M173.3 248.75h.83M175.8 248.75h.83M109.3 249.25h.83M116.8 249.25h1.33M119.3 249.25h1.33M121.3 249.25h4.83M126.3 249.25h36.33M162.8 249.25h2.83M165.8 249.25h2.83M169.3 249.25h1.33M170.8 249.25h.83M172.3 249.25h1.33M174.3 249.25h.83M180.3 249.25h.83M115.3 249.75h.83M119.8 249.75h.83M120.8 249.75h2.83M123.8 249.75h1.33M125.3 249.75h6.83M132.3 249.75h33.33M165.8 249.75h1.33M167.3 249.75h1.33M169.8 249.75h.83M170.8 249.75h3.33M113.8 250.25h.83M118.3 250.25h.83M119.8 250.25h.83M120.8 250.25h1.83M122.8 250.25h1.33M124.3 250.25h.83M125.3 250.25h40.83M166.3 250.25h1.83M168.3 250.25h1.83M170.8 250.25h1.33M172.3 250.25h.83M116.8 250.75h1.83M119.3 250.75h.83M121.3 250.75h1.33M122.8 250.75h2.33M125.3 250.75h33.33M158.8 250.75h5.33M164.3 250.75h2.33M166.8 250.75h2.33M171.3 250.75h.83M172.8 250.75h1.33M178.8 250.75h.83M113.8 251.25h.83M117.3 251.25h.83M118.8 251.25h1.33M121.3 251.25h3.83M125.3 251.25h39.33M164.8 251.25h2.33M167.8 251.25h.83M169.3 251.25h.83M175.8 251.25h.83M110.3 251.75h.83M111.8 251.75h.83M113.3 251.75h.83M114.8 251.75h.83M116.8 251.75h.83M118.3 251.75h.83M119.8 251.75h1.33M122.3 251.75h.83M123.3 251.75h11.83M135.3 251.75h29.33M164.8 251.75h1.33M166.3 251.75h.83M167.3 251.75h.83M168.8 251.75h1.83M171.8 251.75h.83M108.3 252.25h.83M117.3 252.25h1.33M121.8 252.25h2.83M125.3 252.25h34.83M160.3 252.25h3.83M164.3 252.25h.83M165.3 252.25h.83M166.3 252.25h.83M167.3 252.25h.83M168.8 252.25h1.83M170.8 252.25h1.83M118.3 252.75h.83M120.8 252.75h1.33M122.3 252.75h1.83M124.8 252.75h1.83M126.8 252.75h.83M127.8 252.75h1.83M129.8 252.75h7.33M137.3 252.75h15.83M153.3 252.75h1.33M154.8 252.75h6.83M161.8 252.75h1.33M163.3 252.75h2.33M166.8 252.75h1.83M169.8 252.75h.83M170.8 252.75h.83M110.3 253.25h.83M114.3 253.25h1.33M119.3 253.25h.83M120.3 253.25h.83M121.3 253.25h.83M123.3 253.25h.83M124.8 253.25h1.83M127.8 253.25h2.83M130.8 253.25h12.33M143.3 253.25h17.33M160.8 253.25h2.83M163.8 253.25h2.33M166.3 253.25h.83M167.8 253.25h.83M170.8 253.25h.83M173.3 253.25h1.33M118.8 253.75h.83M119.8 253.75h.83M121.8 253.75h.83M123.8 253.75h1.33M126.3 253.75h2.33M128.8 253.75h1.33M130.8 253.75h27.83M159.3 253.75h3.83M163.8 253.75h.83M164.8 253.75h1.83M166.8 253.75h1.33M169.3 253.75h.83M173.3 253.75h.83M119.8 254.25h1.33M121.3 254.25h1.33M122.8 254.25h.83M124.8 254.25h.83M126.3 254.25h.83M127.3 254.25h.83M128.3 254.25h1.33M129.8 254.25h2.33M132.3 254.25h2.33M134.8 254.25h4.83M139.8 254.25h8.83M148.8 254.25h4.33M153.3 254.25h3.83M157.3 254.25h4.83M162.8 254.25h.83M166.8 254.25h.83M169.3 254.25h1.33M172.3 254.25h.83M105.3 254.75h.83M112.8 254.75h.83M115.8 254.75h.83M118.3 254.75h.83M119.3 254.75h.83M120.3 254.75h.83M124.3 254.75h.83M125.8 254.75h2.33M129.3 254.75h2.33M132.3 254.75h.83M134.3 254.75h1.33M135.8 254.75h3.83M140.3 254.75h2.33M142.8 254.75h7.83M150.8 254.75h11.83M162.8 254.75h1.33M164.3 254.75h.83M165.3 254.75h.83M167.8 254.75h.83M171.3 254.75h.83M116.3 255.25h.83M117.3 255.25h1.33M121.8 255.25h1.33M125.8 255.25h.83M129.8 255.25h1.83M131.8 255.25h1.33M133.3 255.25h.83M134.3 255.25h2.83M137.3 255.25h.83M138.3 255.25h3.33M141.8 255.25h.83M142.8 255.25h2.33M145.3 255.25h6.33M151.8 255.25h3.83M155.8 255.25h1.33M157.8 255.25h1.83M160.3 255.25h.83M161.3 255.25h2.83M166.8 255.25h.83M171.3 255.25h.83M122.8 255.75h.83M125.3 255.75h.83M126.3 255.75h.83M127.3 255.75h1.83M131.3 255.75h.83M132.8 255.75h.83M134.8 255.75h1.33M136.3 255.75h1.33M138.3 255.75h3.33M141.8 255.75h1.33M144.3 255.75h1.33M145.8 255.75h1.83M147.8 255.75h1.33M149.3 255.75h1.83M152.8 255.75h1.33M154.8 255.75h1.33M156.8 255.75h.83M158.8 255.75h2.83M162.8 255.75h.83M164.8 255.75h2.33M171.3 255.75h.83M175.8 255.75h.83M109.8 256.25h.83M119.8 256.25h1.33M125.3 256.25h1.33M126.8 256.25h.83M131.3 256.25h.83M132.8 256.25h.83M134.3 256.25h1.33M136.8 256.25h3.33M140.3 256.25h.83M141.8 256.25h2.33M144.3 256.25h.83M145.3 256.25h.83M146.8 256.25h1.33M148.3 256.25h2.33M150.8 256.25h.83M151.8 256.25h.83M152.8 256.25h.83M154.3 256.25h.83M155.8 256.25h1.33M157.8 256.25h1.33M159.8 256.25h1.33M162.3 256.25h.83M163.8 256.25h1.33M171.3 256.25h.83M126.3 256.75h.83M128.8 256.75h1.33M131.3 256.75h.83M132.3 256.75h.83M135.3 256.75h1.33M137.3 256.75h.83M139.3 256.75h1.33M140.8 256.75h.83M143.3 256.75h1.83M146.8 256.75h.83M147.8 256.75h.83M149.3 256.75h.83M153.3 256.75h3.33M156.8 256.75h2.83M160.3 256.75h1.33M161.8 256.75h1.33M163.3 256.75h2.33M169.3 256.75h.83M125.3 257.25h.83M131.3 257.25h.83M135.8 257.25h.83M136.8 257.25h.83M138.3 257.25h.83M139.3 257.25h.83M140.3 257.25h.83M142.8 257.25h.83M145.3 257.25h.83M146.8 257.25h1.83M150.8 257.25h.83M153.3 257.25h.83M154.3 257.25h.83M156.3 257.25h.83M157.3 257.25h.83M158.8 257.25h.83M160.3 257.25h.83M162.3 257.25h1.33M166.3 257.25h.83M170.3 257.25h.83M128.3 257.75h1.33M129.8 257.75h.83M130.8 257.75h.83M133.3 257.75h.83M134.3 257.75h.83M141.3 257.75h.83M144.8 257.75h1.33M147.8 257.75h.83M148.8 257.75h1.33M152.3 257.75h1.33M154.8 257.75h.83M156.8 257.75h1.33M160.3 257.75h.83M161.3 257.75h.83M165.3 257.75h.83M114.3 258.25h.83M125.3 258.25h.83M126.3 258.25h.83M128.3 258.25h.83M133.8 258.25h1.33M137.3 258.25h.83M139.3 258.25h.83M140.8 258.25h.83M144.3 258.25h.83M146.3 258.25h1.33M147.8 258.25h.83M151.8 258.25h.83M156.8 258.25h1.33M158.3 258.25h1.33M166.8 258.25h.83M173.8 258.25h.83M112.3 258.75h.83M116.3 258.75h.83M132.3 258.75h.83M138.3 258.75h.83M142.3 258.75h.83M143.8 258.75h.83M149.3 258.75h.83M154.3 258.75h.83M157.3 258.75h.83M163.3 258.75h.83M118.3 259.25h1.33M129.8 259.25h.83M133.3 259.25h1.33M139.3 259.25h.83M141.3 259.25h.83M144.3 259.25h.83M145.3 259.25h.83M148.8 259.25h.83M153.8 259.25h.83M164.3 259.25h.83M167.8 259.25h.83M135.3 259.75h.83M139.3 259.75h.83M142.8 259.75h.83M143.8 259.75h.83M148.3 259.75h.83M152.3 259.75h.83M155.3 259.75h1.33M156.8 259.75h.83M158.3 259.75h1.33M160.8 259.75h.83M162.8 259.75h.83M167.3 259.75h.83M124.3 260.25h.83M131.8 260.25h.83M138.3 260.25h.83M148.8 260.25h1.33M158.3 260.25h.83M162.3 260.25h.83M151.8 260.75h.83"/>
<rect class="f" x="65.30" y="152.00" width="119.00" height="110.20"/>
<path class="g" d="M91.90 152.00V262.20M65.30 226.90H184.30"/>
<path class="k" d="M69.80 262.20v3.0M74.29 262.20v3.0M78.78 262.20v3.0M83.28 262.20v3.0M87.78 262.20v5.0M92.27 262.20v3.0M96.77 262.20v3.0M101.26 262.20v3.0M105.75 262.20v3.0M110.25 262.20v5.0M114.75 262.20v3.0M119.24 262.20v3.0M123.73 262.20v3.0M128.23 262.20v3.0M132.72 262.20v5.0M137.22 262.20v3.0M141.72 262.20v3.0M146.21 262.20v3.0M150.70 262.20v3.0M155.20 262.20v5.0M159.69 262.20v3.0M164.19 262.20v3.0M168.69 262.20v3.0M173.18 262.20v3.0M177.68 262.20v5.0M182.17 262.20v3.0M65.30 261.18h-2.4M65.30 257.74h-2.4M65.30 255.08h-2.4M65.30 252.90h-2.4M65.30 251.06h-2.4M65.30 249.47h-2.4M65.30 248.06h-2.4M65.30 246.80h-3.7M65.30 238.52h-2.4M65.30 233.68h-2.4M65.30 230.24h-2.4M65.30 227.58h-2.4M65.30 225.40h-2.4M65.30 223.56h-2.4M65.30 221.97h-2.4M65.30 220.56h-2.4M65.30 219.30h-3.7M65.30 211.02h-2.4M65.30 206.18h-2.4M65.30 202.74h-2.4M65.30 200.08h-2.4M65.30 197.90h-2.4M65.30 196.06h-2.4M65.30 194.47h-2.4M65.30 193.06h-2.4M65.30 191.80h-3.7M65.30 183.52h-2.4M65.30 178.68h-2.4M65.30 175.24h-2.4M65.30 172.58h-2.4M65.30 170.40h-2.4M65.30 168.56h-2.4M65.30 166.97h-2.4M65.30 165.56h-2.4M65.30 164.30h-3.7M65.30 156.02h-2.4"/>
<text class="n" x="87.38" y="273.80">50</text>
<text class="n" x="109.85" y="273.80">100</text>
<text class="n" x="132.32" y="273.80">150</text>
<text class="n" x="154.80" y="273.80">200</text>
<text class="n" x="177.28" y="273.80">250</text>
<text class="a" x="124.20" y="282.60">FSC-H</text>
<text class="m" x="184.20" y="281.40">(x 1,000)</text>
<text class="y" transform="translate(59.70 250.40) rotate(-90)">10<tspan class="s" dx=".2" dy="-3.7">2</tspan></text>
<text class="y" transform="translate(59.70 222.90) rotate(-90)">10<tspan class="s" dx=".2" dy="-3.7">3</tspan></text>
<text class="y" transform="translate(59.70 195.40) rotate(-90)">10<tspan class="s" dx=".2" dy="-3.7">4</tspan></text>
<text class="y" transform="translate(59.70 167.90) rotate(-90)">10<tspan class="s" dx=".2" dy="-3.7">5</tspan></text>
<text class="a" transform="translate(49.60 207.10) rotate(-90)">GFP-A</text>
<text class="t" transform="translate(156.70 164.90) scale(1 1.14)">LTR</text>
</g>
<g>
<path class="d" d="M293 173.75h.83M300 174.75h.83M301 175.25h.83M298.5 176.25h.83M288 178.75h.83M294 179.25h.83M298.5 179.75h.83M305 179.75h.83M292.5 180.25h.83M303.5 181.25h.83M300 181.75h.83M287 182.25h.83M289 182.25h.83M291 182.75h.83M306 182.75h.83M306 183.25h.83M317.5 183.25h.83M297 183.75h.83M302.5 183.75h.83M306.5 183.75h.83M285.5 184.25h.83M305 184.25h.83M311 184.25h.83M293.5 184.75h.83M310.5 184.75h.83M293 185.25h.83M310.5 185.25h.83M293 185.75h.83M294 185.75h1.33M300 185.75h.83M310.5 185.75h.83M286 186.25h.83M290 186.25h.83M292.5 186.25h.83M299 186.25h.83M308 186.25h.83M315.5 186.25h1.33M320.5 186.25h.83M294 186.75h.83M296.5 186.75h.83M303.5 186.75h1.33M315 186.75h.83M316.5 186.75h.83M298.5 187.25h.83M316.5 187.25h.83M289 187.75h.83M294.5 187.75h.83M295.5 187.75h.83M302.5 187.75h.83M307 187.75h.83M312 187.75h.83M315 187.75h.83M282 188.25h.83M310 188.25h.83M321 188.25h.83M291.5 188.75h.83M300 188.75h.83M303.5 188.75h.83M305.5 188.75h.83M310.5 188.75h.83M313 188.75h.83M326 188.75h.83M285 189.25h.83M291.5 189.25h.83M299 189.25h.83M302.5 189.25h.83M304 189.25h.83M305 189.25h.83M307 189.25h.83M308 189.25h.83M289 189.75h.83M295.5 189.75h.83M305 189.75h.83M315.5 189.75h.83M284 190.25h.83M285.5 190.25h.83M295 190.25h.83M297.5 190.25h.83M304 190.25h.83M309 190.25h.83M313.5 190.25h1.33M315 190.25h.83M316 190.25h.83M291 190.75h1.33M292.5 190.75h.83M295 190.75h1.33M299 190.75h1.33M302 190.75h1.33M304 190.75h.83M305 190.75h.83M283.5 191.25h.83M288 191.25h.83M295.5 191.25h.83M299 191.25h.83M300 191.25h.83M302.5 191.25h.83M305 191.25h.83M308 191.25h.83M309.5 191.25h1.33M284 191.75h.83M293.5 191.75h.83M295.5 191.75h.83M298 191.75h.83M301 191.75h1.33M304 191.75h.83M306 191.75h1.33M279 192.25h.83M287 192.25h.83M289.5 192.25h1.33M297.5 192.25h.83M300.5 192.25h.83M302.5 192.25h1.83M304.5 192.25h.83M306 192.25h.83M307 192.25h.83M308.5 192.25h.83M313.5 192.25h.83M316 192.25h.83M327.5 192.25h.83M281.5 192.75h.83M283 192.75h.83M284.5 192.75h.83M288 192.75h.83M289 192.75h.83M294.5 192.75h.83M295.5 192.75h.83M298 192.75h.83M300.5 192.75h.83M301.5 192.75h.83M304.5 192.75h.83M305.5 192.75h.83M313.5 192.75h.83M290.5 193.25h.83M291.5 193.25h2.33M298 193.25h.83M301 193.25h.83M307 193.25h.83M314.5 193.25h.83M284 193.75h.83M298 193.75h.83M299 193.75h1.33M302 193.75h.83M304.5 193.75h1.33M307.5 193.75h.83M308.5 193.75h.83M316 193.75h.83M317.5 193.75h.83M319 193.75h.83M292 194.25h.83M295 194.25h.83M296.5 194.25h1.33M299 194.25h1.33M305 194.25h.83M307.5 194.25h1.33M313 194.25h.83M316 194.25h.83M321.5 194.25h.83M322.5 194.25h.83M327 194.25h.83M328.5 194.25h.83M280.5 194.75h.83M284.5 194.75h.83M286 194.75h.83M288.5 194.75h.83M293.5 194.75h.83M295.5 194.75h.83M297 194.75h.83M299.5 194.75h1.33M302.5 194.75h.83M303.5 194.75h.83M304.5 194.75h.83M306.5 194.75h.83M308.5 194.75h.83M314 194.75h.83M315 194.75h.83M323.5 194.75h.83M285 195.25h.83M287.5 195.25h1.33M292.5 195.25h1.33M295.5 195.25h.83M296.5 195.25h.83M299 195.25h.83M302.5 195.25h.83M304 195.25h1.33M305.5 195.25h.83M307 195.25h1.33M312 195.25h.83M313 195.25h.83M314 195.25h.83M325.5 195.25h.83M279 195.75h.83M281.5 195.75h.83M282.5 195.75h.83M285.5 195.75h.83M290 195.75h.83M292 195.75h.83M293 195.75h.83M296 195.75h.83M300 195.75h.83M301.5 195.75h.83M302.5 195.75h1.33M305.5 195.75h.83M308 195.75h.83M309.5 195.75h1.33M314.5 195.75h1.33M316 195.75h.83M285 196.25h.83M289.5 196.25h.83M293 196.25h1.83M296 196.25h.83M298.5 196.25h1.83M303.5 196.25h.83M307.5 196.25h1.83M311.5 196.25h.83M274 196.75h.83M282 196.75h.83M291 196.75h.83M292 196.75h1.33M293.5 196.75h1.33M298 196.75h2.33M301 196.75h.83M303 196.75h.83M304 196.75h.83M305.5 196.75h1.33M307.5 196.75h.83M312.5 196.75h.83M317.5 196.75h.83M282.5 197.25h1.83M290.5 197.25h.83M295.5 197.25h.83M296.5 197.25h.83M297.5 197.25h.83M299 197.25h.83M300 197.25h.83M302.5 197.25h.83M306 197.25h.83M307 197.25h1.83M309 197.25h.83M312 197.25h.83M314 197.25h.83M315.5 197.25h.83M316.5 197.25h.83M318 197.25h.83M321 197.25h.83M280.5 197.75h.83M286.5 197.75h.83M287.5 197.75h.83M288.5 197.75h.83M293.5 197.75h1.83M295.5 197.75h1.33M297 197.75h.83M300 197.75h.83M301 197.75h.83M302 197.75h.83M303 197.75h1.83M308.5 197.75h1.83M310.5 197.75h.83M311.5 197.75h1.33M313.5 197.75h.83M317.5 197.75h.83M283.5 198.25h.83M285 198.25h.83M287 198.25h.83M288.5 198.25h.83M289.5 198.25h.83M293 198.25h1.83M295.5 198.25h.83M297 198.25h.83M298.5 198.25h.83M299.5 198.25h2.83M302.5 198.25h.83M304.5 198.25h2.33M307 198.25h.83M308.5 198.25h.83M310 198.25h1.33M316 198.25h.83M320 198.25h.83M331 198.25h.83M286.5 198.75h.83M289.5 198.75h.83M290.5 198.75h.83M292 198.75h.83M295 198.75h1.83M297 198.75h.83M298.5 198.75h.83M300 198.75h.83M301 198.75h1.83M304 198.75h.83M305.5 198.75h1.83M307.5 198.75h.83M310 198.75h.83M312.5 198.75h.83M314 198.75h1.33M320 198.75h.83M276.5 199.25h.83M277.5 199.25h.83M282.5 199.25h.83M287.5 199.25h.83M289.5 199.25h.83M290.5 199.25h.83M292.5 199.25h.83M295.5 199.25h1.33M299.5 199.25h.83M305 199.25h1.83M309.5 199.25h.83M310.5 199.25h.83M311.5 199.25h.83M312.5 199.25h.83M314 199.25h1.33M316 199.25h.83M324 199.25h.83M278 199.75h.83M284 199.75h.83M287.5 199.75h.83M288.5 199.75h.83M291 199.75h.83M292.5 199.75h.83M293.5 199.75h.83M294.5 199.75h.83M295.5 199.75h.83M300 199.75h1.33M303 199.75h.83M304.5 199.75h.83M305.5 199.75h1.83M308 199.75h.83M309 199.75h.83M310.5 199.75h.83M311.5 199.75h.83M314.5 199.75h.83M318 199.75h.83M322.5 199.75h.83M323.5 199.75h.83M286 200.25h.83M287.5 200.25h.83M288.5 200.25h.83M291.5 200.25h1.33M296.5 200.25h.83M297.5 200.25h1.33M300.5 200.25h.83M301.5 200.25h.83M304.5 200.25h2.33M308.5 200.25h.83M310 200.25h1.33M311.5 200.25h.83M312.5 200.25h1.33M314.5 200.25h1.33M320.5 200.25h.83M287.5 200.75h.83M289 200.75h.83M290 200.75h.83M291.5 200.75h.83M292.5 200.75h.83M293.5 200.75h1.33M296 200.75h.83M297.5 200.75h.83M299.5 200.75h.83M300.5 200.75h1.33M302.5 200.75h1.33M304 200.75h.83M306.5 200.75h1.83M309.5 200.75h.83M312 200.75h.83M313 200.75h.83M315.5 200.75h.83M321.5 200.75h1.33M280.5 201.25h.83M283.5 201.25h.83M286 201.25h.83M287 201.25h.83M290.5 201.25h.83M291.5 201.25h.83M293 201.25h1.33M296 201.25h1.33M297.5 201.25h.83M298.5 201.25h.83M303.5 201.25h1.33M306 201.25h.83M307 201.25h1.33M309.5 201.25h.83M313.5 201.25h1.33M320.5 201.25h.83M288.5 201.75h.83M292.5 201.75h.83M294.5 201.75h1.33M296 201.75h.83M299 201.75h2.33M302.5 201.75h1.33M305.5 201.75h.83M308 201.75h.83M309.5 201.75h.83M312 201.75h.83M313 201.75h.83M316 201.75h.83M323.5 201.75h.83M283.5 202.25h1.33M288 202.25h.83M289 202.25h.83M290 202.25h.83M291 202.25h1.33M295 202.25h.83M297.5 202.25h.83M298.5 202.25h.83M301.5 202.25h1.33M303 202.25h1.33M304.5 202.25h1.83M307.5 202.25h.83M308.5 202.25h.83M310.5 202.25h.83M313.5 202.25h.83M316 202.25h.83M321 202.25h.83M273 202.75h.83M279.5 202.75h.83M286.5 202.75h.83M287.5 202.75h.83M290.5 202.75h1.33M293 202.75h.83M294 202.75h.83M295 202.75h.83M297 202.75h1.33M298.5 202.75h2.83M305.5 202.75h.83M306.5 202.75h1.83M310 202.75h2.33M313 202.75h.83M321 202.75h.83M282 203.25h1.33M290 203.25h2.33M294 203.25h.83M295.5 203.25h.83M297 203.25h.83M298.5 203.25h.83M301 203.25h2.33M303.5 203.25h1.83M306.5 203.25h1.33M308 203.25h.83M309 203.25h1.83M311 203.25h.83M312.5 203.25h1.33M317.5 203.25h.83M280.5 203.75h.83M283.5 203.75h.83M285 203.75h.83M286 203.75h.83M287.5 203.75h1.33M289.5 203.75h.83M292 203.75h.83M295 203.75h.83M296.5 203.75h1.33M298 203.75h2.33M300.5 203.75h1.33M302 203.75h3.33M306 203.75h.83M307 203.75h.83M310 203.75h.83M315 203.75h.83M317.5 203.75h.83M319 203.75h.83M271 204.25h.83M281 204.25h.83M282.5 204.25h.83M290 204.25h2.83M294 204.25h1.33M298 204.25h.83M299.5 204.25h1.83M301.5 204.25h1.83M305 204.25h1.83M307.5 204.25h.83M313 204.25h.83M317 204.25h.83M318 204.25h.83M281.5 204.75h.83M284 204.75h1.33M286.5 204.75h.83M289 204.75h1.33M290.5 204.75h.83M292 204.75h2.33M295 204.75h2.83M298 204.75h.83M299 204.75h1.33M300.5 204.75h.83M301.5 204.75h2.33M306 204.75h.83M307.5 204.75h3.83M313.5 204.75h.83M315.5 204.75h1.33M320 204.75h.83M323.5 204.75h.83M272 205.25h.83M280.5 205.25h.83M283.5 205.25h.83M284.5 205.25h.83M288 205.25h.83M292.5 205.25h.83M293.5 205.25h.83M294.5 205.25h.83M295.5 205.25h2.33M298 205.25h.83M299.5 205.25h.83M300.5 205.25h1.33M302 205.25h.83M304.5 205.25h2.33M307.5 205.25h1.33M309 205.25h.83M310.5 205.25h.83M313 205.25h.83M314 205.25h.83M315.5 205.25h1.33M318 205.25h.83M327 205.25h.83M272 205.75h.83M277.5 205.75h.83M279 205.75h.83M280.5 205.75h1.33M283 205.75h.83M284.5 205.75h1.33M286 205.75h1.33M289 205.75h.83M290.5 205.75h1.33M293 205.75h.83M294 205.75h.83M295 205.75h.83M296.5 205.75h1.33M298 205.75h1.33M301.5 205.75h1.33M304.5 205.75h.83M305.5 205.75h1.33M307.5 205.75h1.33M309 205.75h.83M314 205.75h.83M317.5 205.75h.83M318.5 205.75h.83M321 205.75h.83M273 206.25h.83M279.5 206.25h.83M280.5 206.25h.83M283 206.25h.83M289 206.25h2.33M292 206.25h4.33M296.5 206.25h.83M299.5 206.25h1.33M301 206.25h.83M302 206.25h.83M303 206.25h1.33M304.5 206.25h.83M305.5 206.25h1.83M309.5 206.25h1.33M314.5 206.25h.83M320 206.25h.83M279.5 206.75h.83M286 206.75h.83M287 206.75h.83M291 206.75h.83M292.5 206.75h.83M296 206.75h1.83M298.5 206.75h.83M299.5 206.75h1.83M301.5 206.75h.83M302.5 206.75h.83M306.5 206.75h1.33M311 206.75h.83M312 206.75h1.33M318.5 206.75h.83M319.5 206.75h.83M274.5 207.25h.83M281.5 207.25h.83M282.5 207.25h.83M285.5 207.25h.83M287.5 207.25h.83M288.5 207.25h.83M289.5 207.25h1.33M292.5 207.25h.83M294.5 207.25h.83M295.5 207.25h1.83M299.5 207.25h1.33M301.5 207.25h1.83M303.5 207.25h.83M305 207.25h.83M306.5 207.25h1.33M308 207.25h1.33M310 207.25h1.33M313 207.25h1.33M315.5 207.25h1.33M272 207.75h.83M283 207.75h1.33M286.5 207.75h.83M288 207.75h.83M292 207.75h.83M294.5 207.75h.83M296.5 207.75h.83M297.5 207.75h3.83M301.5 207.75h.83M303.5 207.75h1.33M306 207.75h1.83M310.5 207.75h.83M312.5 207.75h.83M313.5 207.75h1.33M315.5 207.75h1.33M317.5 207.75h.83M319.5 207.75h.83M281 208.25h.83M282 208.25h.83M286.5 208.25h.83M290 208.25h.83M292 208.25h.83M293.5 208.25h.83M294.5 208.25h.83M296 208.25h.83M297 208.25h.83M298.5 208.25h.83M299.5 208.25h1.33M301.5 208.25h1.83M303.5 208.25h2.83M306.5 208.25h.83M308 208.25h.83M310 208.25h.83M313.5 208.25h.83M315 208.25h.83M278.5 208.75h.83M282 208.75h.83M284.5 208.75h.83M286 208.75h.83M288.5 208.75h.83M289.5 208.75h.83M290.5 208.75h.83M291.5 208.75h.83M292.5 208.75h1.83M294.5 208.75h.83M295.5 208.75h.83M296.5 208.75h.83M297.5 208.75h.83M298.5 208.75h.83M299.5 208.75h.83M301 208.75h.83M302 208.75h1.33M303.5 208.75h2.33M306 208.75h1.33M307.5 208.75h.83M308.5 208.75h.83M310 208.75h.83M311 208.75h.83M314 208.75h.83M315 208.75h.83M316.5 208.75h.83M319 208.75h.83M323 208.75h.83M324.5 208.75h.83M276 209.25h.83M277.5 209.25h.83M280.5 209.25h.83M285 209.25h.83M286.5 209.25h.83M287.5 209.25h.83M290.5 209.25h1.83M292.5 209.25h1.33M296.5 209.25h.83M297.5 209.25h.83M301.5 209.25h1.83M303.5 209.25h1.33M306.5 209.25h.83M308.5 209.25h.83M310 209.25h.83M312 209.25h1.83M314 209.25h.83M316 209.25h.83M318 209.25h.83M326.5 209.25h.83M265.5 209.75h.83M272 209.75h.83M275.5 209.75h.83M280 209.75h.83M282 209.75h.83M283.5 209.75h.83M285.5 209.75h.83M290.5 209.75h.83M292 209.75h.83M296 209.75h1.33M298.5 209.75h.83M299.5 209.75h1.33M301.5 209.75h1.33M308 209.75h.83M310.5 209.75h1.83M314 209.75h.83M315.5 209.75h.83M276.5 210.25h.83M279.5 210.25h.83M286.5 210.25h.83M288.5 210.25h.83M289.5 210.25h.83M290.5 210.25h.83M291.5 210.25h.83M292.5 210.25h.83M294.5 210.25h.83M295.5 210.25h.83M296.5 210.25h.83M297.5 210.25h.83M299.5 210.25h2.33M302.5 210.25h1.33M304 210.25h1.33M305.5 210.25h2.83M309 210.25h.83M310.5 210.25h1.33M312 210.25h1.33M315 210.25h.83M317.5 210.25h.83M282 210.75h.83M287 210.75h2.33M289.5 210.75h.83M292.5 210.75h1.33M294 210.75h.83M295.5 210.75h.83M296.5 210.75h.83M298 210.75h2.83M302 210.75h.83M303 210.75h.83M304 210.75h.83M307 210.75h1.83M310 210.75h1.33M311.5 210.75h.83M312.5 210.75h1.33M287 211.25h.83M289.5 211.25h.83M291.5 211.25h.83M292.5 211.25h1.33M294 211.25h.83M295 211.25h.83M296 211.25h.83M297.5 211.25h3.33M301.5 211.25h1.33M304.5 211.25h.83M310 211.25h.83M313 211.25h.83M316 211.25h.83M321 211.25h.83M283 211.75h.83M285 211.75h1.83M288 211.75h.83M289 211.75h1.33M291 211.75h.83M292.5 211.75h2.83M295.5 211.75h.83M297.5 211.75h1.83M300 211.75h2.33M303.5 211.75h.83M308.5 211.75h.83M310 211.75h.83M311 211.75h.83M312 211.75h.83M313.5 211.75h1.33M315.5 211.75h.83M320 211.75h.83M283.5 212.25h.83M284.5 212.25h.83M285.5 212.25h1.33M289 212.25h.83M290.5 212.25h.83M295 212.25h.83M296 212.25h.83M299 212.25h.83M300 212.25h1.83M303 212.25h.83M304 212.25h3.33M308.5 212.25h1.33M314.5 212.25h.83M316.5 212.25h.83M318.5 212.25h.83M326.5 212.25h.83M329.5 212.25h.83M286 212.75h.83M287.5 212.75h.83M288.5 212.75h.83M289.5 212.75h.83M290.5 212.75h1.33M292.5 212.75h.83M293.5 212.75h1.33M295.5 212.75h.83M296.5 212.75h1.33M298 212.75h2.83M302 212.75h1.83M304 212.75h1.83M306.5 212.75h.83M308.5 212.75h.83M311.5 212.75h.83M312.5 212.75h.83M316.5 212.75h.83M288 213.25h.83M289 213.25h1.33M290.5 213.25h.83M291.5 213.25h1.83M297 213.25h.83M299 213.25h1.83M301.5 213.25h.83M303 213.25h.83M304 213.25h1.83M310.5 213.25h.83M312 213.25h.83M313 213.25h1.33M316 213.25h.83M279 213.75h.83M283 213.75h.83M286 213.75h.83M290.5 213.75h1.33M293.5 213.75h.83M294.5 213.75h1.33M296.5 213.75h1.33M298.5 213.75h1.33M300 213.75h.83M301 213.75h.83M303 213.75h1.33M304.5 213.75h.83M308 213.75h.83M309.5 213.75h.83M310.5 213.75h.83M312 213.75h.83M313 213.75h.83M319.5 213.75h1.33M323.5 213.75h.83M287.5 214.25h.83M289 214.25h.83M290 214.25h.83M291 214.25h.83M292 214.25h.83M293.5 214.25h.83M294.5 214.25h.83M295.5 214.25h.83M296.5 214.25h.83M298 214.25h1.33M300.5 214.25h.83M301.5 214.25h1.33M303 214.25h.83M307.5 214.25h1.33M314 214.25h.83M276.5 214.75h.83M285 214.75h.83M287 214.75h.83M288.5 214.75h1.33M291.5 214.75h1.33M293.5 214.75h.83M294.5 214.75h.83M296.5 214.75h.83M298 214.75h.83M299 214.75h.83M301 214.75h1.33M303.5 214.75h.83M306.5 214.75h1.83M310 214.75h.83M312.5 214.75h.83M318.5 214.75h.83M273 215.25h.83M281 215.25h1.33M284 215.25h.83M286 215.25h.83M290 215.25h1.33M294 215.25h.83M295 215.25h1.33M296.5 215.25h.83M297.5 215.25h.83M299 215.25h3.33M303 215.25h.83M305 215.25h.83M306.5 215.25h.83M311.5 215.25h1.33M314.5 215.25h.83M286 215.75h1.33M289.5 215.75h.83M291 215.75h.83M292.5 215.75h.83M294 215.75h.83M295 215.75h.83M296.5 215.75h.83M297.5 215.75h1.33M299 215.75h.83M304 215.75h.83M305 215.75h.83M306 215.75h.83M309 215.75h1.33M310.5 215.75h.83M312.5 215.75h.83M314.5 215.75h1.33M319 215.75h.83M278.5 216.25h.83M281.5 216.25h.83M285 216.25h.83M286.5 216.25h1.33M289 216.25h.83M290 216.25h.83M291 216.25h1.83M293 216.25h.83M294 216.25h1.33M297 216.25h.83M299.5 216.25h.83M302.5 216.25h2.33M305 216.25h.83M307.5 216.25h.83M308.5 216.25h1.33M310 216.25h.83M311 216.25h.83M314.5 216.25h1.33M316.5 216.25h.83M319 216.25h.83M286 216.75h.83M287 216.75h1.33M289.5 216.75h.83M293 216.75h1.33M295.5 216.75h1.33M298.5 216.75h.83M299.5 216.75h.83M300.5 216.75h1.33M302 216.75h.83M303 216.75h.83M304.5 216.75h.83M307 216.75h.83M308 216.75h.83M310 216.75h1.33M313 216.75h.83M321 216.75h.83M282.5 217.25h.83M288.5 217.25h.83M290.5 217.25h.83M292 217.25h1.83M294 217.25h.83M295 217.25h.83M296 217.25h.83M299 217.25h.83M302.5 217.25h.83M303.5 217.25h.83M305 217.25h.83M307 217.25h.83M308 217.25h1.33M311.5 217.25h.83M316.5 217.25h.83M321 217.25h.83M275 217.75h.83M276 217.75h.83M278.5 217.75h.83M286.5 217.75h.83M289.5 217.75h1.33M291.5 217.75h.83M293 217.75h.83M295 217.75h.83M296 217.75h1.33M299.5 217.75h.83M300.5 217.75h.83M302 217.75h.83M303 217.75h.83M304 217.75h2.33M307 217.75h1.33M309 217.75h.83M313 217.75h.83M277.5 218.25h.83M289.5 218.25h.83M290.5 218.25h.83M292.5 218.25h1.33M295.5 218.25h1.83M300 218.25h1.33M302.5 218.25h1.33M308.5 218.25h1.33M312.5 218.25h.83M313.5 218.25h.83M317 218.25h.83M270.5 218.75h.83M275 218.75h.83M283.5 218.75h.83M287 218.75h.83M289 218.75h1.33M292 218.75h1.83M298.5 218.75h1.33M300.5 218.75h.83M302 218.75h.83M303.5 218.75h.83M306 218.75h.83M310 218.75h1.33M280.5 219.25h.83M284 219.25h.83M287 219.25h.83M292 219.25h1.33M294 219.25h.83M295 219.25h1.83M298 219.25h1.33M300 219.25h.83M304 219.25h.83M307.5 219.25h1.33M309.5 219.25h.83M311 219.25h1.33M314 219.25h.83M281 219.75h.83M287 219.75h.83M290.5 219.75h.83M292 219.75h1.33M294.5 219.75h.83M296.5 219.75h.83M297.5 219.75h.83M300 219.75h.83M301 219.75h.83M302 219.75h.83M305 219.75h1.83M307.5 219.75h.83M320 219.75h.83M282 220.25h.83M284 220.25h1.33M286.5 220.25h.83M291 220.25h.83M292 220.25h.83M293.5 220.25h2.33M298 220.25h.83M299 220.25h.83M300 220.25h1.33M303.5 220.25h.83M304.5 220.25h1.33M306 220.25h1.33M309 220.25h1.33M311.5 220.25h.83M312.5 220.25h.83M315 220.25h.83M316 220.25h.83M319.5 220.25h.83M279 220.75h.83M293.5 220.75h1.83M301.5 220.75h.83M303 220.75h2.33M309.5 220.75h.83M313.5 220.75h.83M315.5 220.75h.83M281 221.25h.83M287.5 221.25h.83M288.5 221.25h.83M291 221.25h.83M293.5 221.25h1.33M295 221.25h1.33M296.5 221.25h.83M299 221.25h.83M301.5 221.25h.83M303 221.25h.83M307.5 221.25h.83M312 221.25h.83M314 221.25h.83M317.5 221.25h.83M318.5 221.25h.83M281.5 221.75h1.33M284.5 221.75h.83M288.5 221.75h.83M290.5 221.75h.83M293.5 221.75h1.33M295.5 221.75h.83M296.5 221.75h.83M297.5 221.75h.83M299.5 221.75h.83M304 221.75h.83M306 221.75h.83M307.5 221.75h1.33M309.5 221.75h.83M317 221.75h.83M287.5 222.25h1.83M289.5 222.25h1.33M293.5 222.25h.83M295 222.25h.83M297.5 222.25h1.33M302.5 222.25h.83M309.5 222.25h.83M314.5 222.25h.83M316.5 222.25h.83M321 222.25h.83M272.5 222.75h.83M274 222.75h.83M279 222.75h.83M289.5 222.75h.83M290.5 222.75h1.33M292 222.75h.83M297 222.75h1.83M300 222.75h.83M301 222.75h1.83M303.5 222.75h.83M306 222.75h1.83M310 222.75h1.33M312 222.75h.83M315.5 222.75h1.33M273 223.25h.83M280.5 223.25h.83M286.5 223.25h.83M289 223.25h.83M291.5 223.25h.83M296.5 223.25h1.33M299 223.25h.83M304.5 223.25h.83M307 223.25h.83M309 223.25h.83M322.5 223.25h.83M284 223.75h.83M285 223.75h.83M289 223.75h.83M292.5 223.75h1.83M295.5 223.75h.83M297 223.75h.83M299 223.75h1.83M302.5 223.75h.83M304.5 223.75h1.83M308 223.75h.83M310 223.75h.83M316 223.75h.83M278.5 224.25h.83M281 224.25h.83M284 224.25h1.33M290 224.25h.83M292 224.25h1.33M296.5 224.25h.83M297.5 224.25h1.33M299.5 224.25h.83M302 224.25h.83M307 224.25h1.83M309.5 224.25h.83M286 224.75h.83M288 224.75h.83M290 224.75h.83M293 224.75h1.33M294.5 224.75h.83M296 224.75h1.33M299 224.75h1.33M309 224.75h.83M313 224.75h1.33M316 224.75h.83M318 224.75h.83M279 225.25h.83M282 225.25h.83M284.5 225.25h.83M289.5 225.25h.83M291.5 225.25h.83M303 225.25h1.83M320.5 225.25h.83M276 225.75h.83M289.5 225.75h.83M294 225.75h.83M295 225.75h1.33M298 225.75h.83M305 225.75h.83M306 225.75h.83M307 225.75h1.33M309 225.75h.83M310.5 225.75h.83M311.5 225.75h.83M316 225.75h.83M279.5 226.25h.83M283 226.25h.83M284.5 226.25h.83M286.5 226.25h.83M290 226.25h.83M292 226.25h.83M293.5 226.25h.83M298.5 226.25h.83M305.5 226.25h1.33M310.5 226.25h.83M317 226.25h.83M273.5 226.75h.83M277.5 226.75h.83M285 226.75h.83M286.5 226.75h.83M289 226.75h.83M290 226.75h2.83M295 226.75h1.33M297 226.75h.83M299 226.75h.83M307.5 226.75h1.83M309.5 226.75h.83M311 226.75h1.33M280 227.25h.83M284 227.25h.83M286.5 227.25h.83M291.5 227.25h.83M292.5 227.25h.83M296.5 227.25h.83M299.5 227.25h.83M301.5 227.25h1.33M307.5 227.25h1.33M310 227.25h.83M315.5 227.25h.83M318.5 227.25h.83M329 227.25h.83M282.5 227.75h1.33M290 227.75h.83M292 227.75h1.33M293.5 227.75h.83M294.5 227.75h1.33M297 227.75h1.33M298.5 227.75h.83M301.5 227.75h.83M304.5 227.75h.83M311 227.75h.83M314.5 227.75h.83M315.5 227.75h.83M317.5 227.75h.83M269 228.25h.83M284.5 228.25h1.33M286 228.25h.83M289 228.25h1.33M290.5 228.25h.83M296.5 228.25h.83M299.5 228.25h1.33M301.5 228.25h.83M306 228.25h.83M308.5 228.25h.83M284 228.75h.83M285 228.75h1.33M289 228.75h.83M291.5 228.75h.83M293 228.75h.83M294 228.75h.83M296 228.75h1.33M300 228.75h.83M307 228.75h.83M288 229.25h.83M289 229.25h1.33M292.5 229.25h.83M298 229.25h.83M299 229.25h.83M300 229.25h.83M302.5 229.25h2.33M305 229.25h.83M308.5 229.25h1.33M311.5 229.25h.83M315.5 229.25h.83M281.5 229.75h.83M283 229.75h.83M285 229.75h.83M287 229.75h.83M297 229.75h.83M307 229.75h1.33M308.5 229.75h.83M309.5 229.75h.83M312 229.75h.83M313.5 229.75h.83M315 229.75h.83M264.5 230.25h.83M278 230.25h.83M279 230.25h.83M285 230.25h.83M286.5 230.25h.83M294 230.25h1.33M298.5 230.25h.83M299.5 230.25h.83M302.5 230.25h.83M304.5 230.25h.83M305.5 230.25h.83M309 230.25h.83M312.5 230.25h.83M329.5 230.25h.83M271.5 230.75h.83M272.5 230.75h.83M281.5 230.75h.83M282.5 230.75h.83M290 230.75h.83M292.5 230.75h.83M296.5 230.75h1.33M299 230.75h.83M302 230.75h.83M306 230.75h.83M310.5 230.75h.83M311.5 230.75h.83M286.5 231.25h1.83M291 231.25h1.33M293.5 231.25h.83M294.5 231.25h1.33M296 231.25h.83M297.5 231.25h1.33M299.5 231.25h1.33M302.5 231.25h2.33M279.5 231.75h.83M281 231.75h.83M282 231.75h.83M284 231.75h.83M291 231.75h.83M294.5 231.75h.83M296 231.75h.83M297.5 231.75h.83M299 231.75h.83M302 231.75h.83M303.5 231.75h1.33M305.5 231.75h.83M312 231.75h.83M292 232.25h1.33M296 232.25h.83M298 232.25h.83M301 232.25h.83M302.5 232.25h.83M304 232.25h.83M311.5 232.25h.83M313 232.25h.83M320.5 232.25h.83M322.5 232.25h.83M280.5 232.75h.83M289.5 232.75h.83M291 232.75h2.33M295 232.75h1.33M296.5 232.75h.83M298 232.75h.83M299.5 232.75h1.33M304.5 232.75h1.33M307 232.75h1.33M308.5 232.75h.83M310.5 232.75h.83M312 232.75h.83M262 233.25h.83M275 233.25h.83M284 233.25h.83M286 233.25h.83M287 233.25h.83M290 233.25h.83M292 233.25h.83M294.5 233.25h.83M295.5 233.25h.83M299 233.25h.83M302.5 233.25h.83M303.5 233.25h.83M307.5 233.25h1.33M311 233.25h.83M280 233.75h1.33M288.5 233.75h.83M289.5 233.75h1.33M292 233.75h1.83M296 233.75h.83M300 233.75h.83M303 233.75h.83M308.5 233.75h.83M314.5 233.75h.83M322 233.75h.83M266.5 234.25h.83M285.5 234.25h1.33M288 234.25h2.33M291 234.25h1.33M293 234.25h1.33M297.5 234.25h1.33M299.5 234.25h1.83M302.5 234.25h.83M304.5 234.25h.83M309.5 234.25h.83M281 234.75h.83M283 234.75h.83M284.5 234.75h.83M286.5 234.75h.83M288 234.75h.83M289 234.75h1.83M293.5 234.75h.83M295 234.75h1.33M298 234.75h.83M300 234.75h.83M301 234.75h1.83M303.5 234.75h.83M305 234.75h.83M307 234.75h.83M308 234.75h.83M309.5 234.75h.83M310.5 234.75h.83M314 234.75h.83M324 234.75h.83M277.5 235.25h.83M282 235.25h.83M283.5 235.25h.83M286 235.25h.83M288 235.25h.83M291 235.25h.83M294 235.25h.83M296 235.25h.83M297 235.25h1.33M299.5 235.25h.83M301 235.25h1.33M304.5 235.25h1.33M306 235.25h1.33M307.5 235.25h.83M311 235.25h.83M317.5 235.25h.83M276.5 235.75h.83M279 235.75h.83M283 235.75h.83M284.5 235.75h.83M286.5 235.75h.83M288.5 235.75h1.33M291.5 235.75h.83M292.5 235.75h1.33M295 235.75h.83M296 235.75h1.33M297.5 235.75h1.33M299 235.75h.83M301.5 235.75h.83M302.5 235.75h.83M304 235.75h.83M305 235.75h1.83M308 235.75h.83M309 235.75h.83M310 235.75h.83M312 235.75h.83M315.5 235.75h.83M317 235.75h.83M266 236.25h.83M283 236.25h.83M285.5 236.25h.83M286.5 236.25h.83M288 236.25h.83M289 236.25h.83M291.5 236.25h.83M293.5 236.25h.83M296 236.25h.83M297 236.25h.83M298.5 236.25h1.33M300.5 236.25h1.33M303.5 236.25h.83M304.5 236.25h.83M305.5 236.25h1.33M307 236.25h.83M311.5 236.25h.83M312.5 236.25h.83M321 236.25h.83M274 236.75h.83M281 236.75h2.33M284.5 236.75h.83M286.5 236.75h.83M288 236.75h1.33M290 236.75h.83M291 236.75h7.33M298.5 236.75h3.33M302.5 236.75h.83M304.5 236.75h1.33M306.5 236.75h.83M313.5 236.75h.83M279 237.25h3.33M283.5 237.25h.83M284.5 237.25h1.33M286.5 237.25h1.83M288.5 237.25h.83M289.5 237.25h.83M291.5 237.25h1.33M293.5 237.25h1.33M295 237.25h1.33M297.5 237.25h3.33M302.5 237.25h1.83M305 237.25h.83M306 237.25h2.33M310.5 237.25h.83M313.5 237.25h.83M317.5 237.25h.83M322.5 237.25h.83M267.5 237.75h.83M274 237.75h.83M277 237.75h.83M279 237.75h.83M280.5 237.75h.83M281.5 237.75h6.83M288.5 237.75h.83M289.5 237.75h4.83M294.5 237.75h1.83M298 237.75h.83M299 237.75h.83M300 237.75h.83M301 237.75h2.33M303.5 237.75h1.83M305.5 237.75h.83M306.5 237.75h.83M307.5 237.75h.83M309 237.75h.83M311 237.75h1.33M312.5 237.75h.83M314 237.75h1.33M319 237.75h.83M320 237.75h1.33M266 238.25h.83M273.5 238.25h.83M276 238.25h.83M279 238.25h.83M281 238.25h.83M282 238.25h.83M283.5 238.25h5.33M289 238.25h8.83M299 238.25h1.83M301 238.25h.83M305 238.25h3.33M308.5 238.25h.83M311 238.25h2.33M313.5 238.25h.83M314.5 238.25h.83M273.5 238.75h.83M276.5 238.75h.83M277.5 238.75h1.33M281 238.75h4.83M286.5 238.75h6.83M293.5 238.75h7.83M301.5 238.75h.83M303 238.75h.83M304 238.75h1.33M306 238.75h1.83M308 238.75h.83M310 238.75h1.33M312.5 238.75h.83M314.5 238.75h.83M315.5 238.75h.83M319.5 238.75h.83M323.5 238.75h.83M271 239.25h.83M272 239.25h.83M273.5 239.25h.83M275.5 239.25h.83M277 239.25h1.83M279 239.25h.83M280.5 239.25h4.83M285.5 239.25h4.83M290.5 239.25h5.33M296.5 239.25h6.83M303.5 239.25h4.33M308.5 239.25h.83M309.5 239.25h.83M312.5 239.25h1.33M315 239.25h1.33M321.5 239.25h.83M324 239.25h.83M274.5 239.75h1.83M277 239.75h.83M278.5 239.75h.83M279.5 239.75h.83M280.5 239.75h2.33M283 239.75h19.83M303 239.75h1.33M305.5 239.75h.83M306.5 239.75h5.33M312.5 239.75h.83M313.5 239.75h.83M314.5 239.75h.83M316.5 239.75h.83M319.5 239.75h.83M265.5 240.25h.83M270.5 240.25h.83M271.5 240.25h.83M275.5 240.25h.83M278 240.25h1.33M279.5 240.25h25.83M305.5 240.25h.83M306.5 240.25h.83M310 240.25h2.33M313 240.25h2.83M316 240.25h.83M317 240.25h.83M318 240.25h.83M269.5 240.75h.83M271 240.75h.83M272 240.75h.83M274 240.75h.83M276 240.75h2.83M279.5 240.75h26.83M306.5 240.75h1.83M308.5 240.75h3.33M312 240.75h1.33M313.5 240.75h1.83M315.5 240.75h.83M316.5 240.75h.83M318 240.75h.83M319 240.75h.83M321 240.75h.83M269.5 241.25h.83M274.5 241.25h.83M276 241.25h1.33M277.5 241.25h1.33M279 241.25h29.83M309.5 241.25h2.83M312.5 241.25h.83M316 241.25h.83M326.5 241.25h.83M272 241.75h.83M276 241.75h26.33M302.5 241.75h9.83M312.5 241.75h.83M313.5 241.75h2.33M316 241.75h.83M317.5 241.75h1.83M320 241.75h.83M323 241.75h.83M324 241.75h.83M336 241.75h.83M271 242.25h.83M273 242.25h.83M274.5 242.25h.83M275.5 242.25h.83M276.5 242.25h2.83M279.5 242.25h31.83M311.5 242.25h1.33M314.5 242.25h1.33M317.5 242.25h.83M318.5 242.25h.83M270 242.75h.83M273.5 242.75h.83M275 242.75h36.33M312 242.75h1.33M313.5 242.75h2.33M316.5 242.75h1.83M319.5 242.75h.83M320.5 242.75h.83M269.5 243.25h.83M270.5 243.25h.83M275 243.25h1.83M277 243.25h1.83M279 243.25h.83M280 243.25h32.83M313 243.25h1.83M315 243.25h.83M316 243.25h1.33M317.5 243.25h1.83M321.5 243.25h.83M327.5 243.25h.83M273.5 243.75h1.33M275.5 243.75h.83M276.5 243.75h1.83M278.5 243.75h1.33M280 243.75h31.33M311.5 243.75h1.83M313.5 243.75h2.83M317 243.75h1.33M318.5 243.75h1.33M323.5 243.75h.83M268.5 244.25h.83M270 244.25h.83M274.5 244.25h2.83M277.5 244.25h35.83M313.5 244.25h3.33M317.5 244.25h.83M320 244.25h.83M321 244.25h.83M329 244.25h.83M269.5 244.75h.83M273.5 244.75h2.33M276.5 244.75h38.33M315 244.75h.83M316 244.75h1.33M317.5 244.75h2.83M325 244.75h.83M266 245.25h.83M272.5 245.25h.83M275 245.25h2.33M277.5 245.25h32.83M310.5 245.25h3.83M314.5 245.25h1.33M318 245.25h.83M319 245.25h1.33M321 245.25h.83M323.5 245.25h.83M325 245.25h.83M271.5 245.75h1.33M274 245.75h.83M275.5 245.75h1.33M277 245.75h1.33M278.5 245.75h34.83M313.5 245.75h2.83M316.5 245.75h.83M317.5 245.75h.83M319 245.75h1.33M321.5 245.75h.83M323.5 245.75h.83M325 245.75h.83M327.5 245.75h.83M267 246.25h.83M269 246.25h.83M272.5 246.25h1.33M274 246.25h1.33M275.5 246.25h2.33M278 246.25h38.83M317 246.25h1.33M318.5 246.25h1.33M321 246.25h1.33M322.5 246.25h.83M331.5 246.25h.83M271.5 246.75h.83M272.5 246.75h1.83M276 246.75h.83M277.5 246.75h39.33M317.5 246.75h.83M319.5 246.75h.83M322 246.75h1.33M261 247.25h.83M272.5 247.25h.83M276 247.25h38.83M315.5 247.25h1.83M317.5 247.25h.83M319 247.25h.83M321 247.25h.83M324 247.25h.83M325 247.25h.83M274 247.75h.83M275.5 247.75h37.83M313.5 247.75h2.33M316 247.75h.83M317 247.75h1.33M318.5 247.75h1.83M323.5 247.75h.83M268.5 248.25h.83M274 248.25h.83M275 248.25h1.83M277 248.25h34.83M312 248.25h5.83M318 248.25h.83M319.5 248.25h.83M320.5 248.25h.83M324 248.25h.83M271 248.75h1.33M272.5 248.75h1.33M274.5 248.75h.83M275.5 248.75h1.33M277 248.75h35.83M313 248.75h5.83M320 248.75h.83M322 248.75h.83M328 248.75h.83M267 249.25h.83M270.5 249.25h.83M272 249.25h.83M273.5 249.25h43.83M317.5 249.25h.83M320 249.25h1.33M267 249.75h.83M272 249.75h.83M273 249.75h.83M275.5 249.75h37.33M314 249.75h1.33M315.5 249.75h2.33M318 249.75h.83M319.5 249.75h1.83M322.5 249.75h.83M325 249.75h.83M273 250.25h1.33M274.5 250.25h1.33M276 250.25h1.83M278.5 250.25h36.33M315 250.25h1.83M317.5 250.25h1.33M320 250.25h.83M321 250.25h.83M322 250.25h1.33M324 250.25h.83M268 250.75h.83M269.5 250.75h.83M272 250.75h.83M274 250.75h.83M276.5 250.75h.83M278 250.75h.83M279 250.75h37.33M317 250.75h.83M318 250.75h.83M319.5 250.75h1.33M322.5 250.75h.83M270 251.25h1.33M272 251.25h.83M275 251.25h1.33M276.5 251.25h.83M278 251.25h37.83M316 251.25h.83M317 251.25h1.83M319 251.25h.83M320 251.25h1.33M323.5 251.25h.83M271.5 251.75h.83M273.5 251.75h1.83M276.5 251.75h.83M277.5 251.75h.83M278.5 251.75h1.83M280.5 251.75h30.83M311.5 251.75h2.33M314 251.75h.83M315 251.75h4.33M319.5 251.75h1.33M322.5 251.75h.83M269 252.25h.83M273 252.25h1.83M275.5 252.25h.83M276.5 252.25h3.33M280 252.25h35.33M315.5 252.25h2.33M319 252.25h.83M322 252.25h.83M323.5 252.25h.83M274.5 252.75h1.33M277 252.75h1.83M279 252.75h1.33M280.5 252.75h30.33M311 252.75h2.33M313.5 252.75h2.83M317.5 252.75h.83M323.5 252.75h.83M273.5 253.25h.83M276.5 253.25h.83M277.5 253.25h1.33M279 253.25h1.83M281 253.25h32.83M314 253.25h.83M315 253.25h2.83M322 253.25h1.33M256.5 253.75h.83M269 253.75h.83M272.5 253.75h.83M273.5 253.75h.83M274.5 253.75h.83M276 253.75h.83M277 253.75h31.83M309.5 253.75h3.33M313.5 253.75h1.33M315 253.75h.83M316 253.75h2.33M319.5 253.75h.83M321.5 253.75h1.33M323.5 253.75h.83M274 254.25h.83M276 254.25h.83M277 254.25h.83M278.5 254.25h.83M279.5 254.25h.83M280.5 254.25h2.83M283.5 254.25h.83M284.5 254.25h25.83M310.5 254.25h1.83M312.5 254.25h2.33M315.5 254.25h1.33M319 254.25h.83M320 254.25h.83M323 254.25h.83M273 254.75h.83M274 254.75h.83M277.5 254.75h1.33M279 254.75h2.33M281.5 254.75h3.33M285 254.75h11.83M297 254.75h8.83M306 254.75h5.33M312 254.75h1.83M314.5 254.75h2.33M270 255.25h.83M273 255.25h.83M276.5 255.25h1.33M278 255.25h.83M280.5 255.25h.83M282 255.25h.83M283.5 255.25h23.33M307 255.25h5.83M313 255.25h1.33M315.5 255.25h.83M317 255.25h1.33M276.5 255.75h.83M277.5 255.75h.83M279 255.75h.83M280 255.75h1.33M282.5 255.75h1.33M284.5 255.75h2.33M287 255.75h5.33M292.5 255.75h12.33M306.5 255.75h2.33M309 255.75h.83M310 255.75h2.33M312.5 255.75h.83M314.5 255.75h.83M315.5 255.75h.83M316.5 255.75h1.33M318 255.75h.83M272 256.25h.83M278 256.25h.83M280.5 256.25h.83M281.5 256.25h.83M283.5 256.25h2.33M286 256.25h.83M287.5 256.25h2.33M290 256.25h4.33M294.5 256.25h.83M295.5 256.25h2.83M298.5 256.25h11.33M310 256.25h1.33M312 256.25h.83M313 256.25h.83M315.5 256.25h1.83M318.5 256.25h1.83M321.5 256.25h.83M322.5 256.25h.83M269.5 256.75h.83M271 256.75h.83M274 256.75h1.33M277 256.75h.83M279 256.75h.83M281 256.75h.83M282.5 256.75h1.33M284 256.75h.83M286.5 256.75h2.33M289.5 256.75h.83M290.5 256.75h.83M291.5 256.75h4.83M296.5 256.75h1.33M298 256.75h1.33M299.5 256.75h1.33M301 256.75h5.83M307.5 256.75h2.83M310.5 256.75h.83M311.5 256.75h.83M315 256.75h.83M317.5 256.75h.83M270.5 257.25h.83M277 257.25h1.33M282 257.25h1.33M283.5 257.25h.83M285.5 257.25h.83M286.5 257.25h1.83M288.5 257.25h1.33M290.5 257.25h.83M291.5 257.25h.83M293 257.25h1.83M295 257.25h.83M296 257.25h1.33M297.5 257.25h2.33M300 257.25h1.83M302 257.25h4.33M308 257.25h1.33M309.5 257.25h1.33M311.5 257.25h.83M312.5 257.25h1.33M314.5 257.25h.83M263 257.75h.83M278 257.75h.83M279.5 257.75h1.33M281 257.75h1.33M286 257.75h3.33M289.5 257.75h.83M293 257.75h1.33M295.5 257.75h.83M297 257.75h3.33M301 257.75h.83M302 257.75h1.83M304.5 257.75h.83M305.5 257.75h.83M307 257.75h.83M308 257.75h.83M309.5 257.75h1.33M311.5 257.75h.83M313.5 257.75h.83M282.5 258.25h.83M284 258.25h.83M286 258.25h.83M288.5 258.25h1.83M295 258.25h.83M298 258.25h3.33M302.5 258.25h1.83M305 258.25h.83M306 258.25h1.83M309.5 258.25h.83M316 258.25h1.83M279 258.75h.83M280.5 258.75h.83M282 258.75h.83M284 258.75h.83M285 258.75h1.83M292.5 258.75h.83M293.5 258.75h1.33M296 258.75h.83M297 258.75h1.33M299 258.75h2.33M302 258.75h2.83M305.5 258.75h1.33M307 258.75h.83M308.5 258.75h1.33M312.5 258.75h.83M316.5 258.75h.83M319.5 258.75h.83M321 258.75h.83M285.5 259.25h.83M287 259.25h.83M288.5 259.25h.83M289.5 259.25h1.83M293 259.25h.83M298.5 259.25h1.33M301 259.25h1.33M305.5 259.25h.83M306.5 259.25h1.33M308.5 259.25h.83M310 259.25h.83M313 259.25h.83M318.5 259.25h.83M322 259.25h.83M278 259.75h1.83M287.5 259.75h1.33M293 259.75h.83M294.5 259.75h.83M297 259.75h.83M301.5 259.75h.83M303.5 259.75h1.83M310.5 259.75h.83M320 259.75h.83M278 260.25h.83M280 260.25h.83M287 260.25h.83M289.5 260.25h.83M293 260.25h.83M294 260.25h.83M299.5 260.25h.83M301 260.25h.83M302.5 260.25h.83M304 260.25h.83M306.5 260.25h.83M311.5 260.25h.83M313.5 260.25h.83M286 260.75h.83M290.5 260.75h.83M291.5 260.75h.83M307 260.75h.83"/>
<rect class="f" x="232.50" y="152.00" width="119.00" height="110.20"/>
<path class="g" d="M259.10 152.00V262.20M232.50 227.20H351.50"/>
<path class="k" d="M237.00 262.20v3.0M241.49 262.20v3.0M245.99 262.20v3.0M250.48 262.20v3.0M254.97 262.20v5.0M259.47 262.20v3.0M263.96 262.20v3.0M268.46 262.20v3.0M272.95 262.20v3.0M277.45 262.20v5.0M281.94 262.20v3.0M286.44 262.20v3.0M290.94 262.20v3.0M295.43 262.20v3.0M299.93 262.20v5.0M304.42 262.20v3.0M308.92 262.20v3.0M313.41 262.20v3.0M317.90 262.20v3.0M322.40 262.20v5.0M326.89 262.20v3.0M331.39 262.20v3.0M335.88 262.20v3.0M340.38 262.20v3.0M344.88 262.20v5.0M349.37 262.20v3.0M232.50 261.18h-2.4M232.50 257.74h-2.4M232.50 255.08h-2.4M232.50 252.90h-2.4M232.50 251.06h-2.4M232.50 249.47h-2.4M232.50 248.06h-2.4M232.50 246.80h-3.7M232.50 238.52h-2.4M232.50 233.68h-2.4M232.50 230.24h-2.4M232.50 227.58h-2.4M232.50 225.40h-2.4M232.50 223.56h-2.4M232.50 221.97h-2.4M232.50 220.56h-2.4M232.50 219.30h-3.7M232.50 211.02h-2.4M232.50 206.18h-2.4M232.50 202.74h-2.4M232.50 200.08h-2.4M232.50 197.90h-2.4M232.50 196.06h-2.4M232.50 194.47h-2.4M232.50 193.06h-2.4M232.50 191.80h-3.7M232.50 183.52h-2.4M232.50 178.68h-2.4M232.50 175.24h-2.4M232.50 172.58h-2.4M232.50 170.40h-2.4M232.50 168.56h-2.4M232.50 166.97h-2.4M232.50 165.56h-2.4M232.50 164.30h-3.7M232.50 156.02h-2.4"/>
<text class="n" x="254.57" y="273.80">50</text>
<text class="n" x="277.05" y="273.80">100</text>
<text class="n" x="299.53" y="273.80">150</text>
<text class="n" x="322.00" y="273.80">200</text>
<text class="n" x="344.48" y="273.80">250</text>
<text class="a" x="291.40" y="282.60">FSC-H</text>
<text class="m" x="351.40" y="281.40">(x 1,000)</text>
<text class="y" transform="translate(226.90 250.40) rotate(-90)">10<tspan class="s" dx=".2" dy="-3.7">2</tspan></text>
<text class="y" transform="translate(226.90 222.90) rotate(-90)">10<tspan class="s" dx=".2" dy="-3.7">3</tspan></text>
<text class="y" transform="translate(226.90 195.40) rotate(-90)">10<tspan class="s" dx=".2" dy="-3.7">4</tspan></text>
<text class="y" transform="translate(226.90 167.90) rotate(-90)">10<tspan class="s" dx=".2" dy="-3.7">5</tspan></text>
<text class="a" transform="translate(216.80 207.10) rotate(-90)">GFP-A</text>
<text class="t" transform="translate(314.00 164.90) scale(1 1.14)">WASP</text>
</g>
<g>
<path class="d" d="M475.8 197.25h.83M486.3 197.25h.83M457.8 197.75h.83M485.8 197.75h.83M469.8 198.25h.83M459.3 198.75h.83M481.8 198.75h.83M466.8 199.25h.83M478.8 199.25h.83M485.8 199.25h.83M478.8 199.75h1.33M481.3 199.75h.83M491.8 199.75h.83M449.8 200.25h.83M479.3 200.25h.83M482.3 200.25h.83M487.3 200.25h.83M461.3 200.75h.83M482.8 200.75h.83M483.8 200.75h.83M471.8 201.25h.83M466.3 201.75h.83M469.3 201.75h.83M470.8 201.75h.83M474.3 201.75h.83M495.8 201.75h.83M468.3 202.25h.83M469.3 202.25h.83M472.8 202.25h.83M475.3 202.25h.83M476.8 202.25h.83M494.3 202.25h.83M467.8 202.75h1.33M473.3 202.75h.83M474.3 202.75h.83M475.8 202.75h.83M481.3 202.75h.83M482.8 202.75h.83M486.3 202.75h.83M457.3 203.25h.83M470.3 203.25h.83M473.8 203.25h1.33M477.3 203.25h.83M481.8 203.25h.83M482.8 203.25h.83M483.8 203.25h.83M488.3 203.25h.83M471.8 203.75h1.33M473.8 203.75h.83M475.3 203.75h.83M478.8 203.75h.83M479.8 203.75h.83M469.8 204.25h1.83M472.3 204.25h1.33M477.3 204.25h.83M478.3 204.25h.83M479.3 204.25h1.33M481.8 204.25h.83M491.3 204.25h.83M492.8 204.25h.83M461.3 204.75h.83M466.3 204.75h.83M472.3 204.75h.83M473.8 204.75h.83M476.8 204.75h.83M479.3 204.75h.83M480.3 204.75h.83M481.3 204.75h.83M484.8 204.75h.83M488.3 204.75h.83M501.8 204.75h.83M446.3 205.25h.83M451.8 205.25h.83M454.8 205.25h.83M466.3 205.25h.83M469.3 205.25h.83M471.8 205.25h.83M474.8 205.25h.83M477.3 205.25h.83M478.3 205.25h.83M481.3 205.25h.83M484.8 205.25h.83M459.8 205.75h.83M462.3 205.75h1.33M467.3 205.75h.83M469.8 205.75h.83M471.3 205.75h.83M472.3 205.75h.83M476.3 205.75h1.33M478.8 205.75h.83M479.8 205.75h.83M481.8 205.75h.83M454.8 206.25h1.33M460.3 206.25h.83M461.3 206.25h.83M462.3 206.25h.83M464.3 206.25h.83M465.3 206.25h.83M467.3 206.25h.83M471.8 206.25h.83M475.8 206.25h.83M481.3 206.25h1.33M484.8 206.25h.83M486.8 206.25h1.83M490.3 206.25h.83M495.3 206.25h.83M461.8 206.75h.83M464.8 206.75h.83M465.8 206.75h1.33M468.8 206.75h.83M471.3 206.75h.83M472.3 206.75h.83M473.3 206.75h.83M475.3 206.75h.83M480.3 206.75h.83M484.3 206.75h.83M488.8 206.75h.83M493.3 206.75h.83M496.3 206.75h.83M461.3 207.25h1.33M463.3 207.25h.83M465.3 207.25h1.33M467.8 207.25h1.33M472.3 207.25h.83M473.8 207.25h1.33M475.3 207.25h.83M479.8 207.25h.83M480.8 207.25h.83M482.3 207.25h1.83M484.8 207.25h.83M486.3 207.25h.83M488.3 207.25h.83M498.8 207.25h.83M454.3 207.75h1.33M460.3 207.75h.83M462.3 207.75h.83M469.3 207.75h.83M470.3 207.75h1.33M472.8 207.75h1.33M475.3 207.75h.83M477.3 207.75h.83M479.8 207.75h.83M480.8 207.75h.83M482.8 207.75h1.33M485.3 207.75h.83M486.8 207.75h1.33M488.8 207.75h.83M489.8 207.75h.83M453.3 208.25h.83M461.3 208.25h1.33M467.3 208.25h2.83M471.3 208.25h.83M475.3 208.25h.83M476.8 208.25h1.33M478.8 208.25h1.33M481.8 208.25h.83M464.3 208.75h.83M465.3 208.75h.83M468.8 208.75h.83M469.8 208.75h.83M471.8 208.75h.83M472.8 208.75h1.33M474.3 208.75h.83M477.3 208.75h.83M479.8 208.75h.83M480.8 208.75h.83M482.8 208.75h.83M484.8 208.75h.83M488.3 208.75h.83M489.3 208.75h.83M459.3 209.25h.83M460.3 209.25h.83M462.3 209.25h.83M465.8 209.25h.83M466.8 209.25h1.83M468.8 209.25h.83M470.3 209.25h.83M471.3 209.25h.83M475.8 209.25h.83M479.8 209.25h.83M481.8 209.25h.83M482.8 209.25h.83M483.8 209.25h.83M485.8 209.25h.83M487.3 209.25h.83M488.3 209.25h.83M452.3 209.75h.83M454.8 209.75h.83M456.8 209.75h.83M461.3 209.75h1.33M464.3 209.75h.83M465.3 209.75h.83M466.3 209.75h.83M468.3 209.75h.83M469.8 209.75h2.83M472.8 209.75h.83M474.8 209.75h.83M480.3 209.75h.83M483.3 209.75h.83M485.3 209.75h.83M486.8 209.75h.83M489.8 209.75h.83M492.3 209.75h.83M455.8 210.25h.83M458.3 210.25h.83M462.3 210.25h1.33M464.3 210.25h1.33M466.3 210.25h.83M467.3 210.25h.83M468.8 210.25h.83M469.8 210.25h3.33M473.3 210.25h.83M474.8 210.25h.83M476.8 210.25h.83M477.8 210.25h.83M479.3 210.25h1.83M483.8 210.25h1.33M485.8 210.25h.83M490.8 210.25h.83M492.3 210.25h.83M494.8 210.25h.83M455.3 210.75h1.33M457.3 210.75h1.33M461.3 210.75h.83M462.3 210.75h.83M463.3 210.75h.83M464.3 210.75h.83M465.3 210.75h1.83M467.8 210.75h.83M469.8 210.75h.83M471.8 210.75h.83M472.8 210.75h.83M473.8 210.75h.83M479.3 210.75h2.83M482.8 210.75h.83M484.8 210.75h.83M488.3 210.75h.83M449.3 211.25h1.33M454.8 211.25h.83M456.3 211.25h.83M461.3 211.25h1.83M464.3 211.25h.83M465.8 211.25h.83M467.3 211.25h.83M468.3 211.25h1.33M469.8 211.25h1.33M471.3 211.25h1.33M472.8 211.25h.83M473.8 211.25h1.83M475.8 211.25h.83M479.8 211.25h1.33M481.3 211.25h1.33M484.3 211.25h.83M485.8 211.25h1.33M490.8 211.25h.83M461.3 211.75h1.83M463.3 211.75h1.33M464.8 211.75h.83M466.8 211.75h.83M468.3 211.75h1.83M470.8 211.75h.83M471.8 211.75h1.83M473.8 211.75h2.33M476.3 211.75h.83M477.3 211.75h.83M479.3 211.75h1.33M480.8 211.75h1.33M482.8 211.75h.83M484.8 211.75h.83M486.3 211.75h.83M455.8 212.25h.83M458.8 212.25h.83M460.3 212.25h.83M461.8 212.25h1.33M463.8 212.25h.83M466.3 212.25h.83M467.3 212.25h.83M468.3 212.25h.83M469.3 212.25h.83M470.8 212.25h1.33M473.3 212.25h.83M474.8 212.25h1.33M477.3 212.25h1.33M478.8 212.25h1.83M483.3 212.25h1.83M487.8 212.25h.83M490.8 212.25h.83M498.3 212.25h.83M455.3 212.75h.83M458.3 212.75h.83M464.3 212.75h.83M465.8 212.75h1.83M470.3 212.75h.83M471.8 212.75h1.33M473.3 212.75h1.33M475.3 212.75h.83M476.3 212.75h1.83M478.3 212.75h1.83M480.8 212.75h.83M482.8 212.75h1.33M484.3 212.75h1.33M485.8 212.75h1.33M487.3 212.75h.83M453.8 213.25h.83M456.8 213.25h.83M460.8 213.25h1.33M462.3 213.25h.83M464.8 213.25h.83M466.3 213.25h1.83M468.3 213.25h1.33M470.3 213.25h1.33M471.8 213.25h.83M472.8 213.25h.83M474.3 213.25h.83M475.3 213.25h2.33M481.3 213.25h.83M482.8 213.25h1.33M484.3 213.25h1.33M489.8 213.25h.83M490.8 213.25h.83M492.3 213.25h.83M456.8 213.75h1.33M458.8 213.75h2.33M461.3 213.75h.83M462.3 213.75h.83M463.3 213.75h.83M464.3 213.75h1.33M465.8 213.75h1.33M467.8 213.75h.83M470.3 213.75h1.33M472.8 213.75h.83M474.3 213.75h.83M475.3 213.75h2.33M478.3 213.75h.83M479.3 213.75h1.33M481.3 213.75h.83M484.3 213.75h.83M485.3 213.75h.83M486.8 213.75h.83M496.3 213.75h.83M445.8 214.25h.83M454.8 214.25h.83M459.8 214.25h.83M462.8 214.25h.83M464.3 214.25h2.33M466.8 214.25h3.33M472.8 214.25h.83M476.3 214.25h.83M477.3 214.25h.83M479.3 214.25h.83M481.8 214.25h1.33M483.3 214.25h1.33M486.3 214.25h.83M492.8 214.25h.83M451.3 214.75h.83M453.8 214.75h.83M454.8 214.75h.83M457.8 214.75h1.33M459.3 214.75h.83M460.8 214.75h.83M461.8 214.75h.83M465.3 214.75h.83M466.8 214.75h2.33M469.8 214.75h.83M471.3 214.75h2.33M473.8 214.75h3.83M478.8 214.75h.83M481.3 214.75h.83M482.8 214.75h.83M484.3 214.75h.83M485.8 214.75h.83M489.3 214.75h.83M490.3 214.75h1.33M496.8 214.75h.83M501.3 214.75h.83M448.8 215.25h.83M455.3 215.25h1.33M457.8 215.25h.83M460.3 215.25h1.33M462.3 215.25h.83M464.8 215.25h.83M468.8 215.25h.83M471.3 215.25h.83M472.3 215.25h.83M473.3 215.25h.83M474.8 215.25h1.33M476.3 215.25h.83M477.3 215.25h1.83M479.3 215.25h.83M482.8 215.25h1.83M486.8 215.25h.83M488.3 215.25h.83M490.3 215.25h.83M455.8 215.75h.83M458.8 215.75h.83M461.3 215.75h2.33M464.3 215.75h.83M467.3 215.75h1.33M469.3 215.75h3.33M473.8 215.75h1.33M477.8 215.75h.83M479.3 215.75h.83M485.3 215.75h1.33M488.8 215.75h.83M489.8 215.75h.83M491.3 215.75h.83M451.8 216.25h.83M459.8 216.25h1.33M463.3 216.25h.83M465.3 216.25h.83M466.3 216.25h.83M467.3 216.25h1.83M469.8 216.25h1.33M471.3 216.25h.83M472.8 216.25h1.33M475.8 216.25h1.33M479.3 216.25h.83M482.8 216.25h.83M484.3 216.25h.83M501.3 216.25h.83M448.8 216.75h.83M453.3 216.75h.83M455.3 216.75h.83M456.8 216.75h1.33M458.8 216.75h1.33M460.3 216.75h.83M463.8 216.75h2.83M467.3 216.75h1.33M469.3 216.75h.83M471.3 216.75h1.33M472.8 216.75h.83M473.8 216.75h.83M475.3 216.75h1.33M477.8 216.75h2.33M480.8 216.75h.83M483.8 216.75h1.33M486.8 216.75h.83M488.8 216.75h.83M460.8 217.25h1.33M462.8 217.25h1.33M464.3 217.25h.83M465.8 217.25h1.33M468.8 217.25h.83M470.3 217.25h1.33M472.8 217.25h.83M473.8 217.25h1.83M476.3 217.25h.83M477.8 217.25h.83M479.8 217.25h.83M481.3 217.25h.83M485.3 217.25h.83M487.3 217.25h.83M489.8 217.25h.83M490.8 217.25h.83M449.8 217.75h.83M457.3 217.75h.83M462.8 217.75h1.83M465.3 217.75h1.33M466.8 217.75h1.83M468.8 217.75h.83M469.8 217.75h1.33M471.3 217.75h.83M472.3 217.75h.83M473.8 217.75h.83M478.3 217.75h.83M479.3 217.75h1.33M481.3 217.75h1.33M484.8 217.75h.83M488.3 217.75h.83M457.3 218.25h1.33M459.3 218.25h1.33M462.3 218.25h1.83M464.8 218.25h.83M466.8 218.25h.83M468.3 218.25h3.83M473.8 218.25h1.33M475.8 218.25h1.33M477.3 218.25h1.33M479.3 218.25h1.33M480.8 218.25h1.83M490.8 218.25h.83M448.3 218.75h.83M453.3 218.75h.83M456.3 218.75h.83M458.3 218.75h.83M459.3 218.75h.83M463.3 218.75h.83M464.3 218.75h.83M465.8 218.75h1.83M467.8 218.75h1.33M469.8 218.75h1.83M472.3 218.75h.83M476.3 218.75h2.33M479.3 218.75h1.33M481.8 218.75h.83M488.8 218.75h.83M452.8 219.25h.83M455.8 219.25h.83M459.3 219.25h.83M461.3 219.25h.83M462.3 219.25h.83M464.8 219.25h2.83M467.8 219.25h3.33M471.8 219.25h1.33M473.3 219.25h.83M474.8 219.25h.83M476.3 219.25h.83M477.3 219.25h.83M479.8 219.25h.83M482.3 219.25h1.83M484.8 219.25h.83M486.8 219.25h.83M490.8 219.25h.83M455.8 219.75h.83M456.8 219.75h1.33M462.3 219.75h1.33M465.8 219.75h.83M468.3 219.75h.83M470.8 219.75h.83M472.8 219.75h.83M473.8 219.75h.83M474.8 219.75h.83M476.3 219.75h1.33M477.8 219.75h.83M480.8 219.75h.83M488.8 219.75h.83M492.8 219.75h.83M454.3 220.25h.83M456.8 220.25h.83M457.8 220.25h.83M462.3 220.25h.83M464.8 220.25h.83M466.3 220.25h.83M469.8 220.25h.83M470.8 220.25h.83M472.3 220.25h.83M473.3 220.25h.83M474.3 220.25h1.83M478.3 220.25h1.33M480.3 220.25h1.33M481.8 220.25h.83M485.3 220.25h.83M452.8 220.75h.83M457.3 220.75h.83M459.3 220.75h.83M460.8 220.75h1.33M465.3 220.75h1.33M467.3 220.75h.83M468.8 220.75h1.33M471.3 220.75h.83M472.8 220.75h.83M475.3 220.75h.83M477.3 220.75h.83M478.8 220.75h.83M480.3 220.75h.83M481.8 220.75h.83M483.3 220.75h.83M484.3 220.75h.83M454.8 221.25h.83M459.8 221.25h.83M462.3 221.25h.83M463.8 221.25h.83M466.8 221.25h.83M468.3 221.25h.83M471.3 221.25h.83M473.3 221.25h2.33M475.8 221.25h.83M477.3 221.25h.83M478.3 221.25h1.83M481.3 221.25h.83M483.3 221.25h.83M439.3 221.75h.83M459.3 221.75h.83M463.3 221.75h.83M465.3 221.75h.83M467.8 221.75h.83M468.8 221.75h.83M470.8 221.75h.83M472.8 221.75h.83M474.8 221.75h1.83M476.8 221.75h.83M478.3 221.75h1.33M457.8 222.25h.83M460.8 222.25h1.33M462.8 222.25h.83M465.8 222.25h.83M467.8 222.25h.83M474.3 222.25h.83M475.3 222.25h.83M478.3 222.25h1.33M458.3 222.75h.83M459.8 222.75h.83M465.3 222.75h1.33M467.8 222.75h.83M473.8 222.75h2.33M477.3 222.75h.83M478.8 222.75h.83M485.8 222.75h.83M486.8 222.75h.83M460.8 223.25h1.83M464.8 223.25h.83M467.3 223.25h.83M468.3 223.25h.83M469.3 223.25h.83M475.3 223.25h1.33M476.8 223.25h1.83M479.3 223.25h1.33M492.8 223.25h.83M457.8 223.75h.83M473.3 223.75h.83M476.8 223.75h.83M479.3 223.75h.83M458.3 224.25h1.33M462.8 224.25h.83M464.8 224.25h.83M465.8 224.25h.83M470.3 224.25h.83M471.8 224.25h.83M472.8 224.25h.83M479.8 224.25h.83M480.8 224.25h.83M460.8 224.75h1.33M466.3 224.75h.83M476.3 224.75h.83M480.8 224.75h.83M452.3 225.25h.83M455.8 225.25h.83M458.8 225.25h.83M475.8 225.25h.83M478.3 225.25h.83M462.8 225.75h.83M469.8 225.75h.83M471.3 225.75h.83M475.8 225.75h.83M491.8 225.75h.83M461.3 226.25h.83M470.8 226.25h1.83M484.8 226.25h1.33M486.3 226.25h.83M494.8 226.25h.83M464.3 226.75h.83M465.8 226.75h.83M473.3 226.75h.83M477.8 226.75h.83M480.3 226.75h.83M483.8 226.75h1.33M486.3 226.75h.83M457.8 227.25h.83M460.8 227.25h.83M461.8 227.25h.83M463.3 227.25h.83M464.8 227.25h.83M465.8 227.25h.83M466.8 227.25h.83M475.3 227.25h.83M479.8 227.25h.83M481.8 227.25h.83M460.8 227.75h.83M465.8 227.75h.83M475.8 227.75h.83M484.8 227.75h.83M466.3 228.25h.83M472.3 228.25h.83M477.3 228.25h1.33M487.3 228.25h.83M453.8 228.75h.83M459.3 228.75h.83M471.3 228.75h.83M474.8 228.75h.83M476.3 228.75h.83M477.3 228.75h.83M484.8 228.75h.83M486.8 228.75h1.33M451.8 229.25h.83M458.8 229.25h.83M465.8 229.25h.83M471.3 229.25h.83M474.3 229.25h.83M451.8 229.75h.83M460.3 229.75h1.33M471.8 229.75h.83M478.3 229.75h.83M450.3 230.25h.83M453.8 230.25h.83M455.8 230.25h1.33M458.8 230.25h.83M468.8 230.25h1.33M471.3 230.25h.83M472.3 230.25h1.33M476.3 230.25h.83M458.3 230.75h.83M464.3 230.75h.83M466.3 230.75h.83M467.3 230.75h.83M469.3 230.75h.83M474.3 230.75h1.33M476.3 230.75h.83M483.8 230.75h.83M450.8 231.25h.83M455.8 231.25h.83M457.8 231.25h.83M458.8 231.25h.83M462.8 231.25h1.33M466.8 231.25h.83M470.8 231.25h.83M487.3 231.25h.83M457.3 231.75h.83M458.3 231.75h.83M460.8 231.75h.83M469.3 231.75h.83M471.3 231.75h1.33M472.8 231.75h.83M473.8 231.75h1.83M477.8 231.75h.83M483.8 231.75h.83M486.3 231.75h.83M487.8 231.75h.83M491.3 231.75h.83M462.3 232.25h1.33M465.3 232.25h.83M467.3 232.25h.83M469.8 232.25h.83M471.8 232.25h.83M472.8 232.25h.83M453.8 232.75h.83M456.3 232.75h.83M465.3 232.75h.83M483.8 232.75h1.33M489.3 232.75h.83M452.3 233.25h.83M454.3 233.25h.83M459.3 233.25h1.33M467.3 233.25h.83M468.8 233.25h.83M473.8 233.25h.83M481.8 233.25h.83M458.3 233.75h.83M460.8 233.75h.83M448.8 234.25h.83M455.8 234.25h.83M458.3 234.25h.83M468.3 234.25h.83M471.8 234.25h.83M478.3 234.25h1.33M481.3 234.25h.83M483.3 234.25h1.83M485.3 234.25h1.83M450.8 234.75h.83M456.8 234.75h.83M467.3 234.75h.83M468.3 234.75h.83M470.8 234.75h.83M471.8 234.75h.83M474.8 234.75h.83M476.3 234.75h.83M480.8 234.75h1.33M451.8 235.25h.83M452.8 235.25h.83M456.3 235.25h.83M458.8 235.25h1.33M460.3 235.25h.83M463.3 235.25h1.33M466.8 235.25h.83M470.3 235.25h.83M471.8 235.25h.83M475.8 235.25h1.83M478.8 235.25h.83M481.8 235.25h.83M497.8 235.25h.83M454.8 235.75h1.33M459.3 235.75h.83M462.3 235.75h.83M464.8 235.75h1.83M469.8 235.75h.83M472.3 235.75h1.33M475.8 235.75h1.33M481.8 235.75h.83M485.8 235.75h.83M457.3 236.25h.83M460.3 236.25h.83M462.8 236.25h.83M465.3 236.25h.83M467.3 236.25h.83M468.8 236.25h.83M469.8 236.25h.83M471.8 236.25h1.83M473.8 236.25h.83M477.8 236.25h1.83M480.8 236.25h.83M482.3 236.25h.83M485.8 236.25h.83M490.8 236.25h.83M450.3 236.75h.83M454.8 236.75h.83M462.8 236.75h.83M463.8 236.75h.83M465.3 236.75h.83M466.3 236.75h1.33M470.3 236.75h1.33M472.8 236.75h.83M475.8 236.75h1.33M477.8 236.75h1.33M479.8 236.75h.83M480.8 236.75h.83M482.8 236.75h.83M484.3 236.75h.83M493.3 236.75h.83M454.3 237.25h.83M455.3 237.25h.83M457.3 237.25h.83M458.3 237.25h1.33M461.8 237.25h1.33M464.3 237.25h.83M465.3 237.25h.83M466.8 237.25h.83M470.8 237.25h.83M471.8 237.25h1.83M473.8 237.25h.83M474.8 237.25h1.83M477.3 237.25h.83M478.3 237.25h.83M479.8 237.25h.83M481.3 237.25h.83M482.3 237.25h1.33M484.3 237.25h1.83M486.8 237.25h.83M449.3 237.75h.83M451.3 237.75h.83M452.8 237.75h.83M453.8 237.75h1.33M455.3 237.75h.83M458.3 237.75h.83M460.8 237.75h1.33M462.3 237.75h1.33M463.8 237.75h.83M467.3 237.75h2.33M469.8 237.75h.83M471.3 237.75h1.33M473.3 237.75h.83M474.3 237.75h.83M476.3 237.75h.83M478.3 237.75h1.83M481.3 237.75h.83M482.8 237.75h.83M484.3 237.75h.83M486.3 237.75h.83M488.3 237.75h.83M489.8 237.75h1.33M444.8 238.25h1.33M453.8 238.25h1.83M455.8 238.25h.83M456.8 238.25h1.33M458.3 238.25h1.33M459.8 238.25h.83M460.8 238.25h2.33M463.3 238.25h.83M464.8 238.25h.83M467.8 238.25h1.33M469.8 238.25h1.83M471.8 238.25h2.33M474.8 238.25h1.33M478.3 238.25h.83M479.3 238.25h.83M480.3 238.25h1.33M481.8 238.25h.83M483.8 238.25h.83M494.8 238.25h.83M442.3 238.75h.83M447.8 238.75h.83M449.3 238.75h.83M450.8 238.75h.83M452.3 238.75h.83M455.3 238.75h2.33M458.3 238.75h.83M459.8 238.75h.83M460.8 238.75h.83M461.8 238.75h.83M463.8 238.75h1.83M466.3 238.75h.83M467.3 238.75h1.33M468.8 238.75h1.33M471.3 238.75h4.33M476.8 238.75h.83M477.8 238.75h.83M478.8 238.75h1.33M480.8 238.75h1.83M484.3 238.75h.83M487.8 238.75h.83M488.8 238.75h.83M494.8 238.75h.83M448.8 239.25h1.33M450.8 239.25h1.33M452.8 239.25h.83M454.8 239.25h1.33M456.3 239.25h1.33M458.3 239.25h.83M459.3 239.25h.83M460.8 239.25h.83M461.8 239.25h6.33M468.3 239.25h.83M469.8 239.25h3.33M473.3 239.25h1.33M474.8 239.25h3.83M479.3 239.25h1.33M481.3 239.25h2.33M483.8 239.25h1.83M486.8 239.25h.83M489.3 239.25h.83M495.8 239.25h.83M433.3 239.75h.83M442.8 239.75h.83M447.8 239.75h1.33M450.3 239.75h.83M451.3 239.75h4.83M456.3 239.75h1.33M457.8 239.75h1.33M459.3 239.75h4.83M464.3 239.75h1.33M465.8 239.75h.83M466.8 239.75h3.83M470.8 239.75h1.33M472.3 239.75h11.33M483.8 239.75h1.33M485.3 239.75h.83M486.3 239.75h.83M488.3 239.75h.83M489.3 239.75h.83M490.8 239.75h.83M496.3 239.75h.83M497.3 239.75h.83M434.3 240.25h.83M439.3 240.25h.83M445.3 240.25h1.33M447.8 240.25h.83M448.8 240.25h.83M449.8 240.25h1.33M451.3 240.25h2.33M453.8 240.25h.83M455.8 240.25h.83M456.8 240.25h6.33M463.8 240.25h6.33M470.3 240.25h1.33M471.8 240.25h7.83M480.3 240.25h1.83M482.8 240.25h.83M483.8 240.25h1.83M487.3 240.25h.83M488.8 240.25h.83M490.3 240.25h.83M491.3 240.25h.83M440.3 240.75h.83M443.3 240.75h.83M444.8 240.75h1.33M447.8 240.75h.83M450.3 240.75h.83M451.8 240.75h2.83M454.8 240.75h4.83M459.8 240.75h14.33M474.3 240.75h4.33M479.3 240.75h3.33M482.8 240.75h1.83M485.3 240.75h2.33M487.8 240.75h1.83M489.8 240.75h.83M492.3 240.75h.83M437.3 241.25h.83M442.8 241.25h1.33M445.8 241.25h.83M446.8 241.25h.83M447.8 241.25h1.33M449.8 241.25h.83M451.3 241.25h.83M452.3 241.25h1.83M454.3 241.25h25.33M479.8 241.25h4.83M484.8 241.25h1.83M486.8 241.25h1.83M488.8 241.25h.83M492.3 241.25h1.33M494.8 241.25h.83M439.8 241.75h.83M442.3 241.75h1.33M444.3 241.75h.83M445.3 241.75h.83M447.3 241.75h1.33M449.8 241.75h.83M451.8 241.75h6.83M458.8 241.75h14.83M473.8 241.75h11.33M485.8 241.75h1.83M488.8 241.75h1.33M491.3 241.75h.83M494.3 241.75h.83M498.3 241.75h.83M441.3 242.25h.83M443.3 242.25h.83M444.8 242.25h.83M445.8 242.25h1.33M448.3 242.25h.83M449.3 242.25h.83M450.3 242.25h1.33M451.8 242.25h34.33M486.3 242.25h4.33M490.8 242.25h.83M497.8 242.25h.83M441.8 242.75h.83M447.3 242.75h1.33M448.8 242.75h2.33M451.3 242.75h2.33M453.8 242.75h33.33M487.3 242.75h1.83M489.3 242.75h.83M491.3 242.75h.83M492.3 242.75h.83M493.3 242.75h.83M494.8 242.75h.83M436.3 243.25h.83M438.3 243.25h.83M441.3 243.25h.83M444.3 243.25h.83M449.3 243.25h2.33M451.8 243.25h33.33M485.3 243.25h1.83M487.3 243.25h2.33M489.8 243.25h.83M490.8 243.25h1.33M492.3 243.25h.83M495.8 243.25h.83M496.8 243.25h.83M499.3 243.25h.83M445.3 243.75h1.33M447.3 243.75h1.83M449.8 243.75h1.33M451.3 243.75h35.33M486.8 243.75h1.33M488.3 243.75h1.33M490.3 243.75h1.33M497.8 243.75h.83M443.3 244.25h.83M447.8 244.25h.83M448.8 244.25h2.83M452.3 244.25h34.83M487.8 244.25h1.83M489.8 244.25h2.83M493.3 244.25h.83M437.8 244.75h1.33M445.8 244.75h4.83M450.8 244.75h38.33M489.3 244.75h1.83M491.3 244.75h.83M492.3 244.75h.83M493.3 244.75h1.33M497.8 244.75h.83M507.3 244.75h.83M429.8 245.25h.83M440.3 245.25h.83M441.8 245.25h.83M445.3 245.25h.83M446.8 245.25h.83M447.8 245.25h.83M448.8 245.25h2.33M451.3 245.25h37.83M489.3 245.25h.83M490.8 245.25h2.33M494.3 245.25h.83M437.8 245.75h.83M445.8 245.75h1.33M447.3 245.75h2.83M450.3 245.75h38.33M488.8 245.75h1.33M492.8 245.75h.83M494.3 245.75h.83M497.8 245.75h.83M499.3 245.75h.83M439.3 246.25h.83M441.3 246.25h.83M444.3 246.25h.83M447.8 246.25h6.33M454.3 246.25h32.83M487.3 246.25h2.33M489.8 246.25h1.83M495.8 246.25h1.33M440.3 246.75h.83M442.8 246.75h.83M443.8 246.75h.83M446.8 246.75h.83M447.8 246.75h.83M449.3 246.75h.83M450.3 246.75h4.83M455.3 246.75h31.33M486.8 246.75h1.83M488.8 246.75h1.83M491.3 246.75h1.83M493.3 246.75h.83M494.3 246.75h1.83M440.8 247.25h.83M444.3 247.25h.83M445.3 247.25h1.33M446.8 247.25h.83M447.8 247.25h1.83M449.8 247.25h41.83M491.8 247.25h.83M493.3 247.25h.83M494.8 247.25h.83M497.3 247.25h.83M440.8 247.75h.83M447.3 247.75h.83M448.3 247.75h4.83M453.3 247.75h39.83M493.8 247.75h.83M494.8 247.75h.83M498.3 247.75h.83M499.3 247.75h.83M440.3 248.25h.83M445.8 248.25h1.33M448.3 248.25h43.83M492.8 248.25h1.33M494.3 248.25h.83M495.3 248.25h.83M496.8 248.25h.83M498.8 248.25h.83M446.3 248.75h2.33M449.3 248.75h1.33M450.8 248.75h39.83M491.3 248.75h1.83M493.8 248.75h.83M434.3 249.25h.83M437.8 249.25h.83M441.8 249.25h.83M448.3 249.25h1.33M449.8 249.25h35.83M485.8 249.25h2.83M488.8 249.25h2.33M491.3 249.25h1.33M493.3 249.25h.83M494.8 249.25h.83M435.3 249.75h.83M437.3 249.75h.83M444.8 249.75h.83M447.3 249.75h40.33M487.8 249.75h1.33M489.3 249.75h1.33M491.3 249.75h1.33M492.8 249.75h.83M493.8 249.75h1.33M433.8 250.25h.83M442.8 250.25h.83M445.3 250.25h.83M446.3 250.25h1.83M448.3 250.25h5.83M454.3 250.25h33.33M487.8 250.25h.83M488.8 250.25h2.33M491.3 250.25h.83M492.3 250.25h.83M493.3 250.25h.83M495.3 250.25h.83M496.8 250.25h.83M497.8 250.25h.83M504.3 250.25h.83M442.8 250.75h.83M445.8 250.75h.83M447.8 250.75h2.83M450.8 250.75h.83M452.3 250.75h37.83M490.3 250.75h1.33M491.8 250.75h.83M493.3 250.75h1.33M494.8 250.75h.83M496.3 250.75h.83M498.3 250.75h.83M447.3 251.25h.83M449.8 251.25h.83M450.8 251.25h.83M451.8 251.25h1.33M453.3 251.25h36.83M490.3 251.25h1.83M492.3 251.25h.83M493.8 251.25h.83M496.8 251.25h.83M497.8 251.25h.83M438.8 251.75h.83M441.3 251.75h.83M447.8 251.75h1.33M449.3 251.75h.83M450.3 251.75h1.33M451.8 251.75h36.83M488.8 251.75h2.33M491.3 251.75h1.83M495.3 251.75h.83M496.3 251.75h.83M498.3 251.75h.83M441.3 252.25h1.33M445.3 252.25h.83M447.3 252.25h.83M449.8 252.25h.83M451.3 252.25h36.83M488.8 252.25h.83M489.8 252.25h1.33M491.8 252.25h1.33M493.3 252.25h.83M495.3 252.25h.83M496.3 252.25h.83M433.8 252.75h.83M439.8 252.75h.83M443.3 252.75h.83M446.8 252.75h.83M448.3 252.75h.83M449.8 252.75h2.33M452.8 252.75h.83M454.3 252.75h34.83M489.8 252.75h1.33M491.3 252.75h1.83M493.8 252.75h.83M440.3 253.25h.83M446.8 253.25h.83M449.3 253.25h1.83M451.8 253.25h1.33M453.3 253.25h8.83M462.3 253.25h21.83M484.3 253.25h6.33M491.3 253.25h1.33M492.8 253.25h.83M494.3 253.25h.83M446.3 253.75h.83M449.8 253.75h.83M450.8 253.75h2.83M453.8 253.75h.83M454.8 253.75h1.33M456.3 253.75h29.83M486.3 253.75h4.83M491.3 253.75h2.33M498.8 253.75h.83M440.8 254.25h.83M447.8 254.25h.83M449.3 254.25h.83M451.8 254.25h1.33M453.3 254.25h1.33M454.8 254.25h.83M456.3 254.25h1.33M457.8 254.25h15.33M473.3 254.25h11.83M485.3 254.25h.83M486.3 254.25h.83M487.3 254.25h1.33M489.8 254.25h.83M490.8 254.25h.83M491.8 254.25h1.33M447.8 254.75h.83M449.8 254.75h.83M452.3 254.75h2.33M454.8 254.75h1.33M456.3 254.75h.83M457.3 254.75h6.33M463.8 254.75h7.33M471.3 254.75h11.33M482.8 254.75h3.33M486.3 254.75h1.33M488.3 254.75h.83M489.3 254.75h1.83M491.8 254.75h.83M492.8 254.75h.83M445.3 255.25h.83M451.3 255.25h.83M454.8 255.25h.83M456.3 255.25h.83M457.3 255.25h16.33M473.8 255.25h2.83M476.8 255.25h3.83M480.8 255.25h2.83M483.8 255.25h1.83M486.3 255.25h1.83M488.3 255.25h1.33M490.8 255.25h.83M440.8 255.75h.83M449.3 255.75h.83M452.3 255.75h1.83M454.8 255.75h.83M456.3 255.75h2.83M459.8 255.75h.83M460.8 255.75h.83M461.8 255.75h2.33M464.3 255.75h3.83M468.3 255.75h4.33M472.8 255.75h4.33M477.3 255.75h4.83M482.8 255.75h2.83M486.3 255.75h1.33M487.8 255.75h.83M488.8 255.75h.83M490.3 255.75h1.33M492.8 255.75h.83M495.8 255.75h.83M437.3 256.25h.83M450.3 256.25h.83M451.8 256.25h1.33M455.8 256.25h.83M457.3 256.25h.83M458.3 256.25h.83M459.8 256.25h2.83M462.8 256.25h1.83M464.8 256.25h1.83M466.8 256.25h1.83M468.8 256.25h1.83M471.8 256.25h6.33M478.3 256.25h7.83M486.8 256.25h1.33M489.3 256.25h.83M490.3 256.25h.83M495.3 256.25h1.33M446.3 256.75h.83M447.3 256.75h1.33M451.8 256.75h.83M454.8 256.75h1.33M456.8 256.75h1.33M458.3 256.75h.83M460.3 256.75h1.33M462.3 256.75h1.33M463.8 256.75h2.33M466.8 256.75h2.33M469.3 256.75h.83M470.3 256.75h1.83M473.8 256.75h.83M474.8 256.75h.83M476.3 256.75h2.33M478.8 256.75h1.33M480.3 256.75h2.33M482.8 256.75h1.33M484.3 256.75h1.83M486.3 256.75h1.33M488.3 256.75h.83M489.3 256.75h.83M490.3 256.75h1.33M494.3 256.75h.83M455.8 257.25h.83M459.3 257.25h1.33M461.8 257.25h.83M462.8 257.25h.83M465.3 257.25h1.83M467.3 257.25h3.33M471.3 257.25h2.33M473.8 257.25h1.33M475.3 257.25h1.83M477.3 257.25h1.33M478.8 257.25h.83M480.3 257.25h1.33M482.8 257.25h.83M483.8 257.25h1.83M487.3 257.25h.83M488.3 257.25h.83M490.8 257.25h.83M451.8 257.75h.83M454.8 257.75h.83M457.3 257.75h.83M460.8 257.75h.83M463.8 257.75h1.33M465.8 257.75h.83M467.8 257.75h.83M470.8 257.75h1.33M472.3 257.75h4.83M477.8 257.75h.83M479.3 257.75h3.83M483.8 257.75h.83M484.8 257.75h.83M485.8 257.75h.83M487.3 257.75h.83M490.3 257.75h.83M491.3 257.75h.83M447.3 258.25h.83M450.8 258.25h.83M453.8 258.25h.83M455.3 258.25h.83M463.3 258.25h.83M465.3 258.25h1.33M468.8 258.25h.83M469.8 258.25h2.33M472.8 258.25h.83M474.8 258.25h1.33M476.3 258.25h.83M477.3 258.25h1.33M481.3 258.25h.83M482.3 258.25h1.83M490.3 258.25h.83M448.8 258.75h.83M452.3 258.75h.83M455.3 258.75h.83M461.8 258.75h1.33M463.8 258.75h.83M468.8 258.75h.83M469.8 258.75h.83M470.8 258.75h1.33M472.3 258.75h.83M473.3 258.75h.83M474.8 258.75h2.33M477.3 258.75h1.33M479.8 258.75h1.33M481.3 258.75h.83M483.3 258.75h.83M484.8 258.75h1.83M491.8 258.75h.83M457.3 259.25h.83M459.8 259.25h.83M462.8 259.25h.83M463.8 259.25h.83M469.8 259.25h1.33M475.8 259.25h1.33M477.3 259.25h1.83M479.3 259.25h.83M480.3 259.25h1.33M482.3 259.25h.83M483.3 259.25h.83M486.3 259.25h.83M497.8 259.25h.83M498.8 259.25h.83M459.3 259.75h1.33M464.8 259.75h.83M472.3 259.75h.83M476.8 259.75h.83M481.8 259.75h.83M485.8 259.75h1.33M464.3 260.25h.83M471.8 260.25h.83M478.8 260.25h.83M482.3 260.25h.83M483.8 260.25h.83M493.8 260.25h.83M452.8 260.75h.83M461.3 260.75h.83M463.3 260.75h.83M477.8 260.75h.83M482.8 260.75h.83M488.8 260.75h.83"/>
<rect class="f" x="398.80" y="152.00" width="119.00" height="110.20"/>
<path class="g" d="M425.40 152.00V262.20M398.80 228.20H517.80"/>
<path class="k" d="M403.30 262.20v3.0M407.79 262.20v3.0M412.29 262.20v3.0M416.78 262.20v3.0M421.28 262.20v5.0M425.77 262.20v3.0M430.26 262.20v3.0M434.76 262.20v3.0M439.25 262.20v3.0M443.75 262.20v5.0M448.25 262.20v3.0M452.74 262.20v3.0M457.24 262.20v3.0M461.73 262.20v3.0M466.23 262.20v5.0M470.72 262.20v3.0M475.22 262.20v3.0M479.71 262.20v3.0M484.21 262.20v3.0M488.70 262.20v5.0M493.19 262.20v3.0M497.69 262.20v3.0M502.19 262.20v3.0M506.68 262.20v3.0M511.18 262.20v5.0M515.67 262.20v3.0M398.80 261.18h-2.4M398.80 257.74h-2.4M398.80 255.08h-2.4M398.80 252.90h-2.4M398.80 251.06h-2.4M398.80 249.47h-2.4M398.80 248.06h-2.4M398.80 246.80h-3.7M398.80 238.52h-2.4M398.80 233.68h-2.4M398.80 230.24h-2.4M398.80 227.58h-2.4M398.80 225.40h-2.4M398.80 223.56h-2.4M398.80 221.97h-2.4M398.80 220.56h-2.4M398.80 219.30h-3.7M398.80 211.02h-2.4M398.80 206.18h-2.4M398.80 202.74h-2.4M398.80 200.08h-2.4M398.80 197.90h-2.4M398.80 196.06h-2.4M398.80 194.47h-2.4M398.80 193.06h-2.4M398.80 191.80h-3.7M398.80 183.52h-2.4M398.80 178.68h-2.4M398.80 175.24h-2.4M398.80 172.58h-2.4M398.80 170.40h-2.4M398.80 168.56h-2.4M398.80 166.97h-2.4M398.80 165.56h-2.4M398.80 164.30h-3.7M398.80 156.02h-2.4"/>
<text class="n" x="420.88" y="273.80">50</text>
<text class="n" x="443.35" y="273.80">100</text>
<text class="n" x="465.83" y="273.80">150</text>
<text class="n" x="488.30" y="273.80">200</text>
<text class="n" x="510.78" y="273.80">250</text>
<text class="a" x="457.70" y="282.60">FSC-H</text>
<text class="m" x="517.70" y="281.40">(x 1,000)</text>
<text class="y" transform="translate(393.20 250.40) rotate(-90)">10<tspan class="s" dx=".2" dy="-3.7">2</tspan></text>
<text class="y" transform="translate(393.20 222.90) rotate(-90)">10<tspan class="s" dx=".2" dy="-3.7">3</tspan></text>
<text class="y" transform="translate(393.20 195.40) rotate(-90)">10<tspan class="s" dx=".2" dy="-3.7">4</tspan></text>
<text class="y" transform="translate(393.20 167.90) rotate(-90)">10<tspan class="s" dx=".2" dy="-3.7">5</tspan></text>
<text class="a" transform="translate(383.10 207.10) rotate(-90)">GFP-A</text>
<text class="t" transform="translate(489.00 164.90) scale(1 1.14)">Jak3</text>
</g>
</g></svg></body></html>
